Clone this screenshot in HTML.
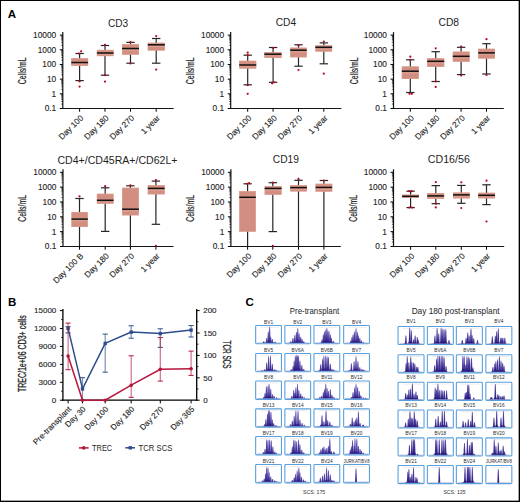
<!DOCTYPE html>
<html><head><meta charset="utf-8"><style>
html,body{margin:0;padding:0;background:#fff;}
#f{position:absolute;left:0;top:0;width:520px;height:502px;box-sizing:border-box;border:1px solid #000;overflow:hidden;}
svg{position:absolute;left:-1px;top:-1px;}
text{font-family:"Liberation Sans", sans-serif;}
.s{stroke:#1e1e1e;stroke-width:0.12px;}
</style></head><body><div id="f">
<svg width="520" height="502" viewBox="0 0 520 502">
<defs><linearGradient id="pg" x1="0" y1="1" x2="0" y2="0"><stop offset="0" stop-color="#20127a"/><stop offset="0.3" stop-color="#3d2d98"/><stop offset="1" stop-color="#7466c2"/></linearGradient><linearGradient id="pg2" x1="0" y1="1" x2="0" y2="0"><stop offset="0" stop-color="#1c0f72"/><stop offset="0.4" stop-color="#352590"/><stop offset="1" stop-color="#6558b4"/></linearGradient></defs>
<line x1="62.8" y1="32.1" x2="62.8" y2="109.1" stroke="#141414" stroke-width="1.2"/>
<line x1="62.199999999999996" y1="108.5" x2="173.7" y2="108.5" stroke="#141414" stroke-width="1.2"/>
<line x1="59.8" y1="35.10" x2="62.8" y2="35.10" stroke="#000" stroke-width="1"/>
<text x="56.20" y="37.95" font-size="8.3" text-anchor="end" fill="#1e1e1e" class="s">10000</text>
<line x1="61.199999999999996" y1="45.36" x2="62.8" y2="45.36" stroke="#000" stroke-width="0.6"/>
<line x1="61.199999999999996" y1="42.78" x2="62.8" y2="42.78" stroke="#000" stroke-width="0.6"/>
<line x1="61.199999999999996" y1="40.94" x2="62.8" y2="40.94" stroke="#000" stroke-width="0.6"/>
<line x1="61.199999999999996" y1="39.52" x2="62.8" y2="39.52" stroke="#000" stroke-width="0.6"/>
<line x1="61.199999999999996" y1="38.36" x2="62.8" y2="38.36" stroke="#000" stroke-width="0.6"/>
<line x1="61.199999999999996" y1="37.37" x2="62.8" y2="37.37" stroke="#000" stroke-width="0.6"/>
<line x1="61.199999999999996" y1="36.52" x2="62.8" y2="36.52" stroke="#000" stroke-width="0.6"/>
<line x1="61.199999999999996" y1="35.77" x2="62.8" y2="35.77" stroke="#000" stroke-width="0.6"/>
<line x1="59.8" y1="49.78" x2="62.8" y2="49.78" stroke="#000" stroke-width="1"/>
<text x="56.20" y="52.63" font-size="8.3" text-anchor="end" fill="#1e1e1e" class="s">1000</text>
<line x1="61.199999999999996" y1="60.04" x2="62.8" y2="60.04" stroke="#000" stroke-width="0.6"/>
<line x1="61.199999999999996" y1="57.46" x2="62.8" y2="57.46" stroke="#000" stroke-width="0.6"/>
<line x1="61.199999999999996" y1="55.62" x2="62.8" y2="55.62" stroke="#000" stroke-width="0.6"/>
<line x1="61.199999999999996" y1="54.20" x2="62.8" y2="54.20" stroke="#000" stroke-width="0.6"/>
<line x1="61.199999999999996" y1="53.04" x2="62.8" y2="53.04" stroke="#000" stroke-width="0.6"/>
<line x1="61.199999999999996" y1="52.05" x2="62.8" y2="52.05" stroke="#000" stroke-width="0.6"/>
<line x1="61.199999999999996" y1="51.20" x2="62.8" y2="51.20" stroke="#000" stroke-width="0.6"/>
<line x1="61.199999999999996" y1="50.45" x2="62.8" y2="50.45" stroke="#000" stroke-width="0.6"/>
<line x1="59.8" y1="64.46" x2="62.8" y2="64.46" stroke="#000" stroke-width="1"/>
<text x="56.20" y="67.31" font-size="8.3" text-anchor="end" fill="#1e1e1e" class="s">100</text>
<line x1="61.199999999999996" y1="74.72" x2="62.8" y2="74.72" stroke="#000" stroke-width="0.6"/>
<line x1="61.199999999999996" y1="72.14" x2="62.8" y2="72.14" stroke="#000" stroke-width="0.6"/>
<line x1="61.199999999999996" y1="70.30" x2="62.8" y2="70.30" stroke="#000" stroke-width="0.6"/>
<line x1="61.199999999999996" y1="68.88" x2="62.8" y2="68.88" stroke="#000" stroke-width="0.6"/>
<line x1="61.199999999999996" y1="67.72" x2="62.8" y2="67.72" stroke="#000" stroke-width="0.6"/>
<line x1="61.199999999999996" y1="66.73" x2="62.8" y2="66.73" stroke="#000" stroke-width="0.6"/>
<line x1="61.199999999999996" y1="65.88" x2="62.8" y2="65.88" stroke="#000" stroke-width="0.6"/>
<line x1="61.199999999999996" y1="65.13" x2="62.8" y2="65.13" stroke="#000" stroke-width="0.6"/>
<line x1="59.8" y1="79.14" x2="62.8" y2="79.14" stroke="#000" stroke-width="1"/>
<text x="56.20" y="81.99" font-size="8.3" text-anchor="end" fill="#1e1e1e" class="s">10</text>
<line x1="61.199999999999996" y1="89.40" x2="62.8" y2="89.40" stroke="#000" stroke-width="0.6"/>
<line x1="61.199999999999996" y1="86.82" x2="62.8" y2="86.82" stroke="#000" stroke-width="0.6"/>
<line x1="61.199999999999996" y1="84.98" x2="62.8" y2="84.98" stroke="#000" stroke-width="0.6"/>
<line x1="61.199999999999996" y1="83.56" x2="62.8" y2="83.56" stroke="#000" stroke-width="0.6"/>
<line x1="61.199999999999996" y1="82.40" x2="62.8" y2="82.40" stroke="#000" stroke-width="0.6"/>
<line x1="61.199999999999996" y1="81.41" x2="62.8" y2="81.41" stroke="#000" stroke-width="0.6"/>
<line x1="61.199999999999996" y1="80.56" x2="62.8" y2="80.56" stroke="#000" stroke-width="0.6"/>
<line x1="61.199999999999996" y1="79.81" x2="62.8" y2="79.81" stroke="#000" stroke-width="0.6"/>
<line x1="59.8" y1="93.82" x2="62.8" y2="93.82" stroke="#000" stroke-width="1"/>
<text x="56.20" y="96.67" font-size="8.3" text-anchor="end" fill="#1e1e1e" class="s">1</text>
<line x1="61.199999999999996" y1="104.08" x2="62.8" y2="104.08" stroke="#000" stroke-width="0.6"/>
<line x1="61.199999999999996" y1="101.50" x2="62.8" y2="101.50" stroke="#000" stroke-width="0.6"/>
<line x1="61.199999999999996" y1="99.66" x2="62.8" y2="99.66" stroke="#000" stroke-width="0.6"/>
<line x1="61.199999999999996" y1="98.24" x2="62.8" y2="98.24" stroke="#000" stroke-width="0.6"/>
<line x1="61.199999999999996" y1="97.08" x2="62.8" y2="97.08" stroke="#000" stroke-width="0.6"/>
<line x1="61.199999999999996" y1="96.09" x2="62.8" y2="96.09" stroke="#000" stroke-width="0.6"/>
<line x1="61.199999999999996" y1="95.24" x2="62.8" y2="95.24" stroke="#000" stroke-width="0.6"/>
<line x1="61.199999999999996" y1="94.49" x2="62.8" y2="94.49" stroke="#000" stroke-width="0.6"/>
<line x1="59.8" y1="108.50" x2="62.8" y2="108.50" stroke="#000" stroke-width="1"/>
<text x="56.20" y="111.35" font-size="8.3" text-anchor="end" fill="#1e1e1e" class="s">0.1</text>
<text x="118.00" y="26.50" font-size="10" text-anchor="middle" textLength="20.2" lengthAdjust="spacingAndGlyphs" fill="#1e1e1e">CD3</text>
<text transform="translate(26.20,70.80) rotate(-90)" font-size="10" text-anchor="middle" textLength="26.8" lengthAdjust="spacingAndGlyphs" fill="#1e1e1e" stroke="#1e1e1e" stroke-width="0.2">Cells/mL</text>
<line x1="79.6" y1="53.5" x2="79.6" y2="80.6" stroke="#262626" stroke-width="1.2"/>
<line x1="75.39999999999999" y1="53.5" x2="83.8" y2="53.5" stroke="#262626" stroke-width="1.2"/>
<line x1="75.39999999999999" y1="80.6" x2="83.8" y2="80.6" stroke="#262626" stroke-width="1.2"/>
<rect x="71.3" y="58.2" width="16.80" height="7.60" fill="#d28e80"/>
<rect x="71.6" y="58.5" width="16.20" height="7.00" fill="none" stroke="#dca090" stroke-width="0.6"/>
<line x1="71.89999999999999" y1="64.2" x2="87.5" y2="64.2" stroke="#e4ac9c" stroke-width="0.7"/>
<line x1="71.3" y1="62.5" x2="88.1" y2="62.5" stroke="#111" stroke-width="1.5"/>
<circle cx="81.1" cy="51.3" r="1.1" fill="#b8061e"/>
<circle cx="78.9" cy="53.5" r="1.1" fill="#b8061e"/>
<circle cx="79.6" cy="81.5" r="1.1" fill="#b8061e"/>
<circle cx="79.6" cy="86.6" r="1.1" fill="#b8061e"/>
<line x1="79.6" y1="108.5" x2="79.6" y2="111.7" stroke="#000" stroke-width="1"/>
<text transform="translate(83.90,118.50) rotate(-45)" font-size="8.3" text-anchor="end" fill="#1e1e1e" class="s">Day 100</text>
<line x1="105" y1="45.5" x2="105" y2="75.2" stroke="#262626" stroke-width="1.2"/>
<line x1="100.8" y1="45.5" x2="109.2" y2="45.5" stroke="#262626" stroke-width="1.2"/>
<line x1="100.8" y1="75.2" x2="109.2" y2="75.2" stroke="#262626" stroke-width="1.2"/>
<rect x="96.9" y="49.9" width="16.60" height="6.20" fill="#d28e80"/>
<rect x="97.2" y="50.199999999999996" width="16.00" height="5.60" fill="none" stroke="#dca090" stroke-width="0.6"/>
<line x1="97.5" y1="54.7" x2="112.9" y2="54.7" stroke="#e4ac9c" stroke-width="0.7"/>
<line x1="96.9" y1="53" x2="113.5" y2="53" stroke="#111" stroke-width="1.5"/>
<circle cx="105" cy="44.8" r="1.1" fill="#b8061e"/>
<circle cx="105" cy="75.2" r="1.1" fill="#b8061e"/>
<circle cx="105" cy="81.6" r="1.1" fill="#b8061e"/>
<line x1="105" y1="108.5" x2="105" y2="111.7" stroke="#000" stroke-width="1"/>
<text transform="translate(109.30,118.50) rotate(-45)" font-size="8.3" text-anchor="end" fill="#1e1e1e" class="s">Day 180</text>
<line x1="130.5" y1="42.4" x2="130.5" y2="63.2" stroke="#262626" stroke-width="1.2"/>
<line x1="126.3" y1="42.4" x2="134.7" y2="42.4" stroke="#262626" stroke-width="1.2"/>
<line x1="126.3" y1="63.2" x2="134.7" y2="63.2" stroke="#262626" stroke-width="1.2"/>
<rect x="122" y="44.2" width="17.00" height="10.40" fill="#d28e80"/>
<rect x="122.3" y="44.5" width="16.40" height="9.80" fill="none" stroke="#dca090" stroke-width="0.6"/>
<line x1="122.6" y1="50.2" x2="138.4" y2="50.2" stroke="#e4ac9c" stroke-width="0.7"/>
<line x1="122" y1="48.5" x2="139" y2="48.5" stroke="#111" stroke-width="1.5"/>
<circle cx="130.5" cy="42.2" r="1.1" fill="#b8061e"/>
<circle cx="130.5" cy="63.5" r="1.1" fill="#b8061e"/>
<line x1="130.5" y1="108.5" x2="130.5" y2="111.7" stroke="#000" stroke-width="1"/>
<text transform="translate(134.80,118.50) rotate(-45)" font-size="8.3" text-anchor="end" fill="#1e1e1e" class="s">Day 270</text>
<line x1="156.2" y1="38.5" x2="156.2" y2="63.2" stroke="#262626" stroke-width="1.2"/>
<line x1="152.0" y1="38.5" x2="160.39999999999998" y2="38.5" stroke="#262626" stroke-width="1.2"/>
<line x1="152.0" y1="63.2" x2="160.39999999999998" y2="63.2" stroke="#262626" stroke-width="1.2"/>
<rect x="147.8" y="42.8" width="17.00" height="7.70" fill="#d28e80"/>
<rect x="148.10000000000002" y="43.099999999999994" width="16.40" height="7.10" fill="none" stroke="#dca090" stroke-width="0.6"/>
<line x1="148.4" y1="46.5" x2="164.20000000000002" y2="46.5" stroke="#e4ac9c" stroke-width="0.7"/>
<line x1="147.8" y1="44.8" x2="164.8" y2="44.8" stroke="#111" stroke-width="1.5"/>
<circle cx="156.2" cy="36.1" r="1.1" fill="#b8061e"/>
<circle cx="156.2" cy="69.6" r="1.1" fill="#b8061e"/>
<line x1="156.2" y1="108.5" x2="156.2" y2="111.7" stroke="#000" stroke-width="1"/>
<text transform="translate(160.50,118.50) rotate(-45)" font-size="8.3" text-anchor="end" fill="#1e1e1e" class="s">1 year</text>
<line x1="230.7" y1="32.1" x2="230.7" y2="109.1" stroke="#141414" stroke-width="1.2"/>
<line x1="230.1" y1="108.5" x2="341.3" y2="108.5" stroke="#141414" stroke-width="1.2"/>
<line x1="227.7" y1="35.10" x2="230.7" y2="35.10" stroke="#000" stroke-width="1"/>
<text x="224.10" y="37.95" font-size="8.3" text-anchor="end" fill="#1e1e1e" class="s">10000</text>
<line x1="229.1" y1="45.36" x2="230.7" y2="45.36" stroke="#000" stroke-width="0.6"/>
<line x1="229.1" y1="42.78" x2="230.7" y2="42.78" stroke="#000" stroke-width="0.6"/>
<line x1="229.1" y1="40.94" x2="230.7" y2="40.94" stroke="#000" stroke-width="0.6"/>
<line x1="229.1" y1="39.52" x2="230.7" y2="39.52" stroke="#000" stroke-width="0.6"/>
<line x1="229.1" y1="38.36" x2="230.7" y2="38.36" stroke="#000" stroke-width="0.6"/>
<line x1="229.1" y1="37.37" x2="230.7" y2="37.37" stroke="#000" stroke-width="0.6"/>
<line x1="229.1" y1="36.52" x2="230.7" y2="36.52" stroke="#000" stroke-width="0.6"/>
<line x1="229.1" y1="35.77" x2="230.7" y2="35.77" stroke="#000" stroke-width="0.6"/>
<line x1="227.7" y1="49.78" x2="230.7" y2="49.78" stroke="#000" stroke-width="1"/>
<text x="224.10" y="52.63" font-size="8.3" text-anchor="end" fill="#1e1e1e" class="s">1000</text>
<line x1="229.1" y1="60.04" x2="230.7" y2="60.04" stroke="#000" stroke-width="0.6"/>
<line x1="229.1" y1="57.46" x2="230.7" y2="57.46" stroke="#000" stroke-width="0.6"/>
<line x1="229.1" y1="55.62" x2="230.7" y2="55.62" stroke="#000" stroke-width="0.6"/>
<line x1="229.1" y1="54.20" x2="230.7" y2="54.20" stroke="#000" stroke-width="0.6"/>
<line x1="229.1" y1="53.04" x2="230.7" y2="53.04" stroke="#000" stroke-width="0.6"/>
<line x1="229.1" y1="52.05" x2="230.7" y2="52.05" stroke="#000" stroke-width="0.6"/>
<line x1="229.1" y1="51.20" x2="230.7" y2="51.20" stroke="#000" stroke-width="0.6"/>
<line x1="229.1" y1="50.45" x2="230.7" y2="50.45" stroke="#000" stroke-width="0.6"/>
<line x1="227.7" y1="64.46" x2="230.7" y2="64.46" stroke="#000" stroke-width="1"/>
<text x="224.10" y="67.31" font-size="8.3" text-anchor="end" fill="#1e1e1e" class="s">100</text>
<line x1="229.1" y1="74.72" x2="230.7" y2="74.72" stroke="#000" stroke-width="0.6"/>
<line x1="229.1" y1="72.14" x2="230.7" y2="72.14" stroke="#000" stroke-width="0.6"/>
<line x1="229.1" y1="70.30" x2="230.7" y2="70.30" stroke="#000" stroke-width="0.6"/>
<line x1="229.1" y1="68.88" x2="230.7" y2="68.88" stroke="#000" stroke-width="0.6"/>
<line x1="229.1" y1="67.72" x2="230.7" y2="67.72" stroke="#000" stroke-width="0.6"/>
<line x1="229.1" y1="66.73" x2="230.7" y2="66.73" stroke="#000" stroke-width="0.6"/>
<line x1="229.1" y1="65.88" x2="230.7" y2="65.88" stroke="#000" stroke-width="0.6"/>
<line x1="229.1" y1="65.13" x2="230.7" y2="65.13" stroke="#000" stroke-width="0.6"/>
<line x1="227.7" y1="79.14" x2="230.7" y2="79.14" stroke="#000" stroke-width="1"/>
<text x="224.10" y="81.99" font-size="8.3" text-anchor="end" fill="#1e1e1e" class="s">10</text>
<line x1="229.1" y1="89.40" x2="230.7" y2="89.40" stroke="#000" stroke-width="0.6"/>
<line x1="229.1" y1="86.82" x2="230.7" y2="86.82" stroke="#000" stroke-width="0.6"/>
<line x1="229.1" y1="84.98" x2="230.7" y2="84.98" stroke="#000" stroke-width="0.6"/>
<line x1="229.1" y1="83.56" x2="230.7" y2="83.56" stroke="#000" stroke-width="0.6"/>
<line x1="229.1" y1="82.40" x2="230.7" y2="82.40" stroke="#000" stroke-width="0.6"/>
<line x1="229.1" y1="81.41" x2="230.7" y2="81.41" stroke="#000" stroke-width="0.6"/>
<line x1="229.1" y1="80.56" x2="230.7" y2="80.56" stroke="#000" stroke-width="0.6"/>
<line x1="229.1" y1="79.81" x2="230.7" y2="79.81" stroke="#000" stroke-width="0.6"/>
<line x1="227.7" y1="93.82" x2="230.7" y2="93.82" stroke="#000" stroke-width="1"/>
<text x="224.10" y="96.67" font-size="8.3" text-anchor="end" fill="#1e1e1e" class="s">1</text>
<line x1="229.1" y1="104.08" x2="230.7" y2="104.08" stroke="#000" stroke-width="0.6"/>
<line x1="229.1" y1="101.50" x2="230.7" y2="101.50" stroke="#000" stroke-width="0.6"/>
<line x1="229.1" y1="99.66" x2="230.7" y2="99.66" stroke="#000" stroke-width="0.6"/>
<line x1="229.1" y1="98.24" x2="230.7" y2="98.24" stroke="#000" stroke-width="0.6"/>
<line x1="229.1" y1="97.08" x2="230.7" y2="97.08" stroke="#000" stroke-width="0.6"/>
<line x1="229.1" y1="96.09" x2="230.7" y2="96.09" stroke="#000" stroke-width="0.6"/>
<line x1="229.1" y1="95.24" x2="230.7" y2="95.24" stroke="#000" stroke-width="0.6"/>
<line x1="229.1" y1="94.49" x2="230.7" y2="94.49" stroke="#000" stroke-width="0.6"/>
<line x1="227.7" y1="108.50" x2="230.7" y2="108.50" stroke="#000" stroke-width="1"/>
<text x="224.10" y="111.35" font-size="8.3" text-anchor="end" fill="#1e1e1e" class="s">0.1</text>
<text x="285.90" y="26.40" font-size="10" text-anchor="middle" textLength="20.4" lengthAdjust="spacingAndGlyphs" fill="#1e1e1e">CD4</text>
<text transform="translate(193.80,70.80) rotate(-90)" font-size="10" text-anchor="middle" textLength="26.8" lengthAdjust="spacingAndGlyphs" fill="#1e1e1e" stroke="#1e1e1e" stroke-width="0.2">Cells/mL</text>
<line x1="247.7" y1="55.2" x2="247.7" y2="84.8" stroke="#262626" stroke-width="1.2"/>
<line x1="243.5" y1="55.2" x2="251.89999999999998" y2="55.2" stroke="#262626" stroke-width="1.2"/>
<line x1="243.5" y1="84.8" x2="251.89999999999998" y2="84.8" stroke="#262626" stroke-width="1.2"/>
<rect x="239.2" y="60.8" width="17.00" height="7.70" fill="#d28e80"/>
<rect x="239.5" y="61.099999999999994" width="16.40" height="7.10" fill="none" stroke="#dca090" stroke-width="0.6"/>
<line x1="239.79999999999998" y1="66.7" x2="255.6" y2="66.7" stroke="#e4ac9c" stroke-width="0.7"/>
<line x1="239.2" y1="65" x2="256.2" y2="65" stroke="#111" stroke-width="1.5"/>
<circle cx="247.7" cy="52.7" r="1.1" fill="#b8061e"/>
<circle cx="247.7" cy="55.2" r="1.1" fill="#b8061e"/>
<circle cx="247.7" cy="85.2" r="1.1" fill="#b8061e"/>
<circle cx="247.7" cy="93.8" r="1.1" fill="#b8061e"/>
<line x1="247.7" y1="108.5" x2="247.7" y2="111.7" stroke="#000" stroke-width="1"/>
<text transform="translate(252.00,118.50) rotate(-45)" font-size="8.3" text-anchor="end" fill="#1e1e1e" class="s">Day 100</text>
<line x1="273.1" y1="47.5" x2="273.1" y2="82.3" stroke="#262626" stroke-width="1.2"/>
<line x1="268.90000000000003" y1="47.5" x2="277.3" y2="47.5" stroke="#262626" stroke-width="1.2"/>
<line x1="268.90000000000003" y1="82.3" x2="277.3" y2="82.3" stroke="#262626" stroke-width="1.2"/>
<rect x="264.4" y="52.1" width="17.10" height="5.80" fill="#d28e80"/>
<rect x="264.7" y="52.4" width="16.50" height="5.20" fill="none" stroke="#dca090" stroke-width="0.6"/>
<line x1="265.0" y1="55.900000000000006" x2="280.9" y2="55.900000000000006" stroke="#e4ac9c" stroke-width="0.7"/>
<line x1="264.4" y1="54.2" x2="281.5" y2="54.2" stroke="#111" stroke-width="1.5"/>
<circle cx="273.1" cy="47.9" r="1.1" fill="#b8061e"/>
<circle cx="272.1" cy="83.3" r="1.1" fill="#b8061e"/>
<circle cx="274" cy="82.3" r="1.1" fill="#b8061e"/>
<line x1="273.1" y1="108.5" x2="273.1" y2="111.7" stroke="#000" stroke-width="1"/>
<text transform="translate(277.40,118.50) rotate(-45)" font-size="8.3" text-anchor="end" fill="#1e1e1e" class="s">Day 180</text>
<line x1="298.5" y1="44.8" x2="298.5" y2="66.2" stroke="#262626" stroke-width="1.2"/>
<line x1="294.3" y1="44.8" x2="302.7" y2="44.8" stroke="#262626" stroke-width="1.2"/>
<line x1="294.3" y1="66.2" x2="302.7" y2="66.2" stroke="#262626" stroke-width="1.2"/>
<rect x="290.2" y="47.7" width="16.50" height="9.60" fill="#d28e80"/>
<rect x="290.5" y="48.0" width="15.90" height="9.00" fill="none" stroke="#dca090" stroke-width="0.6"/>
<line x1="290.8" y1="51.900000000000006" x2="306.09999999999997" y2="51.900000000000006" stroke="#e4ac9c" stroke-width="0.7"/>
<line x1="290.2" y1="50.2" x2="306.7" y2="50.2" stroke="#111" stroke-width="1.5"/>
<circle cx="298.5" cy="45.2" r="1.1" fill="#b8061e"/>
<circle cx="298.5" cy="70" r="1.1" fill="#b8061e"/>
<line x1="298.5" y1="108.5" x2="298.5" y2="111.7" stroke="#000" stroke-width="1"/>
<text transform="translate(302.80,118.50) rotate(-45)" font-size="8.3" text-anchor="end" fill="#1e1e1e" class="s">Day 270</text>
<line x1="323.8" y1="42.9" x2="323.8" y2="63.8" stroke="#262626" stroke-width="1.2"/>
<line x1="319.6" y1="42.9" x2="328.0" y2="42.9" stroke="#262626" stroke-width="1.2"/>
<line x1="319.6" y1="63.8" x2="328.0" y2="63.8" stroke="#262626" stroke-width="1.2"/>
<rect x="315.4" y="45.4" width="16.70" height="6.10" fill="#d28e80"/>
<rect x="315.7" y="45.699999999999996" width="16.10" height="5.50" fill="none" stroke="#dca090" stroke-width="0.6"/>
<line x1="316.0" y1="49.0" x2="331.5" y2="49.0" stroke="#e4ac9c" stroke-width="0.7"/>
<line x1="315.4" y1="47.3" x2="332.1" y2="47.3" stroke="#111" stroke-width="1.5"/>
<circle cx="323.8" cy="41.5" r="1.1" fill="#b8061e"/>
<circle cx="323.8" cy="73.7" r="1.1" fill="#b8061e"/>
<line x1="323.8" y1="108.5" x2="323.8" y2="111.7" stroke="#000" stroke-width="1"/>
<text transform="translate(328.10,118.50) rotate(-45)" font-size="8.3" text-anchor="end" fill="#1e1e1e" class="s">1 year</text>
<line x1="393.5" y1="32.1" x2="393.5" y2="109.1" stroke="#141414" stroke-width="1.2"/>
<line x1="392.9" y1="108.5" x2="503.8" y2="108.5" stroke="#141414" stroke-width="1.2"/>
<line x1="390.5" y1="35.10" x2="393.5" y2="35.10" stroke="#000" stroke-width="1"/>
<text x="386.90" y="37.95" font-size="8.3" text-anchor="end" fill="#1e1e1e" class="s">10000</text>
<line x1="391.9" y1="45.36" x2="393.5" y2="45.36" stroke="#000" stroke-width="0.6"/>
<line x1="391.9" y1="42.78" x2="393.5" y2="42.78" stroke="#000" stroke-width="0.6"/>
<line x1="391.9" y1="40.94" x2="393.5" y2="40.94" stroke="#000" stroke-width="0.6"/>
<line x1="391.9" y1="39.52" x2="393.5" y2="39.52" stroke="#000" stroke-width="0.6"/>
<line x1="391.9" y1="38.36" x2="393.5" y2="38.36" stroke="#000" stroke-width="0.6"/>
<line x1="391.9" y1="37.37" x2="393.5" y2="37.37" stroke="#000" stroke-width="0.6"/>
<line x1="391.9" y1="36.52" x2="393.5" y2="36.52" stroke="#000" stroke-width="0.6"/>
<line x1="391.9" y1="35.77" x2="393.5" y2="35.77" stroke="#000" stroke-width="0.6"/>
<line x1="390.5" y1="49.78" x2="393.5" y2="49.78" stroke="#000" stroke-width="1"/>
<text x="386.90" y="52.63" font-size="8.3" text-anchor="end" fill="#1e1e1e" class="s">1000</text>
<line x1="391.9" y1="60.04" x2="393.5" y2="60.04" stroke="#000" stroke-width="0.6"/>
<line x1="391.9" y1="57.46" x2="393.5" y2="57.46" stroke="#000" stroke-width="0.6"/>
<line x1="391.9" y1="55.62" x2="393.5" y2="55.62" stroke="#000" stroke-width="0.6"/>
<line x1="391.9" y1="54.20" x2="393.5" y2="54.20" stroke="#000" stroke-width="0.6"/>
<line x1="391.9" y1="53.04" x2="393.5" y2="53.04" stroke="#000" stroke-width="0.6"/>
<line x1="391.9" y1="52.05" x2="393.5" y2="52.05" stroke="#000" stroke-width="0.6"/>
<line x1="391.9" y1="51.20" x2="393.5" y2="51.20" stroke="#000" stroke-width="0.6"/>
<line x1="391.9" y1="50.45" x2="393.5" y2="50.45" stroke="#000" stroke-width="0.6"/>
<line x1="390.5" y1="64.46" x2="393.5" y2="64.46" stroke="#000" stroke-width="1"/>
<text x="386.90" y="67.31" font-size="8.3" text-anchor="end" fill="#1e1e1e" class="s">100</text>
<line x1="391.9" y1="74.72" x2="393.5" y2="74.72" stroke="#000" stroke-width="0.6"/>
<line x1="391.9" y1="72.14" x2="393.5" y2="72.14" stroke="#000" stroke-width="0.6"/>
<line x1="391.9" y1="70.30" x2="393.5" y2="70.30" stroke="#000" stroke-width="0.6"/>
<line x1="391.9" y1="68.88" x2="393.5" y2="68.88" stroke="#000" stroke-width="0.6"/>
<line x1="391.9" y1="67.72" x2="393.5" y2="67.72" stroke="#000" stroke-width="0.6"/>
<line x1="391.9" y1="66.73" x2="393.5" y2="66.73" stroke="#000" stroke-width="0.6"/>
<line x1="391.9" y1="65.88" x2="393.5" y2="65.88" stroke="#000" stroke-width="0.6"/>
<line x1="391.9" y1="65.13" x2="393.5" y2="65.13" stroke="#000" stroke-width="0.6"/>
<line x1="390.5" y1="79.14" x2="393.5" y2="79.14" stroke="#000" stroke-width="1"/>
<text x="386.90" y="81.99" font-size="8.3" text-anchor="end" fill="#1e1e1e" class="s">10</text>
<line x1="391.9" y1="89.40" x2="393.5" y2="89.40" stroke="#000" stroke-width="0.6"/>
<line x1="391.9" y1="86.82" x2="393.5" y2="86.82" stroke="#000" stroke-width="0.6"/>
<line x1="391.9" y1="84.98" x2="393.5" y2="84.98" stroke="#000" stroke-width="0.6"/>
<line x1="391.9" y1="83.56" x2="393.5" y2="83.56" stroke="#000" stroke-width="0.6"/>
<line x1="391.9" y1="82.40" x2="393.5" y2="82.40" stroke="#000" stroke-width="0.6"/>
<line x1="391.9" y1="81.41" x2="393.5" y2="81.41" stroke="#000" stroke-width="0.6"/>
<line x1="391.9" y1="80.56" x2="393.5" y2="80.56" stroke="#000" stroke-width="0.6"/>
<line x1="391.9" y1="79.81" x2="393.5" y2="79.81" stroke="#000" stroke-width="0.6"/>
<line x1="390.5" y1="93.82" x2="393.5" y2="93.82" stroke="#000" stroke-width="1"/>
<text x="386.90" y="96.67" font-size="8.3" text-anchor="end" fill="#1e1e1e" class="s">1</text>
<line x1="391.9" y1="104.08" x2="393.5" y2="104.08" stroke="#000" stroke-width="0.6"/>
<line x1="391.9" y1="101.50" x2="393.5" y2="101.50" stroke="#000" stroke-width="0.6"/>
<line x1="391.9" y1="99.66" x2="393.5" y2="99.66" stroke="#000" stroke-width="0.6"/>
<line x1="391.9" y1="98.24" x2="393.5" y2="98.24" stroke="#000" stroke-width="0.6"/>
<line x1="391.9" y1="97.08" x2="393.5" y2="97.08" stroke="#000" stroke-width="0.6"/>
<line x1="391.9" y1="96.09" x2="393.5" y2="96.09" stroke="#000" stroke-width="0.6"/>
<line x1="391.9" y1="95.24" x2="393.5" y2="95.24" stroke="#000" stroke-width="0.6"/>
<line x1="391.9" y1="94.49" x2="393.5" y2="94.49" stroke="#000" stroke-width="0.6"/>
<line x1="390.5" y1="108.50" x2="393.5" y2="108.50" stroke="#000" stroke-width="1"/>
<text x="386.90" y="111.35" font-size="8.3" text-anchor="end" fill="#1e1e1e" class="s">0.1</text>
<text x="448.80" y="26.40" font-size="10" text-anchor="middle" textLength="20.6" lengthAdjust="spacingAndGlyphs" fill="#1e1e1e">CD8</text>
<text transform="translate(357.50,70.80) rotate(-90)" font-size="10" text-anchor="middle" textLength="26.8" lengthAdjust="spacingAndGlyphs" fill="#1e1e1e" stroke="#1e1e1e" stroke-width="0.2">Cells/mL</text>
<line x1="410.3" y1="59.8" x2="410.3" y2="92.5" stroke="#262626" stroke-width="1.2"/>
<line x1="406.1" y1="59.8" x2="414.5" y2="59.8" stroke="#262626" stroke-width="1.2"/>
<line x1="406.1" y1="92.5" x2="414.5" y2="92.5" stroke="#262626" stroke-width="1.2"/>
<rect x="401.8" y="66.5" width="17.00" height="12.50" fill="#d28e80"/>
<rect x="402.1" y="66.8" width="16.40" height="11.90" fill="none" stroke="#dca090" stroke-width="0.6"/>
<line x1="402.40000000000003" y1="72.9" x2="418.2" y2="72.9" stroke="#e4ac9c" stroke-width="0.7"/>
<line x1="401.8" y1="71.2" x2="418.8" y2="71.2" stroke="#111" stroke-width="1.5"/>
<circle cx="410.3" cy="56.7" r="1.1" fill="#b8061e"/>
<circle cx="410.3" cy="59.8" r="1.1" fill="#b8061e"/>
<circle cx="409.5" cy="93.8" r="1.1" fill="#b8061e"/>
<circle cx="411.8" cy="93.8" r="1.1" fill="#b8061e"/>
<line x1="410.3" y1="108.5" x2="410.3" y2="111.7" stroke="#000" stroke-width="1"/>
<text transform="translate(414.60,118.50) rotate(-45)" font-size="8.3" text-anchor="end" fill="#1e1e1e" class="s">Day 100</text>
<line x1="435.7" y1="51.7" x2="435.7" y2="81.5" stroke="#262626" stroke-width="1.2"/>
<line x1="431.5" y1="51.7" x2="439.9" y2="51.7" stroke="#262626" stroke-width="1.2"/>
<line x1="431.5" y1="81.5" x2="439.9" y2="81.5" stroke="#262626" stroke-width="1.2"/>
<rect x="427.2" y="58.3" width="17.00" height="8.60" fill="#d28e80"/>
<rect x="427.5" y="58.599999999999994" width="16.40" height="8.00" fill="none" stroke="#dca090" stroke-width="0.6"/>
<line x1="427.8" y1="63.0" x2="443.59999999999997" y2="63.0" stroke="#e4ac9c" stroke-width="0.7"/>
<line x1="427.2" y1="61.3" x2="444.2" y2="61.3" stroke="#111" stroke-width="1.5"/>
<circle cx="435.7" cy="48.3" r="1.1" fill="#b8061e"/>
<circle cx="435.7" cy="81.5" r="1.1" fill="#b8061e"/>
<circle cx="435.7" cy="86.9" r="1.1" fill="#b8061e"/>
<line x1="435.7" y1="108.5" x2="435.7" y2="111.7" stroke="#000" stroke-width="1"/>
<text transform="translate(440.00,118.50) rotate(-45)" font-size="8.3" text-anchor="end" fill="#1e1e1e" class="s">Day 180</text>
<line x1="461.1" y1="47.3" x2="461.1" y2="74.6" stroke="#262626" stroke-width="1.2"/>
<line x1="456.90000000000003" y1="47.3" x2="465.3" y2="47.3" stroke="#262626" stroke-width="1.2"/>
<line x1="456.90000000000003" y1="74.6" x2="465.3" y2="74.6" stroke="#262626" stroke-width="1.2"/>
<rect x="452.8" y="51.7" width="16.70" height="10.00" fill="#d28e80"/>
<rect x="453.1" y="52.0" width="16.10" height="9.40" fill="none" stroke="#dca090" stroke-width="0.6"/>
<line x1="453.40000000000003" y1="58.0" x2="468.9" y2="58.0" stroke="#e4ac9c" stroke-width="0.7"/>
<line x1="452.8" y1="56.3" x2="469.5" y2="56.3" stroke="#111" stroke-width="1.5"/>
<circle cx="461.1" cy="46.5" r="1.1" fill="#b8061e"/>
<circle cx="461.1" cy="75.4" r="1.1" fill="#b8061e"/>
<line x1="461.1" y1="108.5" x2="461.1" y2="111.7" stroke="#000" stroke-width="1"/>
<text transform="translate(465.40,118.50) rotate(-45)" font-size="8.3" text-anchor="end" fill="#1e1e1e" class="s">Day 270</text>
<line x1="486.5" y1="43.7" x2="486.5" y2="74" stroke="#262626" stroke-width="1.2"/>
<line x1="482.3" y1="43.7" x2="490.7" y2="43.7" stroke="#262626" stroke-width="1.2"/>
<line x1="482.3" y1="74" x2="490.7" y2="74" stroke="#262626" stroke-width="1.2"/>
<rect x="478.2" y="48.8" width="16.70" height="9.70" fill="#d28e80"/>
<rect x="478.5" y="49.099999999999994" width="16.10" height="9.10" fill="none" stroke="#dca090" stroke-width="0.6"/>
<line x1="478.8" y1="54.6" x2="494.29999999999995" y2="54.6" stroke="#e4ac9c" stroke-width="0.7"/>
<line x1="478.2" y1="52.9" x2="494.9" y2="52.9" stroke="#111" stroke-width="1.5"/>
<circle cx="486.5" cy="39.2" r="1.1" fill="#b8061e"/>
<circle cx="486.5" cy="75" r="1.1" fill="#b8061e"/>
<line x1="486.5" y1="108.5" x2="486.5" y2="111.7" stroke="#000" stroke-width="1"/>
<text transform="translate(490.80,118.50) rotate(-45)" font-size="8.3" text-anchor="end" fill="#1e1e1e" class="s">1 year</text>
<line x1="63.0" y1="169.3" x2="63.0" y2="247.1" stroke="#141414" stroke-width="1.2"/>
<line x1="62.4" y1="246.5" x2="173.5" y2="246.5" stroke="#141414" stroke-width="1.2"/>
<line x1="60.0" y1="172.30" x2="63.0" y2="172.30" stroke="#000" stroke-width="1"/>
<text x="56.40" y="175.15" font-size="8.3" text-anchor="end" fill="#1e1e1e" class="s">10000</text>
<line x1="61.4" y1="182.67" x2="63.0" y2="182.67" stroke="#000" stroke-width="0.6"/>
<line x1="61.4" y1="180.06" x2="63.0" y2="180.06" stroke="#000" stroke-width="0.6"/>
<line x1="61.4" y1="178.21" x2="63.0" y2="178.21" stroke="#000" stroke-width="0.6"/>
<line x1="61.4" y1="176.77" x2="63.0" y2="176.77" stroke="#000" stroke-width="0.6"/>
<line x1="61.4" y1="175.59" x2="63.0" y2="175.59" stroke="#000" stroke-width="0.6"/>
<line x1="61.4" y1="174.60" x2="63.0" y2="174.60" stroke="#000" stroke-width="0.6"/>
<line x1="61.4" y1="173.74" x2="63.0" y2="173.74" stroke="#000" stroke-width="0.6"/>
<line x1="61.4" y1="172.98" x2="63.0" y2="172.98" stroke="#000" stroke-width="0.6"/>
<line x1="60.0" y1="187.14" x2="63.0" y2="187.14" stroke="#000" stroke-width="1"/>
<text x="56.40" y="189.99" font-size="8.3" text-anchor="end" fill="#1e1e1e" class="s">1000</text>
<line x1="61.4" y1="197.51" x2="63.0" y2="197.51" stroke="#000" stroke-width="0.6"/>
<line x1="61.4" y1="194.90" x2="63.0" y2="194.90" stroke="#000" stroke-width="0.6"/>
<line x1="61.4" y1="193.05" x2="63.0" y2="193.05" stroke="#000" stroke-width="0.6"/>
<line x1="61.4" y1="191.61" x2="63.0" y2="191.61" stroke="#000" stroke-width="0.6"/>
<line x1="61.4" y1="190.43" x2="63.0" y2="190.43" stroke="#000" stroke-width="0.6"/>
<line x1="61.4" y1="189.44" x2="63.0" y2="189.44" stroke="#000" stroke-width="0.6"/>
<line x1="61.4" y1="188.58" x2="63.0" y2="188.58" stroke="#000" stroke-width="0.6"/>
<line x1="61.4" y1="187.82" x2="63.0" y2="187.82" stroke="#000" stroke-width="0.6"/>
<line x1="60.0" y1="201.98" x2="63.0" y2="201.98" stroke="#000" stroke-width="1"/>
<text x="56.40" y="204.83" font-size="8.3" text-anchor="end" fill="#1e1e1e" class="s">100</text>
<line x1="61.4" y1="212.35" x2="63.0" y2="212.35" stroke="#000" stroke-width="0.6"/>
<line x1="61.4" y1="209.74" x2="63.0" y2="209.74" stroke="#000" stroke-width="0.6"/>
<line x1="61.4" y1="207.89" x2="63.0" y2="207.89" stroke="#000" stroke-width="0.6"/>
<line x1="61.4" y1="206.45" x2="63.0" y2="206.45" stroke="#000" stroke-width="0.6"/>
<line x1="61.4" y1="205.27" x2="63.0" y2="205.27" stroke="#000" stroke-width="0.6"/>
<line x1="61.4" y1="204.28" x2="63.0" y2="204.28" stroke="#000" stroke-width="0.6"/>
<line x1="61.4" y1="203.42" x2="63.0" y2="203.42" stroke="#000" stroke-width="0.6"/>
<line x1="61.4" y1="202.66" x2="63.0" y2="202.66" stroke="#000" stroke-width="0.6"/>
<line x1="60.0" y1="216.82" x2="63.0" y2="216.82" stroke="#000" stroke-width="1"/>
<text x="56.40" y="219.67" font-size="8.3" text-anchor="end" fill="#1e1e1e" class="s">10</text>
<line x1="61.4" y1="227.19" x2="63.0" y2="227.19" stroke="#000" stroke-width="0.6"/>
<line x1="61.4" y1="224.58" x2="63.0" y2="224.58" stroke="#000" stroke-width="0.6"/>
<line x1="61.4" y1="222.73" x2="63.0" y2="222.73" stroke="#000" stroke-width="0.6"/>
<line x1="61.4" y1="221.29" x2="63.0" y2="221.29" stroke="#000" stroke-width="0.6"/>
<line x1="61.4" y1="220.11" x2="63.0" y2="220.11" stroke="#000" stroke-width="0.6"/>
<line x1="61.4" y1="219.12" x2="63.0" y2="219.12" stroke="#000" stroke-width="0.6"/>
<line x1="61.4" y1="218.26" x2="63.0" y2="218.26" stroke="#000" stroke-width="0.6"/>
<line x1="61.4" y1="217.50" x2="63.0" y2="217.50" stroke="#000" stroke-width="0.6"/>
<line x1="60.0" y1="231.66" x2="63.0" y2="231.66" stroke="#000" stroke-width="1"/>
<text x="56.40" y="234.51" font-size="8.3" text-anchor="end" fill="#1e1e1e" class="s">1</text>
<line x1="61.4" y1="242.03" x2="63.0" y2="242.03" stroke="#000" stroke-width="0.6"/>
<line x1="61.4" y1="239.42" x2="63.0" y2="239.42" stroke="#000" stroke-width="0.6"/>
<line x1="61.4" y1="237.57" x2="63.0" y2="237.57" stroke="#000" stroke-width="0.6"/>
<line x1="61.4" y1="236.13" x2="63.0" y2="236.13" stroke="#000" stroke-width="0.6"/>
<line x1="61.4" y1="234.95" x2="63.0" y2="234.95" stroke="#000" stroke-width="0.6"/>
<line x1="61.4" y1="233.96" x2="63.0" y2="233.96" stroke="#000" stroke-width="0.6"/>
<line x1="61.4" y1="233.10" x2="63.0" y2="233.10" stroke="#000" stroke-width="0.6"/>
<line x1="61.4" y1="232.34" x2="63.0" y2="232.34" stroke="#000" stroke-width="0.6"/>
<line x1="60.0" y1="246.50" x2="63.0" y2="246.50" stroke="#000" stroke-width="1"/>
<text x="56.40" y="249.35" font-size="8.3" text-anchor="end" fill="#1e1e1e" class="s">0.1</text>
<text x="117.50" y="163.60" font-size="10" text-anchor="middle" textLength="120" lengthAdjust="spacingAndGlyphs" fill="#1e1e1e">CD4+/CD45RA+/CD62L+</text>
<text transform="translate(26.20,208.40) rotate(-90)" font-size="10" text-anchor="middle" textLength="26.8" lengthAdjust="spacingAndGlyphs" fill="#1e1e1e" stroke="#1e1e1e" stroke-width="0.2">Cells/mL</text>
<line x1="79.5" y1="198.5" x2="79.5" y2="246.5" stroke="#262626" stroke-width="1.2"/>
<line x1="75.3" y1="198.5" x2="83.7" y2="198.5" stroke="#262626" stroke-width="1.2"/>
<rect x="71.5" y="212" width="16.30" height="15.00" fill="#d28e80"/>
<rect x="71.8" y="212.3" width="15.70" height="14.40" fill="none" stroke="#dca090" stroke-width="0.6"/>
<line x1="72.1" y1="220.79999999999998" x2="87.2" y2="220.79999999999998" stroke="#e4ac9c" stroke-width="0.7"/>
<line x1="71.5" y1="219.1" x2="87.8" y2="219.1" stroke="#111" stroke-width="1.5"/>
<circle cx="79.5" cy="196.3" r="1.1" fill="#b8061e"/>
<line x1="79.5" y1="246.5" x2="79.5" y2="249.7" stroke="#000" stroke-width="1"/>
<text transform="translate(83.80,256.50) rotate(-45)" font-size="8.3" text-anchor="end" fill="#1e1e1e" class="s">Day 100 B</text>
<line x1="105.2" y1="187.8" x2="105.2" y2="231.4" stroke="#262626" stroke-width="1.2"/>
<line x1="101.0" y1="187.8" x2="109.4" y2="187.8" stroke="#262626" stroke-width="1.2"/>
<line x1="101.0" y1="231.4" x2="109.4" y2="231.4" stroke="#262626" stroke-width="1.2"/>
<rect x="96.9" y="193.8" width="16.60" height="9.90" fill="#d28e80"/>
<rect x="97.2" y="194.10000000000002" width="16.00" height="9.30" fill="none" stroke="#dca090" stroke-width="0.6"/>
<line x1="97.5" y1="202.0" x2="112.9" y2="202.0" stroke="#e4ac9c" stroke-width="0.7"/>
<line x1="96.9" y1="200.3" x2="113.5" y2="200.3" stroke="#111" stroke-width="1.5"/>
<circle cx="105.2" cy="186.2" r="1.1" fill="#b8061e"/>
<line x1="105.2" y1="246.5" x2="105.2" y2="249.7" stroke="#000" stroke-width="1"/>
<text transform="translate(109.50,256.50) rotate(-45)" font-size="8.3" text-anchor="end" fill="#1e1e1e" class="s">Day 180</text>
<line x1="130.4" y1="185.8" x2="130.4" y2="246.5" stroke="#262626" stroke-width="1.2"/>
<line x1="126.2" y1="185.8" x2="134.6" y2="185.8" stroke="#262626" stroke-width="1.2"/>
<rect x="122.1" y="187.8" width="16.80" height="27.50" fill="#d28e80"/>
<rect x="122.39999999999999" y="188.10000000000002" width="16.20" height="26.90" fill="none" stroke="#dca090" stroke-width="0.6"/>
<line x1="122.69999999999999" y1="210.89999999999998" x2="138.3" y2="210.89999999999998" stroke="#e4ac9c" stroke-width="0.7"/>
<line x1="122.1" y1="209.2" x2="138.9" y2="209.2" stroke="#111" stroke-width="1.5"/>
<circle cx="130.4" cy="185.4" r="1.1" fill="#b8061e"/>
<line x1="130.4" y1="246.5" x2="130.4" y2="249.7" stroke="#000" stroke-width="1"/>
<text transform="translate(134.70,256.50) rotate(-45)" font-size="8.3" text-anchor="end" fill="#1e1e1e" class="s">Day 270</text>
<line x1="155.9" y1="181.1" x2="155.9" y2="224.3" stroke="#262626" stroke-width="1.2"/>
<line x1="151.70000000000002" y1="181.1" x2="160.1" y2="181.1" stroke="#262626" stroke-width="1.2"/>
<line x1="151.70000000000002" y1="224.3" x2="160.1" y2="224.3" stroke="#262626" stroke-width="1.2"/>
<rect x="147.8" y="185.2" width="16.80" height="9.10" fill="#d28e80"/>
<rect x="148.10000000000002" y="185.5" width="16.20" height="8.50" fill="none" stroke="#dca090" stroke-width="0.6"/>
<line x1="148.4" y1="190.1" x2="164.0" y2="190.1" stroke="#e4ac9c" stroke-width="0.7"/>
<line x1="147.8" y1="188.4" x2="164.6" y2="188.4" stroke="#111" stroke-width="1.5"/>
<circle cx="155.9" cy="180.1" r="1.1" fill="#b8061e"/>
<circle cx="155.9" cy="245.9" r="1.1" fill="#b8061e"/>
<line x1="155.9" y1="246.5" x2="155.9" y2="249.7" stroke="#000" stroke-width="1"/>
<text transform="translate(160.20,256.50) rotate(-45)" font-size="8.3" text-anchor="end" fill="#1e1e1e" class="s">1 year</text>
<line x1="230.9" y1="169.3" x2="230.9" y2="247.1" stroke="#141414" stroke-width="1.2"/>
<line x1="230.3" y1="246.5" x2="340.8" y2="246.5" stroke="#141414" stroke-width="1.2"/>
<line x1="227.9" y1="172.30" x2="230.9" y2="172.30" stroke="#000" stroke-width="1"/>
<text x="224.30" y="175.15" font-size="8.3" text-anchor="end" fill="#1e1e1e" class="s">10000</text>
<line x1="229.3" y1="182.67" x2="230.9" y2="182.67" stroke="#000" stroke-width="0.6"/>
<line x1="229.3" y1="180.06" x2="230.9" y2="180.06" stroke="#000" stroke-width="0.6"/>
<line x1="229.3" y1="178.21" x2="230.9" y2="178.21" stroke="#000" stroke-width="0.6"/>
<line x1="229.3" y1="176.77" x2="230.9" y2="176.77" stroke="#000" stroke-width="0.6"/>
<line x1="229.3" y1="175.59" x2="230.9" y2="175.59" stroke="#000" stroke-width="0.6"/>
<line x1="229.3" y1="174.60" x2="230.9" y2="174.60" stroke="#000" stroke-width="0.6"/>
<line x1="229.3" y1="173.74" x2="230.9" y2="173.74" stroke="#000" stroke-width="0.6"/>
<line x1="229.3" y1="172.98" x2="230.9" y2="172.98" stroke="#000" stroke-width="0.6"/>
<line x1="227.9" y1="187.14" x2="230.9" y2="187.14" stroke="#000" stroke-width="1"/>
<text x="224.30" y="189.99" font-size="8.3" text-anchor="end" fill="#1e1e1e" class="s">1000</text>
<line x1="229.3" y1="197.51" x2="230.9" y2="197.51" stroke="#000" stroke-width="0.6"/>
<line x1="229.3" y1="194.90" x2="230.9" y2="194.90" stroke="#000" stroke-width="0.6"/>
<line x1="229.3" y1="193.05" x2="230.9" y2="193.05" stroke="#000" stroke-width="0.6"/>
<line x1="229.3" y1="191.61" x2="230.9" y2="191.61" stroke="#000" stroke-width="0.6"/>
<line x1="229.3" y1="190.43" x2="230.9" y2="190.43" stroke="#000" stroke-width="0.6"/>
<line x1="229.3" y1="189.44" x2="230.9" y2="189.44" stroke="#000" stroke-width="0.6"/>
<line x1="229.3" y1="188.58" x2="230.9" y2="188.58" stroke="#000" stroke-width="0.6"/>
<line x1="229.3" y1="187.82" x2="230.9" y2="187.82" stroke="#000" stroke-width="0.6"/>
<line x1="227.9" y1="201.98" x2="230.9" y2="201.98" stroke="#000" stroke-width="1"/>
<text x="224.30" y="204.83" font-size="8.3" text-anchor="end" fill="#1e1e1e" class="s">100</text>
<line x1="229.3" y1="212.35" x2="230.9" y2="212.35" stroke="#000" stroke-width="0.6"/>
<line x1="229.3" y1="209.74" x2="230.9" y2="209.74" stroke="#000" stroke-width="0.6"/>
<line x1="229.3" y1="207.89" x2="230.9" y2="207.89" stroke="#000" stroke-width="0.6"/>
<line x1="229.3" y1="206.45" x2="230.9" y2="206.45" stroke="#000" stroke-width="0.6"/>
<line x1="229.3" y1="205.27" x2="230.9" y2="205.27" stroke="#000" stroke-width="0.6"/>
<line x1="229.3" y1="204.28" x2="230.9" y2="204.28" stroke="#000" stroke-width="0.6"/>
<line x1="229.3" y1="203.42" x2="230.9" y2="203.42" stroke="#000" stroke-width="0.6"/>
<line x1="229.3" y1="202.66" x2="230.9" y2="202.66" stroke="#000" stroke-width="0.6"/>
<line x1="227.9" y1="216.82" x2="230.9" y2="216.82" stroke="#000" stroke-width="1"/>
<text x="224.30" y="219.67" font-size="8.3" text-anchor="end" fill="#1e1e1e" class="s">10</text>
<line x1="229.3" y1="227.19" x2="230.9" y2="227.19" stroke="#000" stroke-width="0.6"/>
<line x1="229.3" y1="224.58" x2="230.9" y2="224.58" stroke="#000" stroke-width="0.6"/>
<line x1="229.3" y1="222.73" x2="230.9" y2="222.73" stroke="#000" stroke-width="0.6"/>
<line x1="229.3" y1="221.29" x2="230.9" y2="221.29" stroke="#000" stroke-width="0.6"/>
<line x1="229.3" y1="220.11" x2="230.9" y2="220.11" stroke="#000" stroke-width="0.6"/>
<line x1="229.3" y1="219.12" x2="230.9" y2="219.12" stroke="#000" stroke-width="0.6"/>
<line x1="229.3" y1="218.26" x2="230.9" y2="218.26" stroke="#000" stroke-width="0.6"/>
<line x1="229.3" y1="217.50" x2="230.9" y2="217.50" stroke="#000" stroke-width="0.6"/>
<line x1="227.9" y1="231.66" x2="230.9" y2="231.66" stroke="#000" stroke-width="1"/>
<text x="224.30" y="234.51" font-size="8.3" text-anchor="end" fill="#1e1e1e" class="s">1</text>
<line x1="229.3" y1="242.03" x2="230.9" y2="242.03" stroke="#000" stroke-width="0.6"/>
<line x1="229.3" y1="239.42" x2="230.9" y2="239.42" stroke="#000" stroke-width="0.6"/>
<line x1="229.3" y1="237.57" x2="230.9" y2="237.57" stroke="#000" stroke-width="0.6"/>
<line x1="229.3" y1="236.13" x2="230.9" y2="236.13" stroke="#000" stroke-width="0.6"/>
<line x1="229.3" y1="234.95" x2="230.9" y2="234.95" stroke="#000" stroke-width="0.6"/>
<line x1="229.3" y1="233.96" x2="230.9" y2="233.96" stroke="#000" stroke-width="0.6"/>
<line x1="229.3" y1="233.10" x2="230.9" y2="233.10" stroke="#000" stroke-width="0.6"/>
<line x1="229.3" y1="232.34" x2="230.9" y2="232.34" stroke="#000" stroke-width="0.6"/>
<line x1="227.9" y1="246.50" x2="230.9" y2="246.50" stroke="#000" stroke-width="1"/>
<text x="224.30" y="249.35" font-size="8.3" text-anchor="end" fill="#1e1e1e" class="s">0.1</text>
<text x="285.90" y="163.30" font-size="10" text-anchor="middle" textLength="26.1" lengthAdjust="spacingAndGlyphs" fill="#1e1e1e">CD19</text>
<text transform="translate(193.80,208.40) rotate(-90)" font-size="10" text-anchor="middle" textLength="26.8" lengthAdjust="spacingAndGlyphs" fill="#1e1e1e" stroke="#1e1e1e" stroke-width="0.2">Cells/mL</text>
<line x1="247.6" y1="183.8" x2="247.6" y2="246.5" stroke="#262626" stroke-width="1.2"/>
<line x1="243.4" y1="183.8" x2="251.79999999999998" y2="183.8" stroke="#262626" stroke-width="1.2"/>
<rect x="239.3" y="191.2" width="16.50" height="40.40" fill="#d28e80"/>
<rect x="239.60000000000002" y="191.5" width="15.90" height="39.80" fill="none" stroke="#dca090" stroke-width="0.6"/>
<line x1="239.9" y1="199.0" x2="255.20000000000002" y2="199.0" stroke="#e4ac9c" stroke-width="0.7"/>
<line x1="239.3" y1="197.3" x2="255.8" y2="197.3" stroke="#111" stroke-width="1.5"/>
<circle cx="247.2" cy="183.8" r="1.1" fill="#b8061e"/>
<circle cx="249.2" cy="183.1" r="1.1" fill="#b8061e"/>
<line x1="247.6" y1="246.5" x2="247.6" y2="249.7" stroke="#000" stroke-width="1"/>
<text transform="translate(251.90,256.50) rotate(-45)" font-size="8.3" text-anchor="end" fill="#1e1e1e" class="s">Day 100</text>
<line x1="272.8" y1="182.7" x2="272.8" y2="231.6" stroke="#262626" stroke-width="1.2"/>
<line x1="268.6" y1="182.7" x2="277.0" y2="182.7" stroke="#262626" stroke-width="1.2"/>
<line x1="268.6" y1="231.6" x2="277.0" y2="231.6" stroke="#262626" stroke-width="1.2"/>
<rect x="264.7" y="186.2" width="16.80" height="8.50" fill="#d28e80"/>
<rect x="265.0" y="186.5" width="16.20" height="7.90" fill="none" stroke="#dca090" stroke-width="0.6"/>
<line x1="265.3" y1="190.1" x2="280.9" y2="190.1" stroke="#e4ac9c" stroke-width="0.7"/>
<line x1="264.7" y1="188.4" x2="281.5" y2="188.4" stroke="#111" stroke-width="1.5"/>
<circle cx="272.8" cy="182.7" r="1.1" fill="#b8061e"/>
<circle cx="272.8" cy="245.9" r="1.1" fill="#b8061e"/>
<line x1="272.8" y1="246.5" x2="272.8" y2="249.7" stroke="#000" stroke-width="1"/>
<text transform="translate(277.10,256.50) rotate(-45)" font-size="8.3" text-anchor="end" fill="#1e1e1e" class="s">Day 180</text>
<line x1="298.5" y1="180.3" x2="298.5" y2="246.5" stroke="#262626" stroke-width="1.2"/>
<line x1="294.3" y1="180.3" x2="302.7" y2="180.3" stroke="#262626" stroke-width="1.2"/>
<rect x="290.2" y="185.2" width="16.70" height="6.20" fill="#d28e80"/>
<rect x="290.5" y="185.5" width="16.10" height="5.60" fill="none" stroke="#dca090" stroke-width="0.6"/>
<line x1="290.8" y1="189.29999999999998" x2="306.29999999999995" y2="189.29999999999998" stroke="#e4ac9c" stroke-width="0.7"/>
<line x1="290.2" y1="187.6" x2="306.9" y2="187.6" stroke="#111" stroke-width="1.5"/>
<circle cx="298.5" cy="178.9" r="1.1" fill="#b8061e"/>
<line x1="298.5" y1="246.5" x2="298.5" y2="249.7" stroke="#000" stroke-width="1"/>
<text transform="translate(302.80,256.50) rotate(-45)" font-size="8.3" text-anchor="end" fill="#1e1e1e" class="s">Day 270</text>
<line x1="323.9" y1="180.5" x2="323.9" y2="246.5" stroke="#262626" stroke-width="1.2"/>
<line x1="319.7" y1="180.5" x2="328.09999999999997" y2="180.5" stroke="#262626" stroke-width="1.2"/>
<rect x="315.6" y="183.8" width="16.60" height="7.80" fill="#d28e80"/>
<rect x="315.90000000000003" y="184.10000000000002" width="16.00" height="7.20" fill="none" stroke="#dca090" stroke-width="0.6"/>
<line x1="316.20000000000005" y1="189.1" x2="331.59999999999997" y2="189.1" stroke="#e4ac9c" stroke-width="0.7"/>
<line x1="315.6" y1="187.4" x2="332.2" y2="187.4" stroke="#111" stroke-width="1.5"/>
<circle cx="323.9" cy="180.5" r="1.1" fill="#b8061e"/>
<line x1="323.9" y1="246.5" x2="323.9" y2="249.7" stroke="#000" stroke-width="1"/>
<text transform="translate(328.20,256.50) rotate(-45)" font-size="8.3" text-anchor="end" fill="#1e1e1e" class="s">1 year</text>
<line x1="393.5" y1="169.3" x2="393.5" y2="247.1" stroke="#141414" stroke-width="1.2"/>
<line x1="392.9" y1="246.5" x2="504.2" y2="246.5" stroke="#141414" stroke-width="1.2"/>
<line x1="390.5" y1="172.30" x2="393.5" y2="172.30" stroke="#000" stroke-width="1"/>
<text x="386.90" y="175.15" font-size="8.3" text-anchor="end" fill="#1e1e1e" class="s">10000</text>
<line x1="391.9" y1="182.67" x2="393.5" y2="182.67" stroke="#000" stroke-width="0.6"/>
<line x1="391.9" y1="180.06" x2="393.5" y2="180.06" stroke="#000" stroke-width="0.6"/>
<line x1="391.9" y1="178.21" x2="393.5" y2="178.21" stroke="#000" stroke-width="0.6"/>
<line x1="391.9" y1="176.77" x2="393.5" y2="176.77" stroke="#000" stroke-width="0.6"/>
<line x1="391.9" y1="175.59" x2="393.5" y2="175.59" stroke="#000" stroke-width="0.6"/>
<line x1="391.9" y1="174.60" x2="393.5" y2="174.60" stroke="#000" stroke-width="0.6"/>
<line x1="391.9" y1="173.74" x2="393.5" y2="173.74" stroke="#000" stroke-width="0.6"/>
<line x1="391.9" y1="172.98" x2="393.5" y2="172.98" stroke="#000" stroke-width="0.6"/>
<line x1="390.5" y1="187.14" x2="393.5" y2="187.14" stroke="#000" stroke-width="1"/>
<text x="386.90" y="189.99" font-size="8.3" text-anchor="end" fill="#1e1e1e" class="s">1000</text>
<line x1="391.9" y1="197.51" x2="393.5" y2="197.51" stroke="#000" stroke-width="0.6"/>
<line x1="391.9" y1="194.90" x2="393.5" y2="194.90" stroke="#000" stroke-width="0.6"/>
<line x1="391.9" y1="193.05" x2="393.5" y2="193.05" stroke="#000" stroke-width="0.6"/>
<line x1="391.9" y1="191.61" x2="393.5" y2="191.61" stroke="#000" stroke-width="0.6"/>
<line x1="391.9" y1="190.43" x2="393.5" y2="190.43" stroke="#000" stroke-width="0.6"/>
<line x1="391.9" y1="189.44" x2="393.5" y2="189.44" stroke="#000" stroke-width="0.6"/>
<line x1="391.9" y1="188.58" x2="393.5" y2="188.58" stroke="#000" stroke-width="0.6"/>
<line x1="391.9" y1="187.82" x2="393.5" y2="187.82" stroke="#000" stroke-width="0.6"/>
<line x1="390.5" y1="201.98" x2="393.5" y2="201.98" stroke="#000" stroke-width="1"/>
<text x="386.90" y="204.83" font-size="8.3" text-anchor="end" fill="#1e1e1e" class="s">100</text>
<line x1="391.9" y1="212.35" x2="393.5" y2="212.35" stroke="#000" stroke-width="0.6"/>
<line x1="391.9" y1="209.74" x2="393.5" y2="209.74" stroke="#000" stroke-width="0.6"/>
<line x1="391.9" y1="207.89" x2="393.5" y2="207.89" stroke="#000" stroke-width="0.6"/>
<line x1="391.9" y1="206.45" x2="393.5" y2="206.45" stroke="#000" stroke-width="0.6"/>
<line x1="391.9" y1="205.27" x2="393.5" y2="205.27" stroke="#000" stroke-width="0.6"/>
<line x1="391.9" y1="204.28" x2="393.5" y2="204.28" stroke="#000" stroke-width="0.6"/>
<line x1="391.9" y1="203.42" x2="393.5" y2="203.42" stroke="#000" stroke-width="0.6"/>
<line x1="391.9" y1="202.66" x2="393.5" y2="202.66" stroke="#000" stroke-width="0.6"/>
<line x1="390.5" y1="216.82" x2="393.5" y2="216.82" stroke="#000" stroke-width="1"/>
<text x="386.90" y="219.67" font-size="8.3" text-anchor="end" fill="#1e1e1e" class="s">10</text>
<line x1="391.9" y1="227.19" x2="393.5" y2="227.19" stroke="#000" stroke-width="0.6"/>
<line x1="391.9" y1="224.58" x2="393.5" y2="224.58" stroke="#000" stroke-width="0.6"/>
<line x1="391.9" y1="222.73" x2="393.5" y2="222.73" stroke="#000" stroke-width="0.6"/>
<line x1="391.9" y1="221.29" x2="393.5" y2="221.29" stroke="#000" stroke-width="0.6"/>
<line x1="391.9" y1="220.11" x2="393.5" y2="220.11" stroke="#000" stroke-width="0.6"/>
<line x1="391.9" y1="219.12" x2="393.5" y2="219.12" stroke="#000" stroke-width="0.6"/>
<line x1="391.9" y1="218.26" x2="393.5" y2="218.26" stroke="#000" stroke-width="0.6"/>
<line x1="391.9" y1="217.50" x2="393.5" y2="217.50" stroke="#000" stroke-width="0.6"/>
<line x1="390.5" y1="231.66" x2="393.5" y2="231.66" stroke="#000" stroke-width="1"/>
<text x="386.90" y="234.51" font-size="8.3" text-anchor="end" fill="#1e1e1e" class="s">1</text>
<line x1="391.9" y1="242.03" x2="393.5" y2="242.03" stroke="#000" stroke-width="0.6"/>
<line x1="391.9" y1="239.42" x2="393.5" y2="239.42" stroke="#000" stroke-width="0.6"/>
<line x1="391.9" y1="237.57" x2="393.5" y2="237.57" stroke="#000" stroke-width="0.6"/>
<line x1="391.9" y1="236.13" x2="393.5" y2="236.13" stroke="#000" stroke-width="0.6"/>
<line x1="391.9" y1="234.95" x2="393.5" y2="234.95" stroke="#000" stroke-width="0.6"/>
<line x1="391.9" y1="233.96" x2="393.5" y2="233.96" stroke="#000" stroke-width="0.6"/>
<line x1="391.9" y1="233.10" x2="393.5" y2="233.10" stroke="#000" stroke-width="0.6"/>
<line x1="391.9" y1="232.34" x2="393.5" y2="232.34" stroke="#000" stroke-width="0.6"/>
<line x1="390.5" y1="246.50" x2="393.5" y2="246.50" stroke="#000" stroke-width="1"/>
<text x="386.90" y="249.35" font-size="8.3" text-anchor="end" fill="#1e1e1e" class="s">0.1</text>
<text x="448.80" y="163.30" font-size="10" text-anchor="middle" textLength="42" lengthAdjust="spacingAndGlyphs" fill="#1e1e1e">CD16/56</text>
<text transform="translate(357.00,208.40) rotate(-90)" font-size="10" text-anchor="middle" textLength="26.8" lengthAdjust="spacingAndGlyphs" fill="#1e1e1e" stroke="#1e1e1e" stroke-width="0.2">Cells/mL</text>
<line x1="410.6" y1="191.2" x2="410.6" y2="207.6" stroke="#262626" stroke-width="1.2"/>
<line x1="406.40000000000003" y1="191.2" x2="414.8" y2="191.2" stroke="#262626" stroke-width="1.2"/>
<line x1="406.40000000000003" y1="207.6" x2="414.8" y2="207.6" stroke="#262626" stroke-width="1.2"/>
<rect x="402.1" y="194.7" width="16.70" height="3.20" fill="#d28e80"/>
<rect x="402.40000000000003" y="195.0" width="16.10" height="2.60" fill="none" stroke="#dca090" stroke-width="0.6"/>
<line x1="402.1" y1="196.3" x2="418.8" y2="196.3" stroke="#111" stroke-width="1.5"/>
<circle cx="409.2" cy="191.2" r="1.1" fill="#b8061e"/>
<circle cx="411.6" cy="191.2" r="1.1" fill="#b8061e"/>
<circle cx="409.2" cy="207.6" r="1.1" fill="#b8061e"/>
<circle cx="412.2" cy="207.6" r="1.1" fill="#b8061e"/>
<line x1="410.6" y1="246.5" x2="410.6" y2="249.7" stroke="#000" stroke-width="1"/>
<text transform="translate(414.90,256.50) rotate(-45)" font-size="8.3" text-anchor="end" fill="#1e1e1e" class="s">Day 100</text>
<line x1="435.8" y1="185.6" x2="435.8" y2="203.7" stroke="#262626" stroke-width="1.2"/>
<line x1="431.6" y1="185.6" x2="440.0" y2="185.6" stroke="#262626" stroke-width="1.2"/>
<line x1="431.6" y1="203.7" x2="440.0" y2="203.7" stroke="#262626" stroke-width="1.2"/>
<rect x="427.3" y="193" width="16.80" height="5.70" fill="#d28e80"/>
<rect x="427.6" y="193.3" width="16.20" height="5.10" fill="none" stroke="#dca090" stroke-width="0.6"/>
<line x1="427.90000000000003" y1="197.6" x2="443.5" y2="197.6" stroke="#e4ac9c" stroke-width="0.7"/>
<line x1="427.3" y1="195.9" x2="444.1" y2="195.9" stroke="#111" stroke-width="1.5"/>
<circle cx="435.8" cy="182.1" r="1.1" fill="#b8061e"/>
<circle cx="435.8" cy="203.7" r="1.1" fill="#b8061e"/>
<circle cx="435.8" cy="207.4" r="1.1" fill="#b8061e"/>
<line x1="435.8" y1="246.5" x2="435.8" y2="249.7" stroke="#000" stroke-width="1"/>
<text transform="translate(440.10,256.50) rotate(-45)" font-size="8.3" text-anchor="end" fill="#1e1e1e" class="s">Day 180</text>
<line x1="461.3" y1="185.4" x2="461.3" y2="203.3" stroke="#262626" stroke-width="1.2"/>
<line x1="457.1" y1="185.4" x2="465.5" y2="185.4" stroke="#262626" stroke-width="1.2"/>
<line x1="457.1" y1="203.3" x2="465.5" y2="203.3" stroke="#262626" stroke-width="1.2"/>
<rect x="453" y="192.6" width="16.70" height="5.70" fill="#d28e80"/>
<rect x="453.3" y="192.9" width="16.10" height="5.10" fill="none" stroke="#dca090" stroke-width="0.6"/>
<line x1="453.6" y1="196.6" x2="469.09999999999997" y2="196.6" stroke="#e4ac9c" stroke-width="0.7"/>
<line x1="453" y1="194.9" x2="469.7" y2="194.9" stroke="#111" stroke-width="1.5"/>
<circle cx="461.3" cy="182.3" r="1.1" fill="#b8061e"/>
<circle cx="461.3" cy="208" r="1.1" fill="#b8061e"/>
<line x1="461.3" y1="246.5" x2="461.3" y2="249.7" stroke="#000" stroke-width="1"/>
<text transform="translate(465.60,256.50) rotate(-45)" font-size="8.3" text-anchor="end" fill="#1e1e1e" class="s">Day 270</text>
<line x1="486.5" y1="184.8" x2="486.5" y2="204.6" stroke="#262626" stroke-width="1.2"/>
<line x1="482.3" y1="184.8" x2="490.7" y2="184.8" stroke="#262626" stroke-width="1.2"/>
<line x1="482.3" y1="204.6" x2="490.7" y2="204.6" stroke="#262626" stroke-width="1.2"/>
<rect x="478.2" y="192.8" width="16.80" height="5.50" fill="#d28e80"/>
<rect x="478.5" y="193.10000000000002" width="16.20" height="4.90" fill="none" stroke="#dca090" stroke-width="0.6"/>
<line x1="478.8" y1="197.0" x2="494.4" y2="197.0" stroke="#e4ac9c" stroke-width="0.7"/>
<line x1="478.2" y1="195.3" x2="495" y2="195.3" stroke="#111" stroke-width="1.5"/>
<circle cx="486.5" cy="180.7" r="1.1" fill="#b8061e"/>
<circle cx="486.5" cy="221.5" r="1.1" fill="#b8061e"/>
<line x1="486.5" y1="246.5" x2="486.5" y2="249.7" stroke="#000" stroke-width="1"/>
<text transform="translate(490.80,256.50) rotate(-45)" font-size="8.3" text-anchor="end" fill="#1e1e1e" class="s">1 year</text>
<line x1="62.9" y1="309.1" x2="62.9" y2="400.8" stroke="#000" stroke-width="1.3"/>
<line x1="196.7" y1="309.1" x2="196.7" y2="400.8" stroke="#000" stroke-width="1.3"/>
<line x1="62.3" y1="400.2" x2="197.29999999999998" y2="400.2" stroke="#000" stroke-width="1.3"/>
<line x1="59.9" y1="400.20" x2="62.9" y2="400.20" stroke="#000" stroke-width="1"/>
<text x="56.30" y="403.00" font-size="8.0" text-anchor="end" fill="#1e1e1e" class="s">0</text>
<line x1="61.1" y1="391.24" x2="62.9" y2="391.24" stroke="#000" stroke-width="0.8"/>
<line x1="59.9" y1="382.28" x2="62.9" y2="382.28" stroke="#000" stroke-width="1"/>
<text x="56.30" y="385.08" font-size="8.0" text-anchor="end" fill="#1e1e1e" class="s">3000</text>
<line x1="61.1" y1="373.32" x2="62.9" y2="373.32" stroke="#000" stroke-width="0.8"/>
<line x1="59.9" y1="364.36" x2="62.9" y2="364.36" stroke="#000" stroke-width="1"/>
<text x="56.30" y="367.16" font-size="8.0" text-anchor="end" fill="#1e1e1e" class="s">6000</text>
<line x1="61.1" y1="355.40" x2="62.9" y2="355.40" stroke="#000" stroke-width="0.8"/>
<line x1="59.9" y1="346.44" x2="62.9" y2="346.44" stroke="#000" stroke-width="1"/>
<text x="56.30" y="349.24" font-size="8.0" text-anchor="end" fill="#1e1e1e" class="s">9000</text>
<line x1="61.1" y1="337.48" x2="62.9" y2="337.48" stroke="#000" stroke-width="0.8"/>
<line x1="59.9" y1="328.52" x2="62.9" y2="328.52" stroke="#000" stroke-width="1"/>
<text x="56.30" y="331.32" font-size="8.0" text-anchor="end" fill="#1e1e1e" class="s">12000</text>
<line x1="61.1" y1="319.56" x2="62.9" y2="319.56" stroke="#000" stroke-width="0.8"/>
<line x1="59.9" y1="310.60" x2="62.9" y2="310.60" stroke="#000" stroke-width="1"/>
<text x="56.30" y="313.40" font-size="8.0" text-anchor="end" fill="#1e1e1e" class="s">15000</text>
<line x1="196.7" y1="400.20" x2="199.7" y2="400.20" stroke="#000" stroke-width="1"/>
<text x="203.20" y="403.00" font-size="8.0" fill="#1e1e1e" class="s">0</text>
<line x1="196.7" y1="389.00" x2="198.5" y2="389.00" stroke="#000" stroke-width="0.8"/>
<line x1="196.7" y1="377.80" x2="199.7" y2="377.80" stroke="#000" stroke-width="1"/>
<text x="203.20" y="380.60" font-size="8.0" fill="#1e1e1e" class="s">50</text>
<line x1="196.7" y1="366.60" x2="198.5" y2="366.60" stroke="#000" stroke-width="0.8"/>
<line x1="196.7" y1="355.40" x2="199.7" y2="355.40" stroke="#000" stroke-width="1"/>
<text x="203.20" y="358.20" font-size="8.0" fill="#1e1e1e" class="s">100</text>
<line x1="196.7" y1="344.20" x2="198.5" y2="344.20" stroke="#000" stroke-width="0.8"/>
<line x1="196.7" y1="333.00" x2="199.7" y2="333.00" stroke="#000" stroke-width="1"/>
<text x="203.20" y="335.80" font-size="8.0" fill="#1e1e1e" class="s">150</text>
<line x1="196.7" y1="321.80" x2="198.5" y2="321.80" stroke="#000" stroke-width="0.8"/>
<line x1="196.7" y1="310.60" x2="199.7" y2="310.60" stroke="#000" stroke-width="1"/>
<text x="203.20" y="313.40" font-size="8.0" fill="#1e1e1e" class="s">200</text>
<line x1="68.1" y1="400.2" x2="68.1" y2="403.4" stroke="#000" stroke-width="1"/>
<text transform="translate(71.80,409.70) rotate(-45)" font-size="8.0" text-anchor="end" fill="#1e1e1e" class="s">Pre-transplant</text>
<line x1="82.5" y1="400.2" x2="82.5" y2="403.4" stroke="#000" stroke-width="1"/>
<text transform="translate(86.20,409.70) rotate(-45)" font-size="8.0" text-anchor="end" fill="#1e1e1e" class="s">Day 30</text>
<line x1="105.2" y1="400.2" x2="105.2" y2="403.4" stroke="#000" stroke-width="1"/>
<text transform="translate(108.90,409.70) rotate(-45)" font-size="8.0" text-anchor="end" fill="#1e1e1e" class="s">Day 100</text>
<line x1="131.2" y1="400.2" x2="131.2" y2="403.4" stroke="#000" stroke-width="1"/>
<text transform="translate(134.90,409.70) rotate(-45)" font-size="8.0" text-anchor="end" fill="#1e1e1e" class="s">Day 180</text>
<line x1="160.3" y1="400.2" x2="160.3" y2="403.4" stroke="#000" stroke-width="1"/>
<text transform="translate(164.00,409.70) rotate(-45)" font-size="8.0" text-anchor="end" fill="#1e1e1e" class="s">Day 270</text>
<line x1="191.1" y1="400.2" x2="191.1" y2="403.4" stroke="#000" stroke-width="1"/>
<text transform="translate(194.80,409.70) rotate(-45)" font-size="8.0" text-anchor="end" fill="#1e1e1e" class="s">Day 365</text>
<line x1="68.1" y1="326.7" x2="68.1" y2="332.9" stroke="#2d4d8c" stroke-width="1.2" opacity="0.6"/>
<line x1="65.5" y1="326.7" x2="70.69999999999999" y2="326.7" stroke="#2d4d8c" stroke-width="1"/>
<line x1="65.5" y1="332.9" x2="70.69999999999999" y2="332.9" stroke="#2d4d8c" stroke-width="1"/>
<line x1="82.5" y1="377.7" x2="82.5" y2="400.2" stroke="#2d4d8c" stroke-width="1.2" opacity="0.6"/>
<line x1="79.9" y1="377.7" x2="85.1" y2="377.7" stroke="#2d4d8c" stroke-width="1"/>
<line x1="79.9" y1="400.2" x2="85.1" y2="400.2" stroke="#2d4d8c" stroke-width="1"/>
<line x1="105.2" y1="334.1" x2="105.2" y2="372.2" stroke="#2d4d8c" stroke-width="1.2" opacity="0.6"/>
<line x1="102.60000000000001" y1="334.1" x2="107.8" y2="334.1" stroke="#2d4d8c" stroke-width="1"/>
<line x1="102.60000000000001" y1="372.2" x2="107.8" y2="372.2" stroke="#2d4d8c" stroke-width="1"/>
<line x1="131.2" y1="325.8" x2="131.2" y2="338.2" stroke="#2d4d8c" stroke-width="1.2" opacity="0.6"/>
<line x1="128.6" y1="325.8" x2="133.79999999999998" y2="325.8" stroke="#2d4d8c" stroke-width="1"/>
<line x1="128.6" y1="338.2" x2="133.79999999999998" y2="338.2" stroke="#2d4d8c" stroke-width="1"/>
<line x1="160.3" y1="328.8" x2="160.3" y2="347.4" stroke="#2d4d8c" stroke-width="1.2" opacity="0.6"/>
<line x1="157.70000000000002" y1="328.8" x2="162.9" y2="328.8" stroke="#2d4d8c" stroke-width="1"/>
<line x1="157.70000000000002" y1="347.4" x2="162.9" y2="347.4" stroke="#2d4d8c" stroke-width="1"/>
<line x1="191.1" y1="325.6" x2="191.1" y2="337" stroke="#2d4d8c" stroke-width="1.2" opacity="0.6"/>
<line x1="188.5" y1="325.6" x2="193.7" y2="325.6" stroke="#2d4d8c" stroke-width="1"/>
<line x1="188.5" y1="337" x2="193.7" y2="337" stroke="#2d4d8c" stroke-width="1"/>
<polyline points="68.1,328.4 82.5,388.9 105.2,343.4 131.2,332.1 160.3,333.6 191.1,330.1" fill="none" stroke="#2d4d8c" stroke-width="1.5"/>
<rect x="66.39999999999999" y="326.7" width="3.4" height="3.4" fill="#2d4d8c"/>
<rect x="80.8" y="387.2" width="3.4" height="3.4" fill="#2d4d8c"/>
<rect x="103.5" y="341.7" width="3.4" height="3.4" fill="#2d4d8c"/>
<rect x="129.5" y="330.40000000000003" width="3.4" height="3.4" fill="#2d4d8c"/>
<rect x="158.60000000000002" y="331.90000000000003" width="3.4" height="3.4" fill="#2d4d8c"/>
<rect x="189.4" y="328.40000000000003" width="3.4" height="3.4" fill="#2d4d8c"/>
<line x1="68.1" y1="323.1" x2="68.1" y2="369.7" stroke="#b8143c" stroke-width="1.2" opacity="0.6"/>
<line x1="65.5" y1="323.1" x2="70.69999999999999" y2="323.1" stroke="#b8143c" stroke-width="1"/>
<line x1="65.5" y1="369.7" x2="70.69999999999999" y2="369.7" stroke="#b8143c" stroke-width="1"/>
<line x1="131.2" y1="355.8" x2="131.2" y2="397.3" stroke="#b8143c" stroke-width="1.2" opacity="0.6"/>
<line x1="128.6" y1="355.8" x2="133.79999999999998" y2="355.8" stroke="#b8143c" stroke-width="1"/>
<line x1="128.6" y1="397.3" x2="133.79999999999998" y2="397.3" stroke="#b8143c" stroke-width="1"/>
<line x1="160.3" y1="337.6" x2="160.3" y2="381.1" stroke="#b8143c" stroke-width="1.2" opacity="0.6"/>
<line x1="157.70000000000002" y1="337.6" x2="162.9" y2="337.6" stroke="#b8143c" stroke-width="1"/>
<line x1="157.70000000000002" y1="381.1" x2="162.9" y2="381.1" stroke="#b8143c" stroke-width="1"/>
<line x1="191.1" y1="351.1" x2="191.1" y2="375.4" stroke="#b8143c" stroke-width="1.2" opacity="0.6"/>
<line x1="188.5" y1="351.1" x2="193.7" y2="351.1" stroke="#b8143c" stroke-width="1"/>
<line x1="188.5" y1="375.4" x2="193.7" y2="375.4" stroke="#b8143c" stroke-width="1"/>
<polyline points="68.1,356.1 82.5,400.2 105.2,400.2 131.2,385.2 160.3,369.3 191.1,368.7" fill="none" stroke="#b8143c" stroke-width="1.5"/>
<circle cx="68.1" cy="356.1" r="1.8" fill="#b8143c"/>
<circle cx="82.5" cy="400.2" r="1.8" fill="#b8143c"/>
<circle cx="105.2" cy="400.2" r="1.8" fill="#b8143c"/>
<circle cx="131.2" cy="385.2" r="1.8" fill="#b8143c"/>
<circle cx="160.3" cy="369.3" r="1.8" fill="#b8143c"/>
<circle cx="191.1" cy="368.7" r="1.8" fill="#b8143c"/>
<text transform="translate(26.30,353.70) rotate(-90)" font-size="10" text-anchor="middle" textLength="76.7" lengthAdjust="spacingAndGlyphs" fill="#1e1e1e" stroke="#1e1e1e" stroke-width="0.3">TREC/1e+06 CD3+ cells</text>
<text transform="translate(223.00,354.50) rotate(90)" font-size="10" text-anchor="middle" textLength="27.8" lengthAdjust="spacingAndGlyphs" fill="#1e1e1e" stroke="#1e1e1e" stroke-width="0.3">TCR SCS</text>
<line x1="78.9" y1="447.9" x2="88.6" y2="447.9" stroke="#b8143c" stroke-width="1.5"/><circle cx="83.75" cy="447.9" r="1.8" fill="#b8143c"/>
<text x="92.00" y="450.80" font-size="8.5" textLength="20.2" lengthAdjust="spacingAndGlyphs" fill="#1e1e1e">TREC</text>
<line x1="125.3" y1="447.8" x2="135" y2="447.8" stroke="#2d4d8c" stroke-width="1.5"/><rect x="128.6" y="446.1" width="3.4" height="3.4" fill="#2d4d8c"/>
<text x="138.60" y="450.90" font-size="8.5" textLength="33.8" lengthAdjust="spacingAndGlyphs" fill="#1e1e1e">TCR SCS</text>
<text x="314.50" y="314.00" font-size="8.2" text-anchor="middle" textLength="49.4" lengthAdjust="spacingAndGlyphs" fill="#1e1e1e">Pre-transplant</text>
<text x="268.55" y="323.60" font-size="4.8" text-anchor="middle" fill="#2a2a2a">BV1</text>
<line x1="260.10" y1="327.30" x2="278.50" y2="327.30" stroke="#d8d8e0" stroke-width="0.5"/>
<polygon points="256.60,343.00 256.60,343.00 257.10,343.00 257.60,343.00 258.10,343.00 258.60,343.00 259.10,343.00 259.60,343.00 260.10,343.00 260.60,342.99 261.10,342.97 261.60,342.93 262.10,342.88 262.60,342.82 263.10,342.76 263.60,342.73 264.10,342.74 264.60,342.78 265.10,342.62 265.60,342.43 266.10,342.27 266.60,342.19 267.10,341.81 267.60,341.42 268.10,341.19 268.60,341.15 269.10,340.66 269.60,340.60 270.10,340.62 270.60,341.09 271.10,341.69 271.60,342.22 272.10,342.36 272.60,342.37 273.10,342.47 273.60,342.61 274.10,342.76 274.60,342.80 275.10,342.79 275.60,342.81 276.10,342.85 276.60,342.90 277.10,342.94 277.60,342.97 278.10,342.99 278.60,343.00 279.10,343.00 279.60,343.00 280.10,343.00 280.50,343.00" fill="#2a1d7e" fill-opacity="0.8"/>
<path d="M262.71,343.00 L263.31,341.30 L264.11,341.30 L264.71,343.00Z" fill="url(#pg)" fill-opacity="0.9"/>
<line x1="263.71" y1="343.00" x2="263.71" y2="341.47" stroke="#2a1d85" stroke-width="0.5" stroke-opacity="0.6"/>
<path d="M265.67,343.00 L266.27,337.90 L267.07,337.90 L267.67,343.00Z" fill="url(#pg)" fill-opacity="0.9"/>
<line x1="266.67" y1="343.00" x2="266.67" y2="338.41" stroke="#2a1d85" stroke-width="0.5" stroke-opacity="0.6"/>
<path d="M267.28,343.00 L267.88,331.44 L268.68,331.44 L269.28,343.00Z" fill="url(#pg)" fill-opacity="0.9"/>
<line x1="268.28" y1="343.00" x2="268.28" y2="332.60" stroke="#2a1d85" stroke-width="0.5" stroke-opacity="0.6"/>
<path d="M268.63,343.00 L269.23,326.85 L270.03,326.85 L270.63,343.00Z" fill="url(#pg)" fill-opacity="0.9"/>
<line x1="269.63" y1="343.00" x2="269.63" y2="328.46" stroke="#2a1d85" stroke-width="0.5" stroke-opacity="0.6"/>
<path d="M269.70,343.00 L270.30,336.71 L271.10,336.71 L271.70,343.00Z" fill="url(#pg)" fill-opacity="0.9"/>
<line x1="270.70" y1="343.00" x2="270.70" y2="337.34" stroke="#2a1d85" stroke-width="0.5" stroke-opacity="0.6"/>
<path d="M271.32,343.00 L271.92,338.92 L272.72,338.92 L273.32,343.00Z" fill="url(#pg)" fill-opacity="0.9"/>
<line x1="272.32" y1="343.00" x2="272.32" y2="339.33" stroke="#2a1d85" stroke-width="0.5" stroke-opacity="0.6"/>
<path d="M274.01,343.00 L274.61,341.64 L275.41,341.64 L276.01,343.00Z" fill="url(#pg)" fill-opacity="0.9"/>
<line x1="275.01" y1="343.00" x2="275.01" y2="341.78" stroke="#2a1d85" stroke-width="0.5" stroke-opacity="0.6"/>
<line x1="257.1" y1="343.00" x2="280.0" y2="343.00" stroke="#8a84c0" stroke-width="0.6"/>
<rect x="255.65" y="325.45" width="25.80" height="18.30" rx="0.9" fill="none" stroke="#5aa0dc" stroke-width="1.1"/>
<text x="297.75" y="323.60" font-size="4.8" text-anchor="middle" fill="#2a2a2a">BV2</text>
<line x1="289.30" y1="327.30" x2="307.70" y2="327.30" stroke="#d8d8e0" stroke-width="0.5"/>
<polygon points="285.80,343.00 285.80,343.00 286.30,343.00 286.80,343.00 287.30,342.99 287.80,342.98 288.30,342.96 288.80,342.92 289.30,342.86 289.80,342.80 290.30,342.75 290.80,342.73 291.30,342.64 291.80,342.45 292.30,342.28 292.80,342.20 293.30,342.23 293.80,342.07 294.30,341.83 294.80,341.74 295.30,341.80 295.80,341.44 296.30,341.26 296.80,341.23 297.30,340.80 297.80,340.66 298.30,340.87 298.80,341.34 299.30,341.46 299.80,341.66 300.30,342.00 300.80,342.01 301.30,342.11 301.80,342.31 302.30,342.37 302.80,342.46 303.30,342.60 303.80,342.73 304.30,342.76 304.80,342.82 305.30,342.88 305.80,342.93 306.30,342.97 306.80,342.99 307.30,343.00 307.80,343.00 308.30,343.00 308.80,343.00 309.30,343.00 309.70,343.00" fill="#2a1d7e" fill-opacity="0.8"/>
<path d="M289.76,343.00 L290.36,341.30 L291.16,341.30 L291.76,343.00Z" fill="url(#pg)" fill-opacity="0.9"/>
<line x1="290.76" y1="343.00" x2="290.76" y2="341.47" stroke="#2a1d85" stroke-width="0.5" stroke-opacity="0.6"/>
<path d="M291.91,343.00 L292.51,337.90 L293.31,337.90 L293.91,343.00Z" fill="url(#pg)" fill-opacity="0.9"/>
<line x1="292.91" y1="343.00" x2="292.91" y2="338.41" stroke="#2a1d85" stroke-width="0.5" stroke-opacity="0.6"/>
<path d="M293.79,343.00 L294.39,335.01 L295.19,335.01 L295.79,343.00Z" fill="url(#pg)" fill-opacity="0.9"/>
<line x1="294.79" y1="343.00" x2="294.79" y2="335.81" stroke="#2a1d85" stroke-width="0.5" stroke-opacity="0.6"/>
<path d="M295.41,343.00 L296.01,331.95 L296.81,331.95 L297.41,343.00Z" fill="url(#pg)" fill-opacity="0.9"/>
<line x1="296.41" y1="343.00" x2="296.41" y2="333.05" stroke="#2a1d85" stroke-width="0.5" stroke-opacity="0.6"/>
<path d="M296.75,343.00 L297.35,328.21 L298.15,328.21 L298.75,343.00Z" fill="url(#pg)" fill-opacity="0.9"/>
<line x1="297.75" y1="343.00" x2="297.75" y2="329.69" stroke="#2a1d85" stroke-width="0.5" stroke-opacity="0.6"/>
<path d="M298.10,343.00 L298.70,333.14 L299.50,333.14 L300.10,343.00Z" fill="url(#pg)" fill-opacity="0.9"/>
<line x1="299.10" y1="343.00" x2="299.10" y2="334.13" stroke="#2a1d85" stroke-width="0.5" stroke-opacity="0.6"/>
<path d="M299.71,343.00 L300.31,336.71 L301.11,336.71 L301.71,343.00Z" fill="url(#pg)" fill-opacity="0.9"/>
<line x1="300.71" y1="343.00" x2="300.71" y2="337.34" stroke="#2a1d85" stroke-width="0.5" stroke-opacity="0.6"/>
<path d="M301.05,343.00 L301.65,338.92 L302.45,338.92 L303.05,343.00Z" fill="url(#pg)" fill-opacity="0.9"/>
<line x1="302.05" y1="343.00" x2="302.05" y2="339.33" stroke="#2a1d85" stroke-width="0.5" stroke-opacity="0.6"/>
<path d="M302.67,343.00 L303.27,341.30 L304.07,341.30 L304.67,343.00Z" fill="url(#pg)" fill-opacity="0.9"/>
<line x1="303.67" y1="343.00" x2="303.67" y2="341.47" stroke="#2a1d85" stroke-width="0.5" stroke-opacity="0.6"/>
<line x1="286.3" y1="343.00" x2="309.2" y2="343.00" stroke="#8a84c0" stroke-width="0.6"/>
<rect x="284.85" y="325.45" width="25.80" height="18.30" rx="0.9" fill="none" stroke="#5aa0dc" stroke-width="1.1"/>
<text x="326.85" y="323.60" font-size="4.8" text-anchor="middle" fill="#2a2a2a">BV3</text>
<line x1="318.40" y1="327.30" x2="336.80" y2="327.30" stroke="#d8d8e0" stroke-width="0.5"/>
<polygon points="314.90,343.00 314.90,343.00 315.40,343.00 315.90,343.00 316.40,343.00 316.90,343.00 317.40,343.00 317.90,343.00 318.40,342.99 318.90,342.97 319.40,342.93 319.90,342.86 320.40,342.76 320.90,342.63 321.40,342.52 321.90,342.30 322.40,341.98 322.90,341.74 323.40,341.66 323.90,341.32 324.40,341.17 324.90,341.29 325.40,340.94 325.90,340.86 326.40,340.78 326.90,340.64 327.40,340.85 327.90,341.01 328.40,341.14 328.90,341.12 329.40,341.21 329.90,341.53 330.40,341.66 330.90,341.78 331.40,342.05 331.90,342.25 332.40,342.40 332.90,342.59 333.40,342.68 333.90,342.71 334.40,342.78 334.90,342.85 335.40,342.92 335.90,342.96 336.40,342.98 336.90,342.99 337.40,343.00 337.90,343.00 338.40,343.00 338.80,343.00" fill="#2a1d7e" fill-opacity="0.8"/>
<path d="M321.01,343.00 L321.61,339.60 L322.41,339.60 L323.01,343.00Z" fill="url(#pg)" fill-opacity="0.9"/>
<line x1="322.01" y1="343.00" x2="322.01" y2="339.94" stroke="#2a1d85" stroke-width="0.5" stroke-opacity="0.6"/>
<path d="M322.35,343.00 L322.95,334.50 L323.75,334.50 L324.35,343.00Z" fill="url(#pg)" fill-opacity="0.9"/>
<line x1="323.35" y1="343.00" x2="323.35" y2="335.35" stroke="#2a1d85" stroke-width="0.5" stroke-opacity="0.6"/>
<path d="M323.43,343.00 L324.03,331.44 L324.83,331.44 L325.43,343.00Z" fill="url(#pg)" fill-opacity="0.9"/>
<line x1="324.43" y1="343.00" x2="324.43" y2="332.60" stroke="#2a1d85" stroke-width="0.5" stroke-opacity="0.6"/>
<path d="M324.77,343.00 L325.37,329.40 L326.17,329.40 L326.77,343.00Z" fill="url(#pg)" fill-opacity="0.9"/>
<line x1="325.77" y1="343.00" x2="325.77" y2="330.76" stroke="#2a1d85" stroke-width="0.5" stroke-opacity="0.6"/>
<path d="M325.85,343.00 L326.45,328.04 L327.25,328.04 L327.85,343.00Z" fill="url(#pg)" fill-opacity="0.9"/>
<line x1="326.85" y1="343.00" x2="326.85" y2="329.54" stroke="#2a1d85" stroke-width="0.5" stroke-opacity="0.6"/>
<path d="M326.93,343.00 L327.53,330.42 L328.33,330.42 L328.93,343.00Z" fill="url(#pg)" fill-opacity="0.9"/>
<line x1="327.93" y1="343.00" x2="327.93" y2="331.68" stroke="#2a1d85" stroke-width="0.5" stroke-opacity="0.6"/>
<path d="M328.00,343.00 L328.60,331.10 L329.40,331.10 L330.00,343.00Z" fill="url(#pg)" fill-opacity="0.9"/>
<line x1="329.00" y1="343.00" x2="329.00" y2="332.29" stroke="#2a1d85" stroke-width="0.5" stroke-opacity="0.6"/>
<path d="M329.35,343.00 L329.95,334.50 L330.75,334.50 L331.35,343.00Z" fill="url(#pg)" fill-opacity="0.9"/>
<line x1="330.35" y1="343.00" x2="330.35" y2="335.35" stroke="#2a1d85" stroke-width="0.5" stroke-opacity="0.6"/>
<path d="M330.42,343.00 L331.02,337.90 L331.82,337.90 L332.42,343.00Z" fill="url(#pg)" fill-opacity="0.9"/>
<line x1="331.42" y1="343.00" x2="331.42" y2="338.41" stroke="#2a1d85" stroke-width="0.5" stroke-opacity="0.6"/>
<path d="M332.31,343.00 L332.91,340.96 L333.71,340.96 L334.31,343.00Z" fill="url(#pg)" fill-opacity="0.9"/>
<line x1="333.31" y1="343.00" x2="333.31" y2="341.16" stroke="#2a1d85" stroke-width="0.5" stroke-opacity="0.6"/>
<line x1="315.4" y1="343.00" x2="338.29999999999995" y2="343.00" stroke="#8a84c0" stroke-width="0.6"/>
<rect x="313.95" y="325.45" width="25.80" height="18.30" rx="0.9" fill="none" stroke="#5aa0dc" stroke-width="1.1"/>
<text x="356.55" y="323.60" font-size="4.8" text-anchor="middle" fill="#2a2a2a">BV4</text>
<line x1="348.10" y1="327.30" x2="366.50" y2="327.30" stroke="#d8d8e0" stroke-width="0.5"/>
<polygon points="344.60,343.00 344.60,343.00 345.10,343.00 345.60,343.00 346.10,343.00 346.60,343.00 347.10,343.00 347.60,342.99 348.10,342.96 348.60,342.92 349.10,342.85 349.60,342.76 350.10,342.67 350.60,342.48 351.10,342.26 351.60,342.10 352.10,341.98 352.60,341.74 353.10,341.66 353.60,341.50 354.10,341.22 354.60,341.20 355.10,341.19 355.60,340.78 356.10,340.67 356.60,340.90 357.10,341.29 357.60,341.28 358.10,341.53 358.60,341.80 359.10,341.95 359.60,342.20 360.10,342.22 360.60,342.35 361.10,342.53 361.60,342.60 362.10,342.65 362.60,342.74 363.10,342.84 363.60,342.87 364.10,342.89 364.60,342.92 365.10,342.95 365.60,342.97 366.10,342.99 366.60,343.00 367.10,343.00 367.60,343.00 368.10,343.00 368.50,343.00" fill="#2a1d7e" fill-opacity="0.8"/>
<path d="M349.90,343.00 L350.50,340.45 L351.30,340.45 L351.90,343.00Z" fill="url(#pg)" fill-opacity="0.9"/>
<line x1="350.90" y1="343.00" x2="350.90" y2="340.70" stroke="#2a1d85" stroke-width="0.5" stroke-opacity="0.6"/>
<path d="M350.98,343.00 L351.58,337.05 L352.38,337.05 L352.98,343.00Z" fill="url(#pg)" fill-opacity="0.9"/>
<line x1="351.98" y1="343.00" x2="351.98" y2="337.64" stroke="#2a1d85" stroke-width="0.5" stroke-opacity="0.6"/>
<path d="M352.05,343.00 L352.65,334.50 L353.45,334.50 L354.05,343.00Z" fill="url(#pg)" fill-opacity="0.9"/>
<line x1="353.05" y1="343.00" x2="353.05" y2="335.35" stroke="#2a1d85" stroke-width="0.5" stroke-opacity="0.6"/>
<path d="M353.40,343.00 L354.00,331.44 L354.80,331.44 L355.40,343.00Z" fill="url(#pg)" fill-opacity="0.9"/>
<line x1="354.40" y1="343.00" x2="354.40" y2="332.60" stroke="#2a1d85" stroke-width="0.5" stroke-opacity="0.6"/>
<path d="M355.01,343.00 L355.61,328.21 L356.41,328.21 L357.01,343.00Z" fill="url(#pg)" fill-opacity="0.9"/>
<line x1="356.01" y1="343.00" x2="356.01" y2="329.69" stroke="#2a1d85" stroke-width="0.5" stroke-opacity="0.6"/>
<path d="M356.36,343.00 L356.96,331.95 L357.76,331.95 L358.36,343.00Z" fill="url(#pg)" fill-opacity="0.9"/>
<line x1="357.36" y1="343.00" x2="357.36" y2="333.05" stroke="#2a1d85" stroke-width="0.5" stroke-opacity="0.6"/>
<path d="M357.43,343.00 L358.03,335.35 L358.83,335.35 L359.43,343.00Z" fill="url(#pg)" fill-opacity="0.9"/>
<line x1="358.43" y1="343.00" x2="358.43" y2="336.11" stroke="#2a1d85" stroke-width="0.5" stroke-opacity="0.6"/>
<path d="M358.78,343.00 L359.38,337.90 L360.18,337.90 L360.78,343.00Z" fill="url(#pg)" fill-opacity="0.9"/>
<line x1="359.78" y1="343.00" x2="359.78" y2="338.41" stroke="#2a1d85" stroke-width="0.5" stroke-opacity="0.6"/>
<path d="M360.39,343.00 L360.99,340.45 L361.79,340.45 L362.39,343.00Z" fill="url(#pg)" fill-opacity="0.9"/>
<line x1="361.39" y1="343.00" x2="361.39" y2="340.70" stroke="#2a1d85" stroke-width="0.5" stroke-opacity="0.6"/>
<path d="M362.28,343.00 L362.88,342.15 L363.68,342.15 L364.28,343.00Z" fill="url(#pg)" fill-opacity="0.9"/>
<line x1="363.28" y1="343.00" x2="363.28" y2="342.23" stroke="#2a1d85" stroke-width="0.5" stroke-opacity="0.6"/>
<line x1="345.1" y1="343.00" x2="368.0" y2="343.00" stroke="#8a84c0" stroke-width="0.6"/>
<rect x="343.65" y="325.45" width="25.80" height="18.30" rx="0.9" fill="none" stroke="#5aa0dc" stroke-width="1.1"/>
<text x="268.55" y="351.60" font-size="4.8" text-anchor="middle" fill="#2a2a2a">BV5</text>
<line x1="260.10" y1="355.30" x2="278.50" y2="355.30" stroke="#d8d8e0" stroke-width="0.5"/>
<polygon points="256.60,371.00 256.60,371.00 257.10,371.00 257.60,371.00 258.10,371.00 258.60,370.99 259.10,370.99 259.60,370.97 260.10,370.95 260.60,370.92 261.10,370.89 261.60,370.87 262.10,370.87 262.60,370.89 263.10,370.86 263.60,370.79 264.10,370.75 264.60,370.64 265.10,370.37 265.60,370.05 266.10,369.78 266.60,369.66 267.10,369.73 267.60,369.23 268.10,368.80 268.60,368.66 269.10,368.87 269.60,369.05 270.10,368.66 270.60,368.60 271.10,368.89 271.60,369.41 272.10,369.89 272.60,369.90 273.10,370.07 273.60,370.32 274.10,370.58 274.60,370.73 275.10,370.74 275.60,370.79 276.10,370.85 276.60,370.87 277.10,370.87 277.60,370.90 278.10,370.93 278.60,370.96 279.10,370.98 279.60,370.99 280.10,371.00 280.50,371.00" fill="#2a1d7e" fill-opacity="0.8"/>
<path d="M260.82,371.00 L261.43,370.15 L262.22,370.15 L262.82,371.00Z" fill="url(#pg)" fill-opacity="0.9"/>
<line x1="261.82" y1="371.00" x2="261.82" y2="370.23" stroke="#2a1d85" stroke-width="0.5" stroke-opacity="0.6"/>
<path d="M263.51,371.00 L264.12,369.30 L264.91,369.30 L265.51,371.00Z" fill="url(#pg)" fill-opacity="0.9"/>
<line x1="264.51" y1="371.00" x2="264.51" y2="369.47" stroke="#2a1d85" stroke-width="0.5" stroke-opacity="0.6"/>
<path d="M265.67,371.00 L266.27,362.50 L267.07,362.50 L267.67,371.00Z" fill="url(#pg)" fill-opacity="0.9"/>
<line x1="266.67" y1="371.00" x2="266.67" y2="363.35" stroke="#2a1d85" stroke-width="0.5" stroke-opacity="0.6"/>
<path d="M267.55,371.00 L268.15,356.21 L268.95,356.21 L269.55,371.00Z" fill="url(#pg)" fill-opacity="0.9"/>
<line x1="268.55" y1="371.00" x2="268.55" y2="357.69" stroke="#2a1d85" stroke-width="0.5" stroke-opacity="0.6"/>
<path d="M269.43,371.00 L270.03,355.70 L270.83,355.70 L271.43,371.00Z" fill="url(#pg)" fill-opacity="0.9"/>
<line x1="270.43" y1="371.00" x2="270.43" y2="357.23" stroke="#2a1d85" stroke-width="0.5" stroke-opacity="0.6"/>
<path d="M271.32,371.00 L271.92,363.86 L272.72,363.86 L273.32,371.00Z" fill="url(#pg)" fill-opacity="0.9"/>
<line x1="272.32" y1="371.00" x2="272.32" y2="364.57" stroke="#2a1d85" stroke-width="0.5" stroke-opacity="0.6"/>
<path d="M273.74,371.00 L274.34,369.30 L275.14,369.30 L275.74,371.00Z" fill="url(#pg)" fill-opacity="0.9"/>
<line x1="274.74" y1="371.00" x2="274.74" y2="369.47" stroke="#2a1d85" stroke-width="0.5" stroke-opacity="0.6"/>
<path d="M275.62,371.00 L276.22,370.15 L277.02,370.15 L277.62,371.00Z" fill="url(#pg)" fill-opacity="0.9"/>
<line x1="276.62" y1="371.00" x2="276.62" y2="370.23" stroke="#2a1d85" stroke-width="0.5" stroke-opacity="0.6"/>
<line x1="257.1" y1="371.00" x2="280.0" y2="371.00" stroke="#8a84c0" stroke-width="0.6"/>
<rect x="255.65" y="353.45" width="25.80" height="18.30" rx="0.9" fill="none" stroke="#5aa0dc" stroke-width="1.1"/>
<text x="297.75" y="351.60" font-size="4.8" text-anchor="middle" fill="#2a2a2a">BV6A</text>
<line x1="289.30" y1="355.30" x2="307.70" y2="355.30" stroke="#d8d8e0" stroke-width="0.5"/>
<polygon points="285.80,371.00 285.80,371.00 286.30,371.00 286.80,371.00 287.30,371.00 287.80,370.99 288.30,370.98 288.80,370.96 289.30,370.92 289.80,370.87 290.30,370.80 290.80,370.75 291.30,370.73 291.80,370.55 292.30,370.36 292.80,370.16 293.30,369.78 293.80,369.49 294.30,369.26 294.80,368.78 295.30,368.60 295.80,368.74 296.30,368.60 296.80,368.64 297.30,368.60 297.80,368.60 298.30,368.63 298.80,368.62 299.30,368.96 299.80,369.39 300.30,369.46 300.80,369.74 301.30,370.12 301.80,370.06 302.30,370.13 302.80,370.32 303.30,370.54 303.80,370.68 304.30,370.71 304.80,370.78 305.30,370.86 305.80,370.92 306.30,370.96 306.80,370.98 307.30,370.99 307.80,371.00 308.30,371.00 308.80,371.00 309.30,371.00 309.70,371.00" fill="#2a1d7e" fill-opacity="0.8"/>
<path d="M290.29,371.00 L290.89,369.30 L291.69,369.30 L292.29,371.00Z" fill="url(#pg)" fill-opacity="0.9"/>
<line x1="291.29" y1="371.00" x2="291.29" y2="369.47" stroke="#2a1d85" stroke-width="0.5" stroke-opacity="0.6"/>
<path d="M292.18,371.00 L292.78,365.90 L293.58,365.90 L294.18,371.00Z" fill="url(#pg)" fill-opacity="0.9"/>
<line x1="293.18" y1="371.00" x2="293.18" y2="366.41" stroke="#2a1d85" stroke-width="0.5" stroke-opacity="0.6"/>
<path d="M293.25,371.00 L293.85,360.80 L294.65,360.80 L295.25,371.00Z" fill="url(#pg)" fill-opacity="0.9"/>
<line x1="294.25" y1="371.00" x2="294.25" y2="361.82" stroke="#2a1d85" stroke-width="0.5" stroke-opacity="0.6"/>
<path d="M294.33,371.00 L294.93,355.70 L295.73,355.70 L296.33,371.00Z" fill="url(#pg)" fill-opacity="0.9"/>
<line x1="295.33" y1="371.00" x2="295.33" y2="357.23" stroke="#2a1d85" stroke-width="0.5" stroke-opacity="0.6"/>
<path d="M295.41,371.00 L296.01,355.36 L296.81,355.36 L297.41,371.00Z" fill="url(#pg)" fill-opacity="0.9"/>
<line x1="296.41" y1="371.00" x2="296.41" y2="356.92" stroke="#2a1d85" stroke-width="0.5" stroke-opacity="0.6"/>
<path d="M296.48,371.00 L297.08,355.36 L297.88,355.36 L298.48,371.00Z" fill="url(#pg)" fill-opacity="0.9"/>
<line x1="297.48" y1="371.00" x2="297.48" y2="356.92" stroke="#2a1d85" stroke-width="0.5" stroke-opacity="0.6"/>
<path d="M297.56,371.00 L298.16,355.70 L298.96,355.70 L299.56,371.00Z" fill="url(#pg)" fill-opacity="0.9"/>
<line x1="298.56" y1="371.00" x2="298.56" y2="357.23" stroke="#2a1d85" stroke-width="0.5" stroke-opacity="0.6"/>
<path d="M298.90,371.00 L299.50,360.80 L300.30,360.80 L300.90,371.00Z" fill="url(#pg)" fill-opacity="0.9"/>
<line x1="299.90" y1="371.00" x2="299.90" y2="361.82" stroke="#2a1d85" stroke-width="0.5" stroke-opacity="0.6"/>
<path d="M300.79,371.00 L301.39,365.05 L302.19,365.05 L302.79,371.00Z" fill="url(#pg)" fill-opacity="0.9"/>
<line x1="301.79" y1="371.00" x2="301.79" y2="365.64" stroke="#2a1d85" stroke-width="0.5" stroke-opacity="0.6"/>
<path d="M302.67,371.00 L303.27,368.96 L304.07,368.96 L304.67,371.00Z" fill="url(#pg)" fill-opacity="0.9"/>
<line x1="303.67" y1="371.00" x2="303.67" y2="369.16" stroke="#2a1d85" stroke-width="0.5" stroke-opacity="0.6"/>
<line x1="286.3" y1="371.00" x2="309.2" y2="371.00" stroke="#8a84c0" stroke-width="0.6"/>
<rect x="284.85" y="353.45" width="25.80" height="18.30" rx="0.9" fill="none" stroke="#5aa0dc" stroke-width="1.1"/>
<text x="326.85" y="351.60" font-size="4.8" text-anchor="middle" fill="#2a2a2a">BV6B</text>
<line x1="318.40" y1="355.30" x2="336.80" y2="355.30" stroke="#d8d8e0" stroke-width="0.5"/>
<polygon points="314.90,371.00 314.90,371.00 315.40,371.00 315.90,371.00 316.40,371.00 316.90,370.99 317.40,370.96 317.90,370.90 318.40,370.78 318.90,370.59 319.40,370.34 319.90,370.10 320.40,369.95 320.90,369.94 321.40,369.75 321.90,369.35 322.40,369.13 322.90,369.19 323.40,368.75 323.90,368.60 324.40,368.77 324.90,369.09 325.40,368.68 325.90,368.60 326.40,368.86 326.90,368.75 327.40,368.77 327.90,369.00 328.40,368.80 328.90,368.92 329.40,369.32 329.90,369.83 330.40,369.87 330.90,369.97 331.40,370.20 331.90,370.46 332.40,370.69 332.90,370.75 333.40,370.80 333.90,370.79 334.40,370.80 334.90,370.85 335.40,370.90 335.90,370.94 336.40,370.97 336.90,370.99 337.40,371.00 337.90,371.00 338.40,371.00 338.80,371.00" fill="#2a1d7e" fill-opacity="0.8"/>
<path d="M319.66,371.00 L320.26,364.20 L321.06,364.20 L321.66,371.00Z" fill="url(#pg)" fill-opacity="0.9"/>
<line x1="320.66" y1="371.00" x2="320.66" y2="364.88" stroke="#2a1d85" stroke-width="0.5" stroke-opacity="0.6"/>
<path d="M321.55,371.00 L322.15,359.10 L322.95,359.10 L323.55,371.00Z" fill="url(#pg)" fill-opacity="0.9"/>
<line x1="322.55" y1="371.00" x2="322.55" y2="360.29" stroke="#2a1d85" stroke-width="0.5" stroke-opacity="0.6"/>
<path d="M322.89,371.00 L323.49,355.70 L324.29,355.70 L324.89,371.00Z" fill="url(#pg)" fill-opacity="0.9"/>
<line x1="323.89" y1="371.00" x2="323.89" y2="357.23" stroke="#2a1d85" stroke-width="0.5" stroke-opacity="0.6"/>
<path d="M324.77,371.00 L325.37,355.70 L326.17,355.70 L326.77,371.00Z" fill="url(#pg)" fill-opacity="0.9"/>
<line x1="325.77" y1="371.00" x2="325.77" y2="357.23" stroke="#2a1d85" stroke-width="0.5" stroke-opacity="0.6"/>
<path d="M326.12,371.00 L326.72,356.55 L327.52,356.55 L328.12,371.00Z" fill="url(#pg)" fill-opacity="0.9"/>
<line x1="327.12" y1="371.00" x2="327.12" y2="357.99" stroke="#2a1d85" stroke-width="0.5" stroke-opacity="0.6"/>
<path d="M327.46,371.00 L328.06,357.06 L328.86,357.06 L329.46,371.00Z" fill="url(#pg)" fill-opacity="0.9"/>
<line x1="328.46" y1="371.00" x2="328.46" y2="358.45" stroke="#2a1d85" stroke-width="0.5" stroke-opacity="0.6"/>
<path d="M329.35,371.00 L329.95,363.86 L330.75,363.86 L331.35,371.00Z" fill="url(#pg)" fill-opacity="0.9"/>
<line x1="330.35" y1="371.00" x2="330.35" y2="364.57" stroke="#2a1d85" stroke-width="0.5" stroke-opacity="0.6"/>
<path d="M330.96,371.00 L331.56,368.96 L332.36,368.96 L332.96,371.00Z" fill="url(#pg)" fill-opacity="0.9"/>
<line x1="331.96" y1="371.00" x2="331.96" y2="369.16" stroke="#2a1d85" stroke-width="0.5" stroke-opacity="0.6"/>
<path d="M332.84,371.00 L333.44,369.64 L334.24,369.64 L334.84,371.00Z" fill="url(#pg)" fill-opacity="0.9"/>
<line x1="333.84" y1="371.00" x2="333.84" y2="369.78" stroke="#2a1d85" stroke-width="0.5" stroke-opacity="0.6"/>
<line x1="315.4" y1="371.00" x2="338.29999999999995" y2="371.00" stroke="#8a84c0" stroke-width="0.6"/>
<rect x="313.95" y="353.45" width="25.80" height="18.30" rx="0.9" fill="none" stroke="#5aa0dc" stroke-width="1.1"/>
<text x="356.55" y="351.60" font-size="4.8" text-anchor="middle" fill="#2a2a2a">BV7</text>
<line x1="348.10" y1="355.30" x2="366.50" y2="355.30" stroke="#d8d8e0" stroke-width="0.5"/>
<polygon points="344.60,371.00 344.60,371.00 345.10,371.00 345.60,371.00 346.10,370.99 346.60,370.99 347.10,370.97 347.60,370.94 348.10,370.91 348.60,370.88 349.10,370.78 349.60,370.57 350.10,370.30 350.60,370.03 351.10,369.83 351.60,369.80 352.10,369.94 352.60,370.20 353.10,369.88 353.60,369.57 354.10,369.44 354.60,369.54 355.10,369.19 355.60,368.78 356.10,368.67 356.60,368.90 357.10,369.38 357.60,369.48 358.10,369.46 358.60,369.66 359.10,370.00 359.60,370.36 360.10,370.43 360.60,370.52 361.10,370.66 361.60,370.69 362.10,370.68 362.60,370.72 363.10,370.79 363.60,370.79 364.10,370.79 364.60,370.82 365.10,370.87 365.60,370.92 366.10,370.96 366.60,370.98 367.10,370.99 367.60,371.00 368.10,371.00 368.50,371.00" fill="#2a1d7e" fill-opacity="0.8"/>
<path d="M348.29,371.00 L348.89,370.15 L349.69,370.15 L350.29,371.00Z" fill="url(#pg)" fill-opacity="0.9"/>
<line x1="349.29" y1="371.00" x2="349.29" y2="370.23" stroke="#2a1d85" stroke-width="0.5" stroke-opacity="0.6"/>
<path d="M350.44,371.00 L351.04,363.35 L351.84,363.35 L352.44,371.00Z" fill="url(#pg)" fill-opacity="0.9"/>
<line x1="351.44" y1="371.00" x2="351.44" y2="364.11" stroke="#2a1d85" stroke-width="0.5" stroke-opacity="0.6"/>
<path d="M353.13,371.00 L353.73,361.14 L354.53,361.14 L355.13,371.00Z" fill="url(#pg)" fill-opacity="0.9"/>
<line x1="354.13" y1="371.00" x2="354.13" y2="362.13" stroke="#2a1d85" stroke-width="0.5" stroke-opacity="0.6"/>
<path d="M355.01,371.00 L355.61,356.21 L356.41,356.21 L357.01,371.00Z" fill="url(#pg)" fill-opacity="0.9"/>
<line x1="356.01" y1="371.00" x2="356.01" y2="357.69" stroke="#2a1d85" stroke-width="0.5" stroke-opacity="0.6"/>
<path d="M356.90,371.00 L357.50,361.14 L358.30,361.14 L358.90,371.00Z" fill="url(#pg)" fill-opacity="0.9"/>
<line x1="357.90" y1="371.00" x2="357.90" y2="362.13" stroke="#2a1d85" stroke-width="0.5" stroke-opacity="0.6"/>
<path d="M358.78,371.00 L359.38,367.26 L360.18,367.26 L360.78,371.00Z" fill="url(#pg)" fill-opacity="0.9"/>
<line x1="359.78" y1="371.00" x2="359.78" y2="367.63" stroke="#2a1d85" stroke-width="0.5" stroke-opacity="0.6"/>
<path d="M360.93,371.00 L361.53,368.96 L362.33,368.96 L362.93,371.00Z" fill="url(#pg)" fill-opacity="0.9"/>
<line x1="361.93" y1="371.00" x2="361.93" y2="369.16" stroke="#2a1d85" stroke-width="0.5" stroke-opacity="0.6"/>
<path d="M362.81,371.00 L363.41,369.64 L364.21,369.64 L364.81,371.00Z" fill="url(#pg)" fill-opacity="0.9"/>
<line x1="363.81" y1="371.00" x2="363.81" y2="369.78" stroke="#2a1d85" stroke-width="0.5" stroke-opacity="0.6"/>
<line x1="345.1" y1="371.00" x2="368.0" y2="371.00" stroke="#8a84c0" stroke-width="0.6"/>
<rect x="343.65" y="353.45" width="25.80" height="18.30" rx="0.9" fill="none" stroke="#5aa0dc" stroke-width="1.1"/>
<text x="268.55" y="379.20" font-size="4.8" text-anchor="middle" fill="#2a2a2a">BV8</text>
<line x1="260.10" y1="382.90" x2="278.50" y2="382.90" stroke="#d8d8e0" stroke-width="0.5"/>
<polygon points="256.60,398.60 256.60,398.60 257.10,398.60 257.60,398.60 258.10,398.60 258.60,398.60 259.10,398.60 259.60,398.60 260.10,398.60 260.60,398.59 261.10,398.57 261.60,398.53 262.10,398.48 262.60,398.42 263.10,398.33 263.60,398.14 264.10,397.93 264.60,397.77 265.10,397.45 265.60,397.01 266.10,396.72 266.60,396.69 267.10,396.94 267.60,396.69 268.10,396.59 268.60,396.45 269.10,396.29 269.60,396.47 270.10,396.91 270.60,397.05 271.10,397.12 271.60,397.38 272.10,397.75 272.60,397.93 273.10,397.98 273.60,398.11 274.10,398.20 274.60,398.22 275.10,398.29 275.60,398.38 276.10,398.40 276.60,398.38 277.10,398.40 277.60,398.44 278.10,398.49 278.60,398.54 279.10,398.57 279.60,398.59 280.10,398.59 280.50,398.60" fill="#2a1d7e" fill-opacity="0.8"/>
<path d="M262.71,398.60 L263.31,396.90 L264.11,396.90 L264.71,398.60Z" fill="url(#pg)" fill-opacity="0.9"/>
<line x1="263.71" y1="398.60" x2="263.71" y2="397.07" stroke="#2a1d85" stroke-width="0.5" stroke-opacity="0.6"/>
<path d="M264.05,398.60 L264.65,392.99 L265.45,392.99 L266.05,398.60Z" fill="url(#pg)" fill-opacity="0.9"/>
<line x1="265.05" y1="398.60" x2="265.05" y2="393.55" stroke="#2a1d85" stroke-width="0.5" stroke-opacity="0.6"/>
<path d="M265.40,398.60 L266.00,386.36 L266.80,386.36 L267.40,398.60Z" fill="url(#pg)" fill-opacity="0.9"/>
<line x1="266.40" y1="398.60" x2="266.40" y2="387.58" stroke="#2a1d85" stroke-width="0.5" stroke-opacity="0.6"/>
<path d="M267.01,398.60 L267.61,385.85 L268.41,385.85 L269.01,398.60Z" fill="url(#pg)" fill-opacity="0.9"/>
<line x1="268.01" y1="398.60" x2="268.01" y2="387.12" stroke="#2a1d85" stroke-width="0.5" stroke-opacity="0.6"/>
<path d="M268.09,398.60 L268.69,383.98 L269.49,383.98 L270.09,398.60Z" fill="url(#pg)" fill-opacity="0.9"/>
<line x1="269.09" y1="398.60" x2="269.09" y2="385.44" stroke="#2a1d85" stroke-width="0.5" stroke-opacity="0.6"/>
<path d="M269.70,398.60 L270.30,388.74 L271.10,388.74 L271.70,398.60Z" fill="url(#pg)" fill-opacity="0.9"/>
<line x1="270.70" y1="398.60" x2="270.70" y2="389.73" stroke="#2a1d85" stroke-width="0.5" stroke-opacity="0.6"/>
<path d="M271.58,398.60 L272.19,394.35 L272.98,394.35 L273.58,398.60Z" fill="url(#pg)" fill-opacity="0.9"/>
<line x1="272.58" y1="398.60" x2="272.58" y2="394.77" stroke="#2a1d85" stroke-width="0.5" stroke-opacity="0.6"/>
<path d="M273.20,398.60 L273.80,396.05 L274.60,396.05 L275.20,398.60Z" fill="url(#pg)" fill-opacity="0.9"/>
<line x1="274.20" y1="398.60" x2="274.20" y2="396.30" stroke="#2a1d85" stroke-width="0.5" stroke-opacity="0.6"/>
<path d="M275.62,398.60 L276.22,397.24 L277.02,397.24 L277.62,398.60Z" fill="url(#pg)" fill-opacity="0.9"/>
<line x1="276.62" y1="398.60" x2="276.62" y2="397.38" stroke="#2a1d85" stroke-width="0.5" stroke-opacity="0.6"/>
<line x1="257.1" y1="398.60" x2="280.0" y2="398.60" stroke="#8a84c0" stroke-width="0.6"/>
<rect x="255.65" y="381.05" width="25.80" height="18.30" rx="0.9" fill="none" stroke="#5aa0dc" stroke-width="1.1"/>
<text x="297.75" y="379.20" font-size="4.8" text-anchor="middle" fill="#2a2a2a">BV9</text>
<line x1="289.30" y1="382.90" x2="307.70" y2="382.90" stroke="#d8d8e0" stroke-width="0.5"/>
<polygon points="285.80,398.60 285.80,398.60 286.30,398.60 286.80,398.60 287.30,398.60 287.80,398.60 288.30,398.59 288.80,398.58 289.30,398.54 289.80,398.49 290.30,398.40 290.80,398.31 291.30,398.23 291.80,398.17 292.30,397.88 292.80,397.56 293.30,397.33 293.80,397.26 294.30,397.39 294.80,397.37 295.30,397.02 295.80,396.86 296.30,396.95 296.80,396.60 297.30,396.31 297.80,396.36 298.30,396.72 298.80,397.25 299.30,397.35 299.80,397.60 300.30,397.83 300.80,397.80 301.30,397.88 301.80,398.04 302.30,398.20 302.80,398.22 303.30,398.30 303.80,398.39 304.30,398.39 304.80,398.41 305.30,398.45 305.80,398.50 306.30,398.54 306.80,398.57 307.30,398.59 307.80,398.60 308.30,398.60 308.80,398.60 309.30,398.60 309.70,398.60" fill="#2a1d7e" fill-opacity="0.8"/>
<path d="M290.83,398.60 L291.43,396.05 L292.23,396.05 L292.83,398.60Z" fill="url(#pg)" fill-opacity="0.9"/>
<line x1="291.83" y1="398.60" x2="291.83" y2="396.30" stroke="#2a1d85" stroke-width="0.5" stroke-opacity="0.6"/>
<path d="M292.72,398.60 L293.32,390.10 L294.12,390.10 L294.72,398.60Z" fill="url(#pg)" fill-opacity="0.9"/>
<line x1="293.72" y1="398.60" x2="293.72" y2="390.95" stroke="#2a1d85" stroke-width="0.5" stroke-opacity="0.6"/>
<path d="M293.79,398.60 L294.39,392.65 L295.19,392.65 L295.79,398.60Z" fill="url(#pg)" fill-opacity="0.9"/>
<line x1="294.79" y1="398.60" x2="294.79" y2="393.24" stroke="#2a1d85" stroke-width="0.5" stroke-opacity="0.6"/>
<path d="M294.87,398.60 L295.47,387.55 L296.27,387.55 L296.87,398.60Z" fill="url(#pg)" fill-opacity="0.9"/>
<line x1="295.87" y1="398.60" x2="295.87" y2="388.65" stroke="#2a1d85" stroke-width="0.5" stroke-opacity="0.6"/>
<path d="M296.48,398.60 L297.08,383.98 L297.88,383.98 L298.48,398.60Z" fill="url(#pg)" fill-opacity="0.9"/>
<line x1="297.48" y1="398.60" x2="297.48" y2="385.44" stroke="#2a1d85" stroke-width="0.5" stroke-opacity="0.6"/>
<path d="M297.83,398.60 L298.43,390.10 L299.23,390.10 L299.83,398.60Z" fill="url(#pg)" fill-opacity="0.9"/>
<line x1="298.83" y1="398.60" x2="298.83" y2="390.95" stroke="#2a1d85" stroke-width="0.5" stroke-opacity="0.6"/>
<path d="M299.71,398.60 L300.31,393.50 L301.11,393.50 L301.71,398.60Z" fill="url(#pg)" fill-opacity="0.9"/>
<line x1="300.71" y1="398.60" x2="300.71" y2="394.01" stroke="#2a1d85" stroke-width="0.5" stroke-opacity="0.6"/>
<path d="M301.32,398.60 L301.92,396.05 L302.72,396.05 L303.32,398.60Z" fill="url(#pg)" fill-opacity="0.9"/>
<line x1="302.32" y1="398.60" x2="302.32" y2="396.30" stroke="#2a1d85" stroke-width="0.5" stroke-opacity="0.6"/>
<path d="M303.21,398.60 L303.81,397.24 L304.61,397.24 L305.21,398.60Z" fill="url(#pg)" fill-opacity="0.9"/>
<line x1="304.21" y1="398.60" x2="304.21" y2="397.38" stroke="#2a1d85" stroke-width="0.5" stroke-opacity="0.6"/>
<line x1="286.3" y1="398.60" x2="309.2" y2="398.60" stroke="#8a84c0" stroke-width="0.6"/>
<rect x="284.85" y="381.05" width="25.80" height="18.30" rx="0.9" fill="none" stroke="#5aa0dc" stroke-width="1.1"/>
<text x="326.85" y="379.20" font-size="4.8" text-anchor="middle" fill="#2a2a2a">BV11</text>
<line x1="318.40" y1="382.90" x2="336.80" y2="382.90" stroke="#d8d8e0" stroke-width="0.5"/>
<polygon points="314.90,398.60 314.90,398.60 315.40,398.60 315.90,398.60 316.40,398.59 316.90,398.58 317.40,398.56 317.90,398.52 318.40,398.46 318.90,398.40 319.40,398.35 319.90,398.33 320.40,398.32 320.90,398.24 321.40,398.20 321.90,398.07 322.40,397.83 322.90,397.64 323.40,397.53 323.90,397.24 324.40,397.12 324.90,396.75 325.40,396.36 325.90,396.27 326.40,396.53 326.90,396.96 327.40,396.97 327.90,397.22 328.40,397.39 328.90,397.46 329.40,397.48 329.90,397.21 330.40,397.12 330.90,397.25 331.40,397.55 331.90,397.90 332.40,398.04 332.90,398.15 333.40,398.29 333.90,398.33 334.40,398.36 334.90,398.41 335.40,398.47 335.90,398.53 336.40,398.56 336.90,398.58 337.40,398.59 337.90,398.60 338.40,398.60 338.80,398.60" fill="#2a1d7e" fill-opacity="0.8"/>
<path d="M318.86,398.60 L319.46,396.90 L320.26,396.90 L320.86,398.60Z" fill="url(#pg)" fill-opacity="0.9"/>
<line x1="319.86" y1="398.60" x2="319.86" y2="397.07" stroke="#2a1d85" stroke-width="0.5" stroke-opacity="0.6"/>
<path d="M320.47,398.60 L321.07,396.05 L321.87,396.05 L322.47,398.60Z" fill="url(#pg)" fill-opacity="0.9"/>
<line x1="321.47" y1="398.60" x2="321.47" y2="396.30" stroke="#2a1d85" stroke-width="0.5" stroke-opacity="0.6"/>
<path d="M322.35,398.60 L322.95,392.14 L323.75,392.14 L324.35,398.60Z" fill="url(#pg)" fill-opacity="0.9"/>
<line x1="323.35" y1="398.60" x2="323.35" y2="392.79" stroke="#2a1d85" stroke-width="0.5" stroke-opacity="0.6"/>
<path d="M323.43,398.60 L324.03,389.25 L324.83,389.25 L325.43,398.60Z" fill="url(#pg)" fill-opacity="0.9"/>
<line x1="324.43" y1="398.60" x2="324.43" y2="390.18" stroke="#2a1d85" stroke-width="0.5" stroke-opacity="0.6"/>
<path d="M324.77,398.60 L325.37,383.81 L326.17,383.81 L326.77,398.60Z" fill="url(#pg)" fill-opacity="0.9"/>
<line x1="325.77" y1="398.60" x2="325.77" y2="385.29" stroke="#2a1d85" stroke-width="0.5" stroke-opacity="0.6"/>
<path d="M326.12,398.60 L326.72,388.06 L327.52,388.06 L328.12,398.60Z" fill="url(#pg)" fill-opacity="0.9"/>
<line x1="327.12" y1="398.60" x2="327.12" y2="389.11" stroke="#2a1d85" stroke-width="0.5" stroke-opacity="0.6"/>
<path d="M327.46,398.60 L328.06,390.95 L328.86,390.95 L329.46,398.60Z" fill="url(#pg)" fill-opacity="0.9"/>
<line x1="328.46" y1="398.60" x2="328.46" y2="391.71" stroke="#2a1d85" stroke-width="0.5" stroke-opacity="0.6"/>
<path d="M329.35,398.60 L329.95,389.25 L330.75,389.25 L331.35,398.60Z" fill="url(#pg)" fill-opacity="0.9"/>
<line x1="330.35" y1="398.60" x2="330.35" y2="390.18" stroke="#2a1d85" stroke-width="0.5" stroke-opacity="0.6"/>
<path d="M330.96,398.60 L331.56,394.86 L332.36,394.86 L332.96,398.60Z" fill="url(#pg)" fill-opacity="0.9"/>
<line x1="331.96" y1="398.60" x2="331.96" y2="395.23" stroke="#2a1d85" stroke-width="0.5" stroke-opacity="0.6"/>
<path d="M332.84,398.60 L333.44,396.90 L334.24,396.90 L334.84,398.60Z" fill="url(#pg)" fill-opacity="0.9"/>
<line x1="333.84" y1="398.60" x2="333.84" y2="397.07" stroke="#2a1d85" stroke-width="0.5" stroke-opacity="0.6"/>
<line x1="315.4" y1="398.60" x2="338.29999999999995" y2="398.60" stroke="#8a84c0" stroke-width="0.6"/>
<rect x="313.95" y="381.05" width="25.80" height="18.30" rx="0.9" fill="none" stroke="#5aa0dc" stroke-width="1.1"/>
<text x="356.55" y="379.20" font-size="4.8" text-anchor="middle" fill="#2a2a2a">BV12</text>
<line x1="348.10" y1="382.90" x2="366.50" y2="382.90" stroke="#d8d8e0" stroke-width="0.5"/>
<polygon points="344.60,398.60 344.60,398.60 345.10,398.60 345.60,398.60 346.10,398.60 346.60,398.60 347.10,398.60 347.60,398.60 348.10,398.59 348.60,398.58 349.10,398.55 349.60,398.51 350.10,398.45 350.60,398.38 351.10,398.29 351.60,398.07 352.10,397.83 352.60,397.64 353.10,397.58 353.60,397.37 354.10,397.02 354.60,396.86 355.10,396.79 355.60,396.38 356.10,396.27 356.60,396.50 357.10,396.92 357.60,396.77 358.10,396.89 358.60,397.24 359.10,397.40 359.60,397.44 360.10,397.64 360.60,397.92 361.10,398.07 361.60,398.15 362.10,398.27 362.60,398.39 363.10,398.39 363.60,398.39 364.10,398.43 364.60,398.47 365.10,398.48 365.60,398.47 366.10,398.47 366.60,398.50 367.10,398.53 367.60,398.56 368.10,398.58 368.50,398.60" fill="#2a1d7e" fill-opacity="0.8"/>
<path d="M350.44,398.60 L351.04,396.90 L351.84,396.90 L352.44,398.60Z" fill="url(#pg)" fill-opacity="0.9"/>
<line x1="351.44" y1="398.60" x2="351.44" y2="397.07" stroke="#2a1d85" stroke-width="0.5" stroke-opacity="0.6"/>
<path d="M352.05,398.60 L352.65,392.14 L353.45,392.14 L354.05,398.60Z" fill="url(#pg)" fill-opacity="0.9"/>
<line x1="353.05" y1="398.60" x2="353.05" y2="392.79" stroke="#2a1d85" stroke-width="0.5" stroke-opacity="0.6"/>
<path d="M353.67,398.60 L354.27,387.55 L355.07,387.55 L355.67,398.60Z" fill="url(#pg)" fill-opacity="0.9"/>
<line x1="354.67" y1="398.60" x2="354.67" y2="388.65" stroke="#2a1d85" stroke-width="0.5" stroke-opacity="0.6"/>
<path d="M355.01,398.60 L355.61,383.81 L356.41,383.81 L357.01,398.60Z" fill="url(#pg)" fill-opacity="0.9"/>
<line x1="356.01" y1="398.60" x2="356.01" y2="385.29" stroke="#2a1d85" stroke-width="0.5" stroke-opacity="0.6"/>
<path d="M356.63,398.60 L357.23,387.04 L358.03,387.04 L358.63,398.60Z" fill="url(#pg)" fill-opacity="0.9"/>
<line x1="357.63" y1="398.60" x2="357.63" y2="388.20" stroke="#2a1d85" stroke-width="0.5" stroke-opacity="0.6"/>
<path d="M358.24,398.60 L358.84,390.95 L359.64,390.95 L360.24,398.60Z" fill="url(#pg)" fill-opacity="0.9"/>
<line x1="359.24" y1="398.60" x2="359.24" y2="391.71" stroke="#2a1d85" stroke-width="0.5" stroke-opacity="0.6"/>
<path d="M359.85,398.60 L360.45,395.20 L361.25,395.20 L361.85,398.60Z" fill="url(#pg)" fill-opacity="0.9"/>
<line x1="360.85" y1="398.60" x2="360.85" y2="395.54" stroke="#2a1d85" stroke-width="0.5" stroke-opacity="0.6"/>
<path d="M362.28,398.60 L362.88,397.24 L363.68,397.24 L364.28,398.60Z" fill="url(#pg)" fill-opacity="0.9"/>
<line x1="363.28" y1="398.60" x2="363.28" y2="397.38" stroke="#2a1d85" stroke-width="0.5" stroke-opacity="0.6"/>
<path d="M364.70,398.60 L365.30,397.75 L366.10,397.75 L366.70,398.60Z" fill="url(#pg)" fill-opacity="0.9"/>
<line x1="365.70" y1="398.60" x2="365.70" y2="397.83" stroke="#2a1d85" stroke-width="0.5" stroke-opacity="0.6"/>
<line x1="345.1" y1="398.60" x2="368.0" y2="398.60" stroke="#8a84c0" stroke-width="0.6"/>
<rect x="343.65" y="381.05" width="25.80" height="18.30" rx="0.9" fill="none" stroke="#5aa0dc" stroke-width="1.1"/>
<text x="268.55" y="407.00" font-size="4.8" text-anchor="middle" fill="#2a2a2a">BV13</text>
<line x1="260.10" y1="410.70" x2="278.50" y2="410.70" stroke="#d8d8e0" stroke-width="0.5"/>
<polygon points="256.60,426.40 256.60,426.40 257.10,426.40 257.60,426.40 258.10,426.40 258.60,426.40 259.10,426.40 259.60,426.40 260.10,426.40 260.60,426.40 261.10,426.39 261.60,426.38 262.10,426.35 262.60,426.30 263.10,426.23 263.60,426.15 264.10,425.97 264.60,425.71 265.10,425.46 265.60,425.29 266.10,425.27 266.60,424.81 267.10,424.47 267.60,424.39 268.10,424.05 268.60,424.00 269.10,424.10 269.60,424.00 270.10,424.07 270.60,424.21 271.10,424.13 271.60,424.38 272.10,424.86 272.60,425.35 273.10,425.51 273.60,425.75 274.10,425.94 274.60,426.03 275.10,426.14 275.60,426.19 276.10,426.19 276.60,426.22 277.10,426.27 277.60,426.32 278.10,426.36 278.60,426.38 279.10,426.39 279.60,426.40 280.10,426.40 280.50,426.40" fill="#2a1d7e" fill-opacity="0.8"/>
<path d="M263.51,426.40 L264.12,424.36 L264.91,424.36 L265.51,426.40Z" fill="url(#pg)" fill-opacity="0.9"/>
<line x1="264.51" y1="426.40" x2="264.51" y2="424.56" stroke="#2a1d85" stroke-width="0.5" stroke-opacity="0.6"/>
<path d="M264.86,426.40 L265.46,419.26 L266.26,419.26 L266.86,426.40Z" fill="url(#pg)" fill-opacity="0.9"/>
<line x1="265.86" y1="426.40" x2="265.86" y2="419.97" stroke="#2a1d85" stroke-width="0.5" stroke-opacity="0.6"/>
<path d="M266.47,426.40 L267.07,413.65 L267.87,413.65 L268.47,426.40Z" fill="url(#pg)" fill-opacity="0.9"/>
<line x1="267.47" y1="426.40" x2="267.47" y2="414.92" stroke="#2a1d85" stroke-width="0.5" stroke-opacity="0.6"/>
<path d="M267.55,426.40 L268.15,410.59 L268.95,410.59 L269.55,426.40Z" fill="url(#pg)" fill-opacity="0.9"/>
<line x1="268.55" y1="426.40" x2="268.55" y2="412.17" stroke="#2a1d85" stroke-width="0.5" stroke-opacity="0.6"/>
<path d="M268.63,426.40 L269.23,410.59 L270.03,410.59 L270.63,426.40Z" fill="url(#pg)" fill-opacity="0.9"/>
<line x1="269.63" y1="426.40" x2="269.63" y2="412.17" stroke="#2a1d85" stroke-width="0.5" stroke-opacity="0.6"/>
<path d="M269.97,426.40 L270.57,411.95 L271.37,411.95 L271.97,426.40Z" fill="url(#pg)" fill-opacity="0.9"/>
<line x1="270.97" y1="426.40" x2="270.97" y2="413.39" stroke="#2a1d85" stroke-width="0.5" stroke-opacity="0.6"/>
<path d="M271.32,426.40 L271.92,419.60 L272.72,419.60 L273.32,426.40Z" fill="url(#pg)" fill-opacity="0.9"/>
<line x1="272.32" y1="426.40" x2="272.32" y2="420.28" stroke="#2a1d85" stroke-width="0.5" stroke-opacity="0.6"/>
<path d="M272.66,426.40 L273.26,423.34 L274.06,423.34 L274.66,426.40Z" fill="url(#pg)" fill-opacity="0.9"/>
<line x1="273.66" y1="426.40" x2="273.66" y2="423.65" stroke="#2a1d85" stroke-width="0.5" stroke-opacity="0.6"/>
<path d="M274.81,426.40 L275.41,425.04 L276.21,425.04 L276.81,426.40Z" fill="url(#pg)" fill-opacity="0.9"/>
<line x1="275.81" y1="426.40" x2="275.81" y2="425.18" stroke="#2a1d85" stroke-width="0.5" stroke-opacity="0.6"/>
<line x1="257.1" y1="426.40" x2="280.0" y2="426.40" stroke="#8a84c0" stroke-width="0.6"/>
<rect x="255.65" y="408.85" width="25.80" height="18.30" rx="0.9" fill="none" stroke="#5aa0dc" stroke-width="1.1"/>
<text x="297.75" y="407.00" font-size="4.8" text-anchor="middle" fill="#2a2a2a">BV14</text>
<line x1="289.30" y1="410.70" x2="307.70" y2="410.70" stroke="#d8d8e0" stroke-width="0.5"/>
<polygon points="285.80,426.40 285.80,426.40 286.30,426.40 286.80,426.40 287.30,426.39 287.80,426.37 288.30,426.33 288.80,426.27 289.30,426.19 289.80,426.12 290.30,426.08 290.80,425.99 291.30,425.78 291.80,425.60 292.30,425.51 292.80,425.52 293.30,425.12 293.80,424.81 294.30,424.71 294.80,424.64 295.30,424.14 295.80,424.00 296.30,424.04 296.80,424.49 297.30,424.27 297.80,424.00 298.30,424.00 298.80,424.33 299.30,424.89 299.80,425.33 300.30,425.38 300.80,425.56 301.30,425.81 301.80,425.87 302.30,425.87 302.80,425.95 303.30,426.07 303.80,426.14 304.30,426.13 304.80,426.16 305.30,426.21 305.80,426.28 306.30,426.33 306.80,426.37 307.30,426.39 307.80,426.40 308.30,426.40 308.80,426.40 309.30,426.40 309.70,426.40" fill="#2a1d7e" fill-opacity="0.8"/>
<path d="M289.49,426.40 L290.09,424.36 L290.89,424.36 L291.49,426.40Z" fill="url(#pg)" fill-opacity="0.9"/>
<line x1="290.49" y1="426.40" x2="290.49" y2="424.56" stroke="#2a1d85" stroke-width="0.5" stroke-opacity="0.6"/>
<path d="M291.37,426.40 L291.97,420.79 L292.77,420.79 L293.37,426.40Z" fill="url(#pg)" fill-opacity="0.9"/>
<line x1="292.37" y1="426.40" x2="292.37" y2="421.35" stroke="#2a1d85" stroke-width="0.5" stroke-opacity="0.6"/>
<path d="M293.25,426.40 L293.85,415.69 L294.65,415.69 L295.25,426.40Z" fill="url(#pg)" fill-opacity="0.9"/>
<line x1="294.25" y1="426.40" x2="294.25" y2="416.76" stroke="#2a1d85" stroke-width="0.5" stroke-opacity="0.6"/>
<path d="M294.87,426.40 L295.47,410.59 L296.27,410.59 L296.87,426.40Z" fill="url(#pg)" fill-opacity="0.9"/>
<line x1="295.87" y1="426.40" x2="295.87" y2="412.17" stroke="#2a1d85" stroke-width="0.5" stroke-opacity="0.6"/>
<path d="M297.02,426.40 L297.62,410.59 L298.42,410.59 L299.02,426.40Z" fill="url(#pg)" fill-opacity="0.9"/>
<line x1="298.02" y1="426.40" x2="298.02" y2="412.17" stroke="#2a1d85" stroke-width="0.5" stroke-opacity="0.6"/>
<path d="M298.90,426.40 L299.50,419.60 L300.30,419.60 L300.90,426.40Z" fill="url(#pg)" fill-opacity="0.9"/>
<line x1="299.90" y1="426.40" x2="299.90" y2="420.28" stroke="#2a1d85" stroke-width="0.5" stroke-opacity="0.6"/>
<path d="M301.05,426.40 L301.65,423.00 L302.45,423.00 L303.05,426.40Z" fill="url(#pg)" fill-opacity="0.9"/>
<line x1="302.05" y1="426.40" x2="302.05" y2="423.34" stroke="#2a1d85" stroke-width="0.5" stroke-opacity="0.6"/>
<path d="M303.21,426.40 L303.81,424.70 L304.61,424.70 L305.21,426.40Z" fill="url(#pg)" fill-opacity="0.9"/>
<line x1="304.21" y1="426.40" x2="304.21" y2="424.87" stroke="#2a1d85" stroke-width="0.5" stroke-opacity="0.6"/>
<line x1="286.3" y1="426.40" x2="309.2" y2="426.40" stroke="#8a84c0" stroke-width="0.6"/>
<rect x="284.85" y="408.85" width="25.80" height="18.30" rx="0.9" fill="none" stroke="#5aa0dc" stroke-width="1.1"/>
<text x="326.85" y="407.00" font-size="4.8" text-anchor="middle" fill="#2a2a2a">BV15</text>
<line x1="318.40" y1="410.70" x2="336.80" y2="410.70" stroke="#d8d8e0" stroke-width="0.5"/>
<polygon points="314.90,426.40 314.90,426.40 315.40,426.40 315.90,426.40 316.40,426.40 316.90,426.40 317.40,426.39 317.90,426.37 318.40,426.34 318.90,426.30 319.40,426.18 319.90,425.95 320.40,425.60 320.90,425.19 321.40,424.82 321.90,424.63 322.40,424.71 322.90,425.01 323.40,425.42 323.90,425.59 324.40,425.31 324.90,424.73 325.40,424.20 325.90,424.00 326.40,424.00 326.90,424.41 327.40,424.98 327.90,425.45 328.40,425.58 328.90,425.80 329.40,425.71 329.90,425.68 330.40,425.75 330.90,425.90 331.40,426.07 331.90,426.13 332.40,426.15 332.90,426.20 333.40,426.26 333.90,426.32 334.40,426.36 334.90,426.38 335.40,426.39 335.90,426.40 336.40,426.40 336.90,426.40 337.40,426.40 337.90,426.40 338.40,426.40 338.80,426.40" fill="#2a1d7e" fill-opacity="0.8"/>
<path d="M319.66,426.40 L320.26,424.70 L321.06,424.70 L321.66,426.40Z" fill="url(#pg)" fill-opacity="0.9"/>
<line x1="320.66" y1="426.40" x2="320.66" y2="424.87" stroke="#2a1d85" stroke-width="0.5" stroke-opacity="0.6"/>
<path d="M321.01,426.40 L321.61,415.18 L322.41,415.18 L323.01,426.40Z" fill="url(#pg)" fill-opacity="0.9"/>
<line x1="322.01" y1="426.40" x2="322.01" y2="416.30" stroke="#2a1d85" stroke-width="0.5" stroke-opacity="0.6"/>
<path d="M322.89,426.40 L323.49,421.30 L324.29,421.30 L324.89,426.40Z" fill="url(#pg)" fill-opacity="0.9"/>
<line x1="323.89" y1="426.40" x2="323.89" y2="421.81" stroke="#2a1d85" stroke-width="0.5" stroke-opacity="0.6"/>
<path d="M325.04,426.40 L325.64,410.59 L326.44,410.59 L327.04,426.40Z" fill="url(#pg)" fill-opacity="0.9"/>
<line x1="326.04" y1="426.40" x2="326.04" y2="412.17" stroke="#2a1d85" stroke-width="0.5" stroke-opacity="0.6"/>
<path d="M326.66,426.40 L327.26,420.28 L328.06,420.28 L328.66,426.40Z" fill="url(#pg)" fill-opacity="0.9"/>
<line x1="327.66" y1="426.40" x2="327.66" y2="420.89" stroke="#2a1d85" stroke-width="0.5" stroke-opacity="0.6"/>
<path d="M328.81,426.40 L329.41,421.81 L330.21,421.81 L330.81,426.40Z" fill="url(#pg)" fill-opacity="0.9"/>
<line x1="329.81" y1="426.40" x2="329.81" y2="422.27" stroke="#2a1d85" stroke-width="0.5" stroke-opacity="0.6"/>
<path d="M330.96,426.40 L331.56,424.70 L332.36,424.70 L332.96,426.40Z" fill="url(#pg)" fill-opacity="0.9"/>
<line x1="331.96" y1="426.40" x2="331.96" y2="424.87" stroke="#2a1d85" stroke-width="0.5" stroke-opacity="0.6"/>
<line x1="315.4" y1="426.40" x2="338.29999999999995" y2="426.40" stroke="#8a84c0" stroke-width="0.6"/>
<rect x="313.95" y="408.85" width="25.80" height="18.30" rx="0.9" fill="none" stroke="#5aa0dc" stroke-width="1.1"/>
<text x="356.55" y="407.00" font-size="4.8" text-anchor="middle" fill="#2a2a2a">BV16</text>
<line x1="348.10" y1="410.70" x2="366.50" y2="410.70" stroke="#d8d8e0" stroke-width="0.5"/>
<polygon points="344.60,426.40 344.60,426.40 345.10,426.40 345.60,426.40 346.10,426.40 346.60,426.39 347.10,426.38 347.60,426.36 348.10,426.32 348.60,426.25 349.10,426.15 349.60,426.06 350.10,426.01 350.60,425.79 351.10,425.47 351.60,425.17 352.10,425.01 352.60,425.06 353.10,425.28 353.60,425.61 354.10,425.59 354.60,425.65 355.10,425.41 355.60,425.28 356.10,425.21 356.60,425.02 357.10,425.03 357.60,424.49 358.10,424.11 358.60,424.05 359.10,424.34 359.60,424.85 360.10,425.40 360.60,425.84 361.10,426.02 361.60,426.14 362.10,426.16 362.60,426.13 363.10,426.14 363.60,426.13 364.10,426.16 364.60,426.21 365.10,426.27 365.60,426.33 366.10,426.36 366.60,426.38 367.10,426.39 367.60,426.40 368.10,426.40 368.50,426.40" fill="#2a1d7e" fill-opacity="0.8"/>
<path d="M349.36,426.40 L349.96,423.85 L350.76,423.85 L351.36,426.40Z" fill="url(#pg)" fill-opacity="0.9"/>
<line x1="350.36" y1="426.40" x2="350.36" y2="424.10" stroke="#2a1d85" stroke-width="0.5" stroke-opacity="0.6"/>
<path d="M351.25,426.40 L351.85,417.56 L352.65,417.56 L353.25,426.40Z" fill="url(#pg)" fill-opacity="0.9"/>
<line x1="352.25" y1="426.40" x2="352.25" y2="418.44" stroke="#2a1d85" stroke-width="0.5" stroke-opacity="0.6"/>
<path d="M353.13,426.40 L353.73,421.30 L354.53,421.30 L355.13,426.40Z" fill="url(#pg)" fill-opacity="0.9"/>
<line x1="354.13" y1="426.40" x2="354.13" y2="421.81" stroke="#2a1d85" stroke-width="0.5" stroke-opacity="0.6"/>
<path d="M354.74,426.40 L355.34,419.26 L356.14,419.26 L356.74,426.40Z" fill="url(#pg)" fill-opacity="0.9"/>
<line x1="355.74" y1="426.40" x2="355.74" y2="419.97" stroke="#2a1d85" stroke-width="0.5" stroke-opacity="0.6"/>
<path d="M355.82,426.40 L356.42,417.56 L357.22,417.56 L357.82,426.40Z" fill="url(#pg)" fill-opacity="0.9"/>
<line x1="356.82" y1="426.40" x2="356.82" y2="418.44" stroke="#2a1d85" stroke-width="0.5" stroke-opacity="0.6"/>
<path d="M357.43,426.40 L358.03,411.44 L358.83,411.44 L359.43,426.40Z" fill="url(#pg)" fill-opacity="0.9"/>
<line x1="358.43" y1="426.40" x2="358.43" y2="412.94" stroke="#2a1d85" stroke-width="0.5" stroke-opacity="0.6"/>
<path d="M359.05,426.40 L359.65,423.00 L360.45,423.00 L361.05,426.40Z" fill="url(#pg)" fill-opacity="0.9"/>
<line x1="360.05" y1="426.40" x2="360.05" y2="423.34" stroke="#2a1d85" stroke-width="0.5" stroke-opacity="0.6"/>
<path d="M361.74,426.40 L362.34,424.70 L363.14,424.70 L363.74,426.40Z" fill="url(#pg)" fill-opacity="0.9"/>
<line x1="362.74" y1="426.40" x2="362.74" y2="424.87" stroke="#2a1d85" stroke-width="0.5" stroke-opacity="0.6"/>
<path d="M362.54,426.40 L363.14,424.70 L363.94,424.70 L364.54,426.40Z" fill="url(#pg)" fill-opacity="0.9"/>
<line x1="363.54" y1="426.40" x2="363.54" y2="424.87" stroke="#2a1d85" stroke-width="0.5" stroke-opacity="0.6"/>
<line x1="345.1" y1="426.40" x2="368.0" y2="426.40" stroke="#8a84c0" stroke-width="0.6"/>
<rect x="343.65" y="408.85" width="25.80" height="18.30" rx="0.9" fill="none" stroke="#5aa0dc" stroke-width="1.1"/>
<text x="268.55" y="434.70" font-size="4.8" text-anchor="middle" fill="#2a2a2a">BV17</text>
<line x1="260.10" y1="438.40" x2="278.50" y2="438.40" stroke="#d8d8e0" stroke-width="0.5"/>
<polygon points="256.60,454.10 256.60,454.10 257.10,454.10 257.60,454.10 258.10,454.10 258.60,454.10 259.10,454.10 259.60,454.10 260.10,454.09 260.60,454.07 261.10,454.04 261.60,453.99 262.10,453.91 262.60,453.84 263.10,453.79 263.60,453.68 264.10,453.49 264.60,453.34 265.10,453.03 265.60,452.49 266.10,452.03 266.60,451.82 267.10,451.94 267.60,451.93 268.10,451.82 268.60,452.05 269.10,452.00 269.60,451.82 270.10,451.97 270.60,452.16 271.10,451.91 271.60,451.98 272.10,452.35 272.60,452.85 273.10,452.94 273.60,453.10 274.10,453.37 274.60,453.64 275.10,453.71 275.60,453.78 276.10,453.87 276.60,453.90 277.10,453.94 277.60,453.99 278.10,454.04 278.60,454.07 279.10,454.09 279.60,454.10 280.10,454.10 280.50,454.10" fill="#2a1d7e" fill-opacity="0.8"/>
<path d="M262.44,454.10 L263.04,452.06 L263.84,452.06 L264.44,454.10Z" fill="url(#pg)" fill-opacity="0.9"/>
<line x1="263.44" y1="454.10" x2="263.44" y2="452.26" stroke="#2a1d85" stroke-width="0.5" stroke-opacity="0.6"/>
<path d="M264.05,454.10 L264.65,449.00 L265.45,449.00 L266.05,454.10Z" fill="url(#pg)" fill-opacity="0.9"/>
<line x1="265.05" y1="454.10" x2="265.05" y2="449.51" stroke="#2a1d85" stroke-width="0.5" stroke-opacity="0.6"/>
<path d="M265.67,454.10 L266.27,439.65 L267.07,439.65 L267.67,454.10Z" fill="url(#pg)" fill-opacity="0.9"/>
<line x1="266.67" y1="454.10" x2="266.67" y2="441.09" stroke="#2a1d85" stroke-width="0.5" stroke-opacity="0.6"/>
<path d="M267.01,454.10 L267.61,439.65 L268.41,439.65 L269.01,454.10Z" fill="url(#pg)" fill-opacity="0.9"/>
<line x1="268.01" y1="454.10" x2="268.01" y2="441.09" stroke="#2a1d85" stroke-width="0.5" stroke-opacity="0.6"/>
<path d="M268.63,454.10 L269.23,439.65 L270.03,439.65 L270.63,454.10Z" fill="url(#pg)" fill-opacity="0.9"/>
<line x1="269.63" y1="454.10" x2="269.63" y2="441.09" stroke="#2a1d85" stroke-width="0.5" stroke-opacity="0.6"/>
<path d="M270.24,454.10 L270.84,440.16 L271.64,440.16 L272.24,454.10Z" fill="url(#pg)" fill-opacity="0.9"/>
<line x1="271.24" y1="454.10" x2="271.24" y2="441.55" stroke="#2a1d85" stroke-width="0.5" stroke-opacity="0.6"/>
<path d="M271.85,454.10 L272.45,446.62 L273.25,446.62 L273.85,454.10Z" fill="url(#pg)" fill-opacity="0.9"/>
<line x1="272.85" y1="454.10" x2="272.85" y2="447.37" stroke="#2a1d85" stroke-width="0.5" stroke-opacity="0.6"/>
<path d="M273.74,454.10 L274.34,451.55 L275.14,451.55 L275.74,454.10Z" fill="url(#pg)" fill-opacity="0.9"/>
<line x1="274.74" y1="454.10" x2="274.74" y2="451.80" stroke="#2a1d85" stroke-width="0.5" stroke-opacity="0.6"/>
<path d="M275.08,454.10 L275.68,452.74 L276.48,452.74 L277.08,454.10Z" fill="url(#pg)" fill-opacity="0.9"/>
<line x1="276.08" y1="454.10" x2="276.08" y2="452.88" stroke="#2a1d85" stroke-width="0.5" stroke-opacity="0.6"/>
<line x1="257.1" y1="454.10" x2="280.0" y2="454.10" stroke="#8a84c0" stroke-width="0.6"/>
<rect x="255.65" y="436.55" width="25.80" height="18.30" rx="0.9" fill="none" stroke="#5aa0dc" stroke-width="1.1"/>
<text x="297.75" y="434.70" font-size="4.8" text-anchor="middle" fill="#2a2a2a">BV18</text>
<line x1="289.30" y1="438.40" x2="307.70" y2="438.40" stroke="#d8d8e0" stroke-width="0.5"/>
<polygon points="285.80,454.10 285.80,454.10 286.30,454.10 286.80,454.10 287.30,454.10 287.80,454.09 288.30,454.07 288.80,454.04 289.30,453.99 289.80,453.93 290.30,453.78 290.80,453.55 291.30,453.27 291.80,453.03 292.30,452.87 292.80,452.34 293.30,451.93 293.80,451.82 294.30,452.04 294.80,451.94 295.30,451.93 295.80,452.24 296.30,452.17 296.80,452.09 297.30,452.31 297.80,452.19 298.30,451.86 298.80,451.86 299.30,452.17 299.80,452.55 300.30,452.62 300.80,452.88 301.30,453.25 301.80,453.43 302.30,453.48 302.80,453.61 303.30,453.77 303.80,453.83 304.30,453.86 304.80,453.92 305.30,453.98 305.80,454.03 306.30,454.07 306.80,454.09 307.30,454.10 307.80,454.10 308.30,454.10 308.80,454.10 309.30,454.10 309.70,454.10" fill="#2a1d7e" fill-opacity="0.8"/>
<path d="M290.03,454.10 L290.63,452.40 L291.43,452.40 L292.03,454.10Z" fill="url(#pg)" fill-opacity="0.9"/>
<line x1="291.03" y1="454.10" x2="291.03" y2="452.57" stroke="#2a1d85" stroke-width="0.5" stroke-opacity="0.6"/>
<path d="M291.37,454.10 L291.97,446.62 L292.77,446.62 L293.37,454.10Z" fill="url(#pg)" fill-opacity="0.9"/>
<line x1="292.37" y1="454.10" x2="292.37" y2="447.37" stroke="#2a1d85" stroke-width="0.5" stroke-opacity="0.6"/>
<path d="M292.72,454.10 L293.32,439.65 L294.12,439.65 L294.72,454.10Z" fill="url(#pg)" fill-opacity="0.9"/>
<line x1="293.72" y1="454.10" x2="293.72" y2="441.09" stroke="#2a1d85" stroke-width="0.5" stroke-opacity="0.6"/>
<path d="M294.06,454.10 L294.66,440.16 L295.46,440.16 L296.06,454.10Z" fill="url(#pg)" fill-opacity="0.9"/>
<line x1="295.06" y1="454.10" x2="295.06" y2="441.55" stroke="#2a1d85" stroke-width="0.5" stroke-opacity="0.6"/>
<path d="M295.67,454.10 L296.27,441.35 L297.07,441.35 L297.67,454.10Z" fill="url(#pg)" fill-opacity="0.9"/>
<line x1="296.67" y1="454.10" x2="296.67" y2="442.62" stroke="#2a1d85" stroke-width="0.5" stroke-opacity="0.6"/>
<path d="M297.56,454.10 L298.16,439.65 L298.96,439.65 L299.56,454.10Z" fill="url(#pg)" fill-opacity="0.9"/>
<line x1="298.56" y1="454.10" x2="298.56" y2="441.09" stroke="#2a1d85" stroke-width="0.5" stroke-opacity="0.6"/>
<path d="M298.90,454.10 L299.50,444.24 L300.30,444.24 L300.90,454.10Z" fill="url(#pg)" fill-opacity="0.9"/>
<line x1="299.90" y1="454.10" x2="299.90" y2="445.23" stroke="#2a1d85" stroke-width="0.5" stroke-opacity="0.6"/>
<path d="M300.79,454.10 L301.39,449.85 L302.19,449.85 L302.79,454.10Z" fill="url(#pg)" fill-opacity="0.9"/>
<line x1="301.79" y1="454.10" x2="301.79" y2="450.27" stroke="#2a1d85" stroke-width="0.5" stroke-opacity="0.6"/>
<path d="M302.67,454.10 L303.27,452.40 L304.07,452.40 L304.67,454.10Z" fill="url(#pg)" fill-opacity="0.9"/>
<line x1="303.67" y1="454.10" x2="303.67" y2="452.57" stroke="#2a1d85" stroke-width="0.5" stroke-opacity="0.6"/>
<line x1="286.3" y1="454.10" x2="309.2" y2="454.10" stroke="#8a84c0" stroke-width="0.6"/>
<rect x="284.85" y="436.55" width="25.80" height="18.30" rx="0.9" fill="none" stroke="#5aa0dc" stroke-width="1.1"/>
<text x="326.85" y="434.70" font-size="4.8" text-anchor="middle" fill="#2a2a2a">BV19</text>
<line x1="318.40" y1="438.40" x2="336.80" y2="438.40" stroke="#d8d8e0" stroke-width="0.5"/>
<polygon points="314.90,454.10 314.90,454.10 315.40,454.10 315.90,454.10 316.40,454.09 316.90,454.07 317.40,454.04 317.90,453.99 318.40,453.93 318.90,453.87 319.40,453.74 319.90,453.56 320.40,453.41 320.90,453.35 321.40,453.40 321.90,453.20 322.40,453.09 322.90,453.12 323.40,453.00 323.90,452.92 324.40,453.01 324.90,453.24 325.40,453.30 325.90,453.33 326.40,453.14 326.90,453.08 327.40,453.17 327.90,452.93 328.40,452.79 328.90,452.23 329.40,451.80 329.90,451.70 330.40,451.93 330.90,452.42 331.40,452.99 331.90,453.47 332.40,453.76 332.90,453.79 333.40,453.72 333.90,453.70 334.40,453.73 334.90,453.81 335.40,453.91 335.90,453.99 336.40,454.05 336.90,454.08 337.40,454.09 337.90,454.10 338.40,454.10 338.80,454.10" fill="#2a1d7e" fill-opacity="0.8"/>
<path d="M318.59,454.10 L319.19,452.40 L319.99,452.40 L320.59,454.10Z" fill="url(#pg)" fill-opacity="0.9"/>
<line x1="319.59" y1="454.10" x2="319.59" y2="452.57" stroke="#2a1d85" stroke-width="0.5" stroke-opacity="0.6"/>
<path d="M319.93,454.10 L320.53,449.34 L321.33,449.34 L321.93,454.10Z" fill="url(#pg)" fill-opacity="0.9"/>
<line x1="320.93" y1="454.10" x2="320.93" y2="449.82" stroke="#2a1d85" stroke-width="0.5" stroke-opacity="0.6"/>
<path d="M321.55,454.10 L322.15,447.64 L322.95,447.64 L323.55,454.10Z" fill="url(#pg)" fill-opacity="0.9"/>
<line x1="322.55" y1="454.10" x2="322.55" y2="448.29" stroke="#2a1d85" stroke-width="0.5" stroke-opacity="0.6"/>
<path d="M322.89,454.10 L323.49,446.62 L324.29,446.62 L324.89,454.10Z" fill="url(#pg)" fill-opacity="0.9"/>
<line x1="323.89" y1="454.10" x2="323.89" y2="447.37" stroke="#2a1d85" stroke-width="0.5" stroke-opacity="0.6"/>
<path d="M324.24,454.10 L324.84,449.00 L325.64,449.00 L326.24,454.10Z" fill="url(#pg)" fill-opacity="0.9"/>
<line x1="325.24" y1="454.10" x2="325.24" y2="449.51" stroke="#2a1d85" stroke-width="0.5" stroke-opacity="0.6"/>
<path d="M325.85,454.10 L326.45,447.64 L327.25,447.64 L327.85,454.10Z" fill="url(#pg)" fill-opacity="0.9"/>
<line x1="326.85" y1="454.10" x2="326.85" y2="448.29" stroke="#2a1d85" stroke-width="0.5" stroke-opacity="0.6"/>
<path d="M327.46,454.10 L328.06,445.94 L328.86,445.94 L329.46,454.10Z" fill="url(#pg)" fill-opacity="0.9"/>
<line x1="328.46" y1="454.10" x2="328.46" y2="446.76" stroke="#2a1d85" stroke-width="0.5" stroke-opacity="0.6"/>
<path d="M328.81,454.10 L329.41,438.80 L330.21,438.80 L330.81,454.10Z" fill="url(#pg)" fill-opacity="0.9"/>
<line x1="329.81" y1="454.10" x2="329.81" y2="440.33" stroke="#2a1d85" stroke-width="0.5" stroke-opacity="0.6"/>
<path d="M330.42,454.10 L331.02,451.21 L331.82,451.21 L332.42,454.10Z" fill="url(#pg)" fill-opacity="0.9"/>
<line x1="331.42" y1="454.10" x2="331.42" y2="451.50" stroke="#2a1d85" stroke-width="0.5" stroke-opacity="0.6"/>
<path d="M332.84,454.10 L333.44,451.55 L334.24,451.55 L334.84,454.10Z" fill="url(#pg)" fill-opacity="0.9"/>
<line x1="333.84" y1="454.10" x2="333.84" y2="451.80" stroke="#2a1d85" stroke-width="0.5" stroke-opacity="0.6"/>
<line x1="315.4" y1="454.10" x2="338.29999999999995" y2="454.10" stroke="#8a84c0" stroke-width="0.6"/>
<rect x="313.95" y="436.55" width="25.80" height="18.30" rx="0.9" fill="none" stroke="#5aa0dc" stroke-width="1.1"/>
<text x="356.55" y="434.70" font-size="4.8" text-anchor="middle" fill="#2a2a2a">BV20</text>
<line x1="348.10" y1="438.40" x2="366.50" y2="438.40" stroke="#d8d8e0" stroke-width="0.5"/>
<polygon points="344.60,454.10 344.60,454.10 345.10,454.10 345.60,454.10 346.10,454.10 346.60,454.09 347.10,454.07 347.60,454.04 348.10,453.96 348.60,453.84 349.10,453.69 349.60,453.54 350.10,453.42 350.60,453.15 351.10,452.91 351.60,452.40 352.10,452.01 352.60,451.90 353.10,452.12 353.60,452.57 354.10,452.15 354.60,451.76 355.10,451.70 355.60,451.99 356.10,452.04 356.60,451.72 357.10,451.74 357.60,452.10 358.10,452.64 358.60,452.82 359.10,452.98 359.60,453.25 360.10,453.29 360.60,453.37 361.10,453.53 361.60,453.57 362.10,453.64 362.60,453.76 363.10,453.88 363.60,453.89 364.10,453.93 364.60,453.97 365.10,454.02 365.60,454.06 366.10,454.08 366.60,454.09 367.10,454.10 367.60,454.10 368.10,454.10 368.50,454.10" fill="#2a1d7e" fill-opacity="0.8"/>
<path d="M349.36,454.10 L349.96,449.85 L350.76,449.85 L351.36,454.10Z" fill="url(#pg)" fill-opacity="0.9"/>
<line x1="350.36" y1="454.10" x2="350.36" y2="450.27" stroke="#2a1d85" stroke-width="0.5" stroke-opacity="0.6"/>
<path d="M350.44,454.10 L351.04,446.62 L351.84,446.62 L352.44,454.10Z" fill="url(#pg)" fill-opacity="0.9"/>
<line x1="351.44" y1="454.10" x2="351.44" y2="447.37" stroke="#2a1d85" stroke-width="0.5" stroke-opacity="0.6"/>
<path d="M351.52,454.10 L352.12,440.16 L352.92,440.16 L353.52,454.10Z" fill="url(#pg)" fill-opacity="0.9"/>
<line x1="352.52" y1="454.10" x2="352.52" y2="441.55" stroke="#2a1d85" stroke-width="0.5" stroke-opacity="0.6"/>
<path d="M353.13,454.10 L353.73,445.60 L354.53,445.60 L355.13,454.10Z" fill="url(#pg)" fill-opacity="0.9"/>
<line x1="354.13" y1="454.10" x2="354.13" y2="446.45" stroke="#2a1d85" stroke-width="0.5" stroke-opacity="0.6"/>
<path d="M353.94,454.10 L354.54,438.80 L355.34,438.80 L355.94,454.10Z" fill="url(#pg)" fill-opacity="0.9"/>
<line x1="354.94" y1="454.10" x2="354.94" y2="440.33" stroke="#2a1d85" stroke-width="0.5" stroke-opacity="0.6"/>
<path d="M355.82,454.10 L356.42,438.80 L357.22,438.80 L357.82,454.10Z" fill="url(#pg)" fill-opacity="0.9"/>
<line x1="356.82" y1="454.10" x2="356.82" y2="440.33" stroke="#2a1d85" stroke-width="0.5" stroke-opacity="0.6"/>
<path d="M357.43,454.10 L358.03,445.94 L358.83,445.94 L359.43,454.10Z" fill="url(#pg)" fill-opacity="0.9"/>
<line x1="358.43" y1="454.10" x2="358.43" y2="446.76" stroke="#2a1d85" stroke-width="0.5" stroke-opacity="0.6"/>
<path d="M359.05,454.10 L359.65,449.00 L360.45,449.00 L361.05,454.10Z" fill="url(#pg)" fill-opacity="0.9"/>
<line x1="360.05" y1="454.10" x2="360.05" y2="449.51" stroke="#2a1d85" stroke-width="0.5" stroke-opacity="0.6"/>
<path d="M360.39,454.10 L360.99,450.70 L361.79,450.70 L362.39,454.10Z" fill="url(#pg)" fill-opacity="0.9"/>
<line x1="361.39" y1="454.10" x2="361.39" y2="451.04" stroke="#2a1d85" stroke-width="0.5" stroke-opacity="0.6"/>
<path d="M362.28,454.10 L362.88,452.74 L363.68,452.74 L364.28,454.10Z" fill="url(#pg)" fill-opacity="0.9"/>
<line x1="363.28" y1="454.10" x2="363.28" y2="452.88" stroke="#2a1d85" stroke-width="0.5" stroke-opacity="0.6"/>
<line x1="345.1" y1="454.10" x2="368.0" y2="454.10" stroke="#8a84c0" stroke-width="0.6"/>
<rect x="343.65" y="436.55" width="25.80" height="18.30" rx="0.9" fill="none" stroke="#5aa0dc" stroke-width="1.1"/>
<text x="268.55" y="462.70" font-size="4.8" text-anchor="middle" fill="#2a2a2a">BV21</text>
<line x1="260.10" y1="466.40" x2="278.50" y2="466.40" stroke="#d8d8e0" stroke-width="0.5"/>
<polygon points="256.60,482.10 256.60,482.10 257.10,482.10 257.60,482.10 258.10,482.10 258.60,482.10 259.10,482.09 259.60,482.08 260.10,482.06 260.60,482.02 261.10,481.97 261.60,481.91 262.10,481.85 262.60,481.83 263.10,481.74 263.60,481.63 264.10,481.42 264.60,481.11 265.10,480.85 265.60,480.44 266.10,479.96 266.60,479.74 267.10,479.87 267.60,479.91 268.10,479.79 268.60,480.02 269.10,480.50 269.60,480.66 270.10,480.96 270.60,481.22 271.10,481.26 271.60,481.41 272.10,481.61 272.60,481.62 273.10,481.65 273.60,481.75 274.10,481.86 274.60,481.83 275.10,481.84 275.60,481.89 276.10,481.95 276.60,481.97 277.10,481.97 277.60,482.00 278.10,482.03 278.60,482.06 279.10,482.08 279.60,482.09 280.10,482.10 280.50,482.10" fill="#2a1d7e" fill-opacity="0.8"/>
<path d="M261.63,482.10 L262.23,480.40 L263.03,480.40 L263.63,482.10Z" fill="url(#pg)" fill-opacity="0.9"/>
<line x1="262.63" y1="482.10" x2="262.63" y2="480.57" stroke="#2a1d85" stroke-width="0.5" stroke-opacity="0.6"/>
<path d="M263.25,482.10 L263.85,478.70 L264.65,478.70 L265.25,482.10Z" fill="url(#pg)" fill-opacity="0.9"/>
<line x1="264.25" y1="482.10" x2="264.25" y2="479.04" stroke="#2a1d85" stroke-width="0.5" stroke-opacity="0.6"/>
<path d="M264.59,482.10 L265.19,473.60 L265.99,473.60 L266.59,482.10Z" fill="url(#pg)" fill-opacity="0.9"/>
<line x1="265.59" y1="482.10" x2="265.59" y2="474.45" stroke="#2a1d85" stroke-width="0.5" stroke-opacity="0.6"/>
<path d="M265.67,482.10 L266.27,467.14 L267.07,467.14 L267.67,482.10Z" fill="url(#pg)" fill-opacity="0.9"/>
<line x1="266.67" y1="482.10" x2="266.67" y2="468.64" stroke="#2a1d85" stroke-width="0.5" stroke-opacity="0.6"/>
<path d="M267.01,482.10 L267.61,467.48 L268.41,467.48 L269.01,482.10Z" fill="url(#pg)" fill-opacity="0.9"/>
<line x1="268.01" y1="482.10" x2="268.01" y2="468.94" stroke="#2a1d85" stroke-width="0.5" stroke-opacity="0.6"/>
<path d="M268.09,482.10 L268.69,472.24 L269.49,472.24 L270.09,482.10Z" fill="url(#pg)" fill-opacity="0.9"/>
<line x1="269.09" y1="482.10" x2="269.09" y2="473.23" stroke="#2a1d85" stroke-width="0.5" stroke-opacity="0.6"/>
<path d="M269.70,482.10 L270.30,476.49 L271.10,476.49 L271.70,482.10Z" fill="url(#pg)" fill-opacity="0.9"/>
<line x1="270.70" y1="482.10" x2="270.70" y2="477.05" stroke="#2a1d85" stroke-width="0.5" stroke-opacity="0.6"/>
<path d="M271.58,482.10 L272.19,479.04 L272.98,479.04 L273.58,482.10Z" fill="url(#pg)" fill-opacity="0.9"/>
<line x1="272.58" y1="482.10" x2="272.58" y2="479.35" stroke="#2a1d85" stroke-width="0.5" stroke-opacity="0.6"/>
<path d="M273.74,482.10 L274.34,480.40 L275.14,480.40 L275.74,482.10Z" fill="url(#pg)" fill-opacity="0.9"/>
<line x1="274.74" y1="482.10" x2="274.74" y2="480.57" stroke="#2a1d85" stroke-width="0.5" stroke-opacity="0.6"/>
<path d="M275.62,482.10 L276.22,481.25 L277.02,481.25 L277.62,482.10Z" fill="url(#pg)" fill-opacity="0.9"/>
<line x1="276.62" y1="482.10" x2="276.62" y2="481.33" stroke="#2a1d85" stroke-width="0.5" stroke-opacity="0.6"/>
<line x1="257.1" y1="482.10" x2="280.0" y2="482.10" stroke="#8a84c0" stroke-width="0.6"/>
<rect x="255.65" y="464.55" width="25.80" height="18.30" rx="0.9" fill="none" stroke="#5aa0dc" stroke-width="1.1"/>
<text x="297.75" y="462.70" font-size="4.8" text-anchor="middle" fill="#2a2a2a">BV22</text>
<line x1="289.30" y1="466.40" x2="307.70" y2="466.40" stroke="#d8d8e0" stroke-width="0.5"/>
<polygon points="285.80,482.10 285.80,482.10 286.30,482.10 286.80,482.10 287.30,482.10 287.80,482.10 288.30,482.10 288.80,482.09 289.30,482.08 289.80,482.06 290.30,482.01 290.80,481.95 291.30,481.87 291.80,481.81 292.30,481.78 292.80,481.71 293.30,481.53 293.80,481.39 294.30,481.35 294.80,481.06 295.30,480.87 295.80,480.85 296.30,480.69 296.80,480.37 297.30,480.28 297.80,480.43 298.30,479.98 298.80,479.79 299.30,479.94 299.80,480.38 300.30,480.62 300.80,480.88 301.30,481.25 301.80,481.31 302.30,481.43 302.80,481.62 303.30,481.70 303.80,481.72 304.30,481.79 304.80,481.88 305.30,481.89 305.80,481.92 306.30,481.97 306.80,482.02 307.30,482.06 307.80,482.08 308.30,482.09 308.80,482.10 309.30,482.10 309.70,482.10" fill="#2a1d7e" fill-opacity="0.8"/>
<path d="M291.37,482.10 L291.97,480.06 L292.77,480.06 L293.37,482.10Z" fill="url(#pg)" fill-opacity="0.9"/>
<line x1="292.37" y1="482.10" x2="292.37" y2="480.26" stroke="#2a1d85" stroke-width="0.5" stroke-opacity="0.6"/>
<path d="M293.25,482.10 L293.85,477.34 L294.65,477.34 L295.25,482.10Z" fill="url(#pg)" fill-opacity="0.9"/>
<line x1="294.25" y1="482.10" x2="294.25" y2="477.82" stroke="#2a1d85" stroke-width="0.5" stroke-opacity="0.6"/>
<path d="M294.60,482.10 L295.20,474.11 L296.00,474.11 L296.60,482.10Z" fill="url(#pg)" fill-opacity="0.9"/>
<line x1="295.60" y1="482.10" x2="295.60" y2="474.91" stroke="#2a1d85" stroke-width="0.5" stroke-opacity="0.6"/>
<path d="M296.21,482.10 L296.81,470.54 L297.61,470.54 L298.21,482.10Z" fill="url(#pg)" fill-opacity="0.9"/>
<line x1="297.21" y1="482.10" x2="297.21" y2="471.70" stroke="#2a1d85" stroke-width="0.5" stroke-opacity="0.6"/>
<path d="M297.83,482.10 L298.43,467.48 L299.23,467.48 L299.83,482.10Z" fill="url(#pg)" fill-opacity="0.9"/>
<line x1="298.83" y1="482.10" x2="298.83" y2="468.94" stroke="#2a1d85" stroke-width="0.5" stroke-opacity="0.6"/>
<path d="M298.90,482.10 L299.50,472.24 L300.30,472.24 L300.90,482.10Z" fill="url(#pg)" fill-opacity="0.9"/>
<line x1="299.90" y1="482.10" x2="299.90" y2="473.23" stroke="#2a1d85" stroke-width="0.5" stroke-opacity="0.6"/>
<path d="M300.52,482.10 L301.12,477.00 L301.92,477.00 L302.52,482.10Z" fill="url(#pg)" fill-opacity="0.9"/>
<line x1="301.52" y1="482.10" x2="301.52" y2="477.51" stroke="#2a1d85" stroke-width="0.5" stroke-opacity="0.6"/>
<path d="M302.40,482.10 L303.00,479.55 L303.80,479.55 L304.40,482.10Z" fill="url(#pg)" fill-opacity="0.9"/>
<line x1="303.40" y1="482.10" x2="303.40" y2="479.80" stroke="#2a1d85" stroke-width="0.5" stroke-opacity="0.6"/>
<path d="M304.01,482.10 L304.61,480.74 L305.41,480.74 L306.01,482.10Z" fill="url(#pg)" fill-opacity="0.9"/>
<line x1="305.01" y1="482.10" x2="305.01" y2="480.88" stroke="#2a1d85" stroke-width="0.5" stroke-opacity="0.6"/>
<line x1="286.3" y1="482.10" x2="309.2" y2="482.10" stroke="#8a84c0" stroke-width="0.6"/>
<rect x="284.85" y="464.55" width="25.80" height="18.30" rx="0.9" fill="none" stroke="#5aa0dc" stroke-width="1.1"/>
<text x="326.85" y="462.70" font-size="4.8" text-anchor="middle" fill="#2a2a2a">BV24</text>
<line x1="318.40" y1="466.40" x2="336.80" y2="466.40" stroke="#d8d8e0" stroke-width="0.5"/>
<polygon points="314.90,482.10 314.90,482.10 315.40,482.10 315.90,482.10 316.40,482.10 316.90,482.08 317.40,482.06 317.90,482.00 318.40,481.90 318.90,481.76 319.40,481.60 319.90,481.48 320.40,481.43 320.90,481.48 321.40,481.44 321.90,481.23 322.40,481.11 322.90,481.14 323.40,481.13 323.90,480.87 324.40,480.76 324.90,480.84 325.40,480.60 325.90,480.10 326.40,479.81 326.90,479.86 327.40,480.22 327.90,480.39 328.40,480.22 328.90,480.33 329.40,480.66 329.90,480.99 330.40,480.92 330.90,481.02 331.40,481.26 331.90,481.54 332.40,481.78 332.90,481.85 333.40,481.85 333.90,481.83 334.40,481.86 334.90,481.91 335.40,481.97 335.90,482.03 336.40,482.06 336.90,482.08 337.40,482.09 337.90,482.10 338.40,482.10 338.80,482.10" fill="#2a1d7e" fill-opacity="0.8"/>
<path d="M319.39,482.10 L319.99,477.85 L320.79,477.85 L321.39,482.10Z" fill="url(#pg)" fill-opacity="0.9"/>
<line x1="320.39" y1="482.10" x2="320.39" y2="478.27" stroke="#2a1d85" stroke-width="0.5" stroke-opacity="0.6"/>
<path d="M321.55,482.10 L322.15,475.81 L322.95,475.81 L323.55,482.10Z" fill="url(#pg)" fill-opacity="0.9"/>
<line x1="322.55" y1="482.10" x2="322.55" y2="476.44" stroke="#2a1d85" stroke-width="0.5" stroke-opacity="0.6"/>
<path d="M323.43,482.10 L324.03,473.60 L324.83,473.60 L325.43,482.10Z" fill="url(#pg)" fill-opacity="0.9"/>
<line x1="324.43" y1="482.10" x2="324.43" y2="474.45" stroke="#2a1d85" stroke-width="0.5" stroke-opacity="0.6"/>
<path d="M325.58,482.10 L326.18,467.48 L326.98,467.48 L327.58,482.10Z" fill="url(#pg)" fill-opacity="0.9"/>
<line x1="326.58" y1="482.10" x2="326.58" y2="468.94" stroke="#2a1d85" stroke-width="0.5" stroke-opacity="0.6"/>
<path d="M327.46,482.10 L328.06,470.20 L328.86,470.20 L329.46,482.10Z" fill="url(#pg)" fill-opacity="0.9"/>
<line x1="328.46" y1="482.10" x2="328.46" y2="471.39" stroke="#2a1d85" stroke-width="0.5" stroke-opacity="0.6"/>
<path d="M329.35,482.10 L329.95,474.62 L330.75,474.62 L331.35,482.10Z" fill="url(#pg)" fill-opacity="0.9"/>
<line x1="330.35" y1="482.10" x2="330.35" y2="475.37" stroke="#2a1d85" stroke-width="0.5" stroke-opacity="0.6"/>
<path d="M330.96,482.10 L331.56,480.06 L332.36,480.06 L332.96,482.10Z" fill="url(#pg)" fill-opacity="0.9"/>
<line x1="331.96" y1="482.10" x2="331.96" y2="480.26" stroke="#2a1d85" stroke-width="0.5" stroke-opacity="0.6"/>
<path d="M332.84,482.10 L333.44,480.40 L334.24,480.40 L334.84,482.10Z" fill="url(#pg)" fill-opacity="0.9"/>
<line x1="333.84" y1="482.10" x2="333.84" y2="480.57" stroke="#2a1d85" stroke-width="0.5" stroke-opacity="0.6"/>
<line x1="315.4" y1="482.10" x2="338.29999999999995" y2="482.10" stroke="#8a84c0" stroke-width="0.6"/>
<rect x="313.95" y="464.55" width="25.80" height="18.30" rx="0.9" fill="none" stroke="#5aa0dc" stroke-width="1.1"/>
<text x="356.55" y="462.70" font-size="4.8" text-anchor="middle" textLength="26" lengthAdjust="spacingAndGlyphs" fill="#2a2a2a">JURKAT/BV8</text>
<line x1="348.10" y1="466.40" x2="366.50" y2="466.40" stroke="#d8d8e0" stroke-width="0.5"/>
<path d="M355.01,482.10 L355.61,468.50 L356.41,468.50 L357.01,482.10Z" fill="url(#pg)" fill-opacity="0.9"/>
<line x1="356.01" y1="482.10" x2="356.01" y2="469.86" stroke="#2a1d85" stroke-width="0.5" stroke-opacity="0.6"/>
<line x1="345.1" y1="482.10" x2="368.0" y2="482.10" stroke="#8a84c0" stroke-width="0.6"/>
<rect x="343.65" y="464.55" width="25.80" height="18.30" rx="0.9" fill="none" stroke="#5aa0dc" stroke-width="1.1"/>
<text x="314.10" y="493.90" font-size="5.2" text-anchor="middle" fill="#333">SCS: 175</text>
<text x="455.60" y="314.00" font-size="8.2" text-anchor="middle" textLength="87.9" lengthAdjust="spacingAndGlyphs" fill="#1e1e1e">Day 180 post-transplant</text>
<text x="411.05" y="323.40" font-size="4.8" text-anchor="middle" fill="#2a2a2a">BV1</text>
<line x1="402.50" y1="328.30" x2="421.10" y2="328.30" stroke="#d8d8e0" stroke-width="0.5"/>
<polygon points="399.00,343.80 399.00,343.80 399.50,343.80 400.00,343.80 400.50,343.80 401.00,343.80 401.50,343.80 402.00,343.79 402.50,343.76 403.00,343.70 403.50,343.58 404.00,343.37 404.50,343.09 405.00,342.79 405.50,342.56 406.00,342.50 406.50,342.63 407.00,342.90 407.50,343.20 408.00,342.71 408.50,342.09 409.00,341.51 409.50,341.40 410.00,341.40 410.50,341.63 411.00,341.74 411.50,341.70 412.00,341.96 412.50,342.42 413.00,342.91 413.50,343.11 414.00,342.91 414.50,342.64 415.00,342.50 415.50,342.56 416.00,342.78 416.50,342.92 417.00,342.76 417.50,342.75 418.00,342.89 418.50,343.13 419.00,343.26 419.50,343.42 420.00,343.57 420.50,343.68 421.00,343.75 421.50,343.78 422.00,343.79 422.50,343.80 423.00,343.80 423.10,343.80" fill="#2a1d7e" fill-opacity="0.8"/>
<path d="M404.90,343.80 L405.50,335.47 L406.30,335.47 L406.90,343.80Z" fill="url(#pg2)" fill-opacity="0.9"/>
<line x1="405.90" y1="343.80" x2="405.90" y2="336.30" stroke="#2a1d85" stroke-width="0.5" stroke-opacity="0.6"/>
<path d="M408.69,343.80 L409.30,327.40 L410.09,327.40 L410.69,343.80Z" fill="url(#pg2)" fill-opacity="0.9"/>
<line x1="409.69" y1="343.80" x2="409.69" y2="329.04" stroke="#2a1d85" stroke-width="0.5" stroke-opacity="0.6"/>
<path d="M410.32,343.80 L410.92,330.20 L411.72,330.20 L412.32,343.80Z" fill="url(#pg2)" fill-opacity="0.9"/>
<line x1="411.32" y1="343.80" x2="411.32" y2="331.56" stroke="#2a1d85" stroke-width="0.5" stroke-opacity="0.6"/>
<path d="M412.49,343.80 L413.09,339.38 L413.89,339.38 L414.49,343.80Z" fill="url(#pg2)" fill-opacity="0.9"/>
<line x1="413.49" y1="343.80" x2="413.49" y2="339.82" stroke="#2a1d85" stroke-width="0.5" stroke-opacity="0.6"/>
<path d="M414.12,343.80 L414.72,335.47 L415.51,335.47 L416.12,343.80Z" fill="url(#pg2)" fill-opacity="0.9"/>
<line x1="415.12" y1="343.80" x2="415.12" y2="336.30" stroke="#2a1d85" stroke-width="0.5" stroke-opacity="0.6"/>
<path d="M416.28,343.80 L416.88,337.00 L417.68,337.00 L418.28,343.80Z" fill="url(#pg2)" fill-opacity="0.9"/>
<line x1="417.28" y1="343.80" x2="417.28" y2="337.68" stroke="#2a1d85" stroke-width="0.5" stroke-opacity="0.6"/>
<path d="M417.10,343.80 L417.70,339.38 L418.50,339.38 L419.10,343.80Z" fill="url(#pg2)" fill-opacity="0.9"/>
<line x1="418.10" y1="343.80" x2="418.10" y2="339.82" stroke="#2a1d85" stroke-width="0.5" stroke-opacity="0.6"/>
<line x1="399.5" y1="343.80" x2="422.6" y2="343.80" stroke="#8a84c0" stroke-width="0.6"/>
<rect x="398.05" y="326.45" width="26.00" height="18.10" rx="0.9" fill="none" stroke="#5aa0dc" stroke-width="1.1"/>
<text x="440.35" y="323.40" font-size="4.8" text-anchor="middle" fill="#2a2a2a">BV2</text>
<line x1="431.80" y1="328.30" x2="450.40" y2="328.30" stroke="#d8d8e0" stroke-width="0.5"/>
<polygon points="428.30,343.80 428.30,343.80 428.80,343.80 429.30,343.80 429.80,343.80 430.30,343.80 430.80,343.79 431.30,343.78 431.80,343.74 432.30,343.65 432.80,343.48 433.30,343.23 433.80,342.92 434.30,342.65 434.80,342.51 435.30,342.55 435.80,342.33 436.30,341.77 436.80,341.40 437.30,341.40 437.80,341.68 438.30,342.22 438.80,342.21 439.30,342.36 439.80,342.38 440.30,341.79 440.80,341.40 441.30,341.40 441.80,341.57 442.30,341.65 442.80,341.49 443.30,341.67 443.80,341.62 444.30,341.56 444.80,341.82 445.30,341.69 445.80,341.54 446.30,341.73 446.80,342.17 447.30,342.70 447.80,343.17 448.30,343.30 448.80,343.22 449.30,343.23 449.80,343.32 450.30,343.45 450.80,343.58 451.30,343.68 451.80,343.75 452.30,343.78 452.40,343.80" fill="#2a1d7e" fill-opacity="0.8"/>
<path d="M433.93,343.80 L434.53,335.47 L435.33,335.47 L435.93,343.80Z" fill="url(#pg2)" fill-opacity="0.9"/>
<line x1="434.93" y1="343.80" x2="434.93" y2="336.30" stroke="#2a1d85" stroke-width="0.5" stroke-opacity="0.6"/>
<path d="M436.10,343.80 L436.70,327.99 L437.50,327.99 L438.10,343.80Z" fill="url(#pg2)" fill-opacity="0.9"/>
<line x1="437.10" y1="343.80" x2="437.10" y2="329.57" stroke="#2a1d85" stroke-width="0.5" stroke-opacity="0.6"/>
<path d="M437.72,343.80 L438.32,333.60 L439.12,333.60 L439.72,343.80Z" fill="url(#pg2)" fill-opacity="0.9"/>
<line x1="438.72" y1="343.80" x2="438.72" y2="334.62" stroke="#2a1d85" stroke-width="0.5" stroke-opacity="0.6"/>
<path d="M440.16,343.80 L440.76,327.65 L441.56,327.65 L442.16,343.80Z" fill="url(#pg2)" fill-opacity="0.9"/>
<line x1="441.16" y1="343.80" x2="441.16" y2="329.26" stroke="#2a1d85" stroke-width="0.5" stroke-opacity="0.6"/>
<path d="M441.79,343.80 L442.39,329.01 L443.19,329.01 L443.79,343.80Z" fill="url(#pg2)" fill-opacity="0.9"/>
<line x1="442.79" y1="343.80" x2="442.79" y2="330.49" stroke="#2a1d85" stroke-width="0.5" stroke-opacity="0.6"/>
<path d="M443.14,343.80 L443.74,329.35 L444.54,329.35 L445.14,343.80Z" fill="url(#pg2)" fill-opacity="0.9"/>
<line x1="444.14" y1="343.80" x2="444.14" y2="330.79" stroke="#2a1d85" stroke-width="0.5" stroke-opacity="0.6"/>
<path d="M444.77,343.80 L445.37,329.35 L446.17,329.35 L446.77,343.80Z" fill="url(#pg2)" fill-opacity="0.9"/>
<line x1="445.77" y1="343.80" x2="445.77" y2="330.79" stroke="#2a1d85" stroke-width="0.5" stroke-opacity="0.6"/>
<path d="M448.02,343.80 L448.62,340.06 L449.42,340.06 L450.02,343.80Z" fill="url(#pg2)" fill-opacity="0.9"/>
<line x1="449.02" y1="343.80" x2="449.02" y2="340.43" stroke="#2a1d85" stroke-width="0.5" stroke-opacity="0.6"/>
<line x1="428.8" y1="343.80" x2="451.90000000000003" y2="343.80" stroke="#8a84c0" stroke-width="0.6"/>
<rect x="427.35" y="326.45" width="26.00" height="18.10" rx="0.9" fill="none" stroke="#5aa0dc" stroke-width="1.1"/>
<text x="469.35" y="323.40" font-size="4.8" text-anchor="middle" fill="#2a2a2a">BV3</text>
<line x1="460.80" y1="328.30" x2="479.40" y2="328.30" stroke="#d8d8e0" stroke-width="0.5"/>
<polygon points="457.30,343.80 457.30,343.80 457.80,343.80 458.30,343.80 458.80,343.79 459.30,343.76 459.80,343.71 460.30,343.62 460.80,343.50 461.30,343.35 461.80,343.24 462.30,343.19 462.80,343.23 463.30,343.35 463.80,343.49 464.30,343.46 464.80,343.25 465.30,343.04 465.80,342.90 466.30,342.85 466.80,342.43 467.30,342.12 467.80,342.02 468.30,342.19 468.80,342.50 469.30,342.49 469.80,342.24 470.30,341.72 470.80,341.43 471.30,341.49 471.80,341.86 472.30,342.41 472.80,342.63 473.30,342.94 473.80,342.95 474.30,343.04 474.80,343.22 475.30,343.42 475.80,343.56 476.30,343.42 476.80,343.29 477.30,343.22 477.80,343.23 478.30,343.33 478.80,343.46 479.30,343.59 479.80,343.69 480.30,343.75 480.80,343.78 481.30,343.79 481.40,343.80" fill="#2a1d7e" fill-opacity="0.8"/>
<path d="M461.30,343.80 L461.90,339.89 L462.70,339.89 L463.30,343.80Z" fill="url(#pg2)" fill-opacity="0.9"/>
<line x1="462.30" y1="343.80" x2="462.30" y2="340.28" stroke="#2a1d85" stroke-width="0.5" stroke-opacity="0.6"/>
<path d="M465.10,343.80 L465.70,337.85 L466.50,337.85 L467.10,343.80Z" fill="url(#pg2)" fill-opacity="0.9"/>
<line x1="466.10" y1="343.80" x2="466.10" y2="338.44" stroke="#2a1d85" stroke-width="0.5" stroke-opacity="0.6"/>
<path d="M466.72,343.80 L467.32,332.41 L468.12,332.41 L468.72,343.80Z" fill="url(#pg2)" fill-opacity="0.9"/>
<line x1="467.72" y1="343.80" x2="467.72" y2="333.55" stroke="#2a1d85" stroke-width="0.5" stroke-opacity="0.6"/>
<path d="M468.08,343.80 L468.68,335.30 L469.48,335.30 L470.08,343.80Z" fill="url(#pg2)" fill-opacity="0.9"/>
<line x1="469.08" y1="343.80" x2="469.08" y2="336.15" stroke="#2a1d85" stroke-width="0.5" stroke-opacity="0.6"/>
<path d="M469.98,343.80 L470.58,328.50 L471.38,328.50 L471.98,343.80Z" fill="url(#pg2)" fill-opacity="0.9"/>
<line x1="470.98" y1="343.80" x2="470.98" y2="330.03" stroke="#2a1d85" stroke-width="0.5" stroke-opacity="0.6"/>
<path d="M471.06,343.80 L471.66,334.96 L472.46,334.96 L473.06,343.80Z" fill="url(#pg2)" fill-opacity="0.9"/>
<line x1="472.06" y1="343.80" x2="472.06" y2="335.84" stroke="#2a1d85" stroke-width="0.5" stroke-opacity="0.6"/>
<path d="M472.69,343.80 L473.29,338.36 L474.09,338.36 L474.69,343.80Z" fill="url(#pg2)" fill-opacity="0.9"/>
<line x1="473.69" y1="343.80" x2="473.69" y2="338.90" stroke="#2a1d85" stroke-width="0.5" stroke-opacity="0.6"/>
<path d="M476.48,343.80 L477.08,340.06 L477.88,340.06 L478.48,343.80Z" fill="url(#pg2)" fill-opacity="0.9"/>
<line x1="477.48" y1="343.80" x2="477.48" y2="340.43" stroke="#2a1d85" stroke-width="0.5" stroke-opacity="0.6"/>
<line x1="457.8" y1="343.80" x2="480.90000000000003" y2="343.80" stroke="#8a84c0" stroke-width="0.6"/>
<rect x="456.35" y="326.45" width="26.00" height="18.10" rx="0.9" fill="none" stroke="#5aa0dc" stroke-width="1.1"/>
<text x="498.85" y="323.40" font-size="4.8" text-anchor="middle" fill="#2a2a2a">BV4</text>
<line x1="490.30" y1="328.30" x2="508.90" y2="328.30" stroke="#d8d8e0" stroke-width="0.5"/>
<polygon points="486.80,343.80 486.80,343.80 487.30,343.80 487.80,343.80 488.30,343.79 488.80,343.78 489.30,343.73 489.80,343.64 490.30,343.47 490.80,343.23 491.30,342.95 491.80,342.71 492.30,342.61 492.80,342.68 493.30,342.90 493.80,343.18 494.30,342.88 494.80,342.63 495.30,342.53 495.80,342.25 496.30,341.92 496.80,341.84 497.30,342.05 497.80,341.59 498.30,341.41 498.80,341.58 499.30,342.04 499.80,342.60 500.30,342.93 500.80,342.87 501.30,342.92 501.80,342.84 502.30,342.91 502.80,342.85 503.30,342.89 503.80,343.05 504.30,342.92 504.80,342.84 505.30,342.91 505.80,343.09 506.30,343.32 506.80,343.52 507.30,343.66 507.80,343.74 508.30,343.78 508.80,343.79 509.30,343.80 509.80,343.80 510.30,343.80 510.80,343.80 510.90,343.80" fill="#2a1d7e" fill-opacity="0.8"/>
<path d="M491.35,343.80 L491.95,336.15 L492.75,336.15 L493.35,343.80Z" fill="url(#pg2)" fill-opacity="0.9"/>
<line x1="492.35" y1="343.80" x2="492.35" y2="336.91" stroke="#2a1d85" stroke-width="0.5" stroke-opacity="0.6"/>
<path d="M494.33,343.80 L494.93,335.64 L495.73,335.64 L496.33,343.80Z" fill="url(#pg2)" fill-opacity="0.9"/>
<line x1="495.33" y1="343.80" x2="495.33" y2="336.46" stroke="#2a1d85" stroke-width="0.5" stroke-opacity="0.6"/>
<path d="M495.68,343.80 L496.28,331.22 L497.08,331.22 L497.68,343.80Z" fill="url(#pg2)" fill-opacity="0.9"/>
<line x1="496.68" y1="343.80" x2="496.68" y2="332.48" stroke="#2a1d85" stroke-width="0.5" stroke-opacity="0.6"/>
<path d="M497.31,343.80 L497.91,328.50 L498.71,328.50 L499.31,343.80Z" fill="url(#pg2)" fill-opacity="0.9"/>
<line x1="498.31" y1="343.80" x2="498.31" y2="330.03" stroke="#2a1d85" stroke-width="0.5" stroke-opacity="0.6"/>
<path d="M499.75,343.80 L500.35,337.85 L501.15,337.85 L501.75,343.80Z" fill="url(#pg2)" fill-opacity="0.9"/>
<line x1="500.75" y1="343.80" x2="500.75" y2="338.44" stroke="#2a1d85" stroke-width="0.5" stroke-opacity="0.6"/>
<path d="M500.83,343.80 L501.43,337.68 L502.23,337.68 L502.83,343.80Z" fill="url(#pg2)" fill-opacity="0.9"/>
<line x1="501.83" y1="343.80" x2="501.83" y2="338.29" stroke="#2a1d85" stroke-width="0.5" stroke-opacity="0.6"/>
<path d="M501.92,343.80 L502.52,337.68 L503.31,337.68 L503.92,343.80Z" fill="url(#pg2)" fill-opacity="0.9"/>
<line x1="502.92" y1="343.80" x2="502.92" y2="338.29" stroke="#2a1d85" stroke-width="0.5" stroke-opacity="0.6"/>
<path d="M503.81,343.80 L504.41,337.68 L505.21,337.68 L505.81,343.80Z" fill="url(#pg2)" fill-opacity="0.9"/>
<line x1="504.81" y1="343.80" x2="504.81" y2="338.29" stroke="#2a1d85" stroke-width="0.5" stroke-opacity="0.6"/>
<line x1="487.3" y1="343.80" x2="510.4" y2="343.80" stroke="#8a84c0" stroke-width="0.6"/>
<rect x="485.85" y="326.45" width="26.00" height="18.10" rx="0.9" fill="none" stroke="#5aa0dc" stroke-width="1.1"/>
<text x="411.05" y="351.70" font-size="4.8" text-anchor="middle" fill="#2a2a2a">BV5</text>
<line x1="402.50" y1="356.60" x2="421.10" y2="356.60" stroke="#d8d8e0" stroke-width="0.5"/>
<polygon points="399.00,372.10 399.00,372.10 399.50,372.10 400.00,372.10 400.50,372.10 401.00,372.10 401.50,372.10 402.00,372.09 402.50,372.08 403.00,372.04 403.50,371.95 404.00,371.78 404.50,371.52 405.00,371.20 405.50,370.90 406.00,370.58 406.50,370.03 407.00,369.70 407.50,369.70 408.00,370.02 408.50,370.57 409.00,370.57 409.50,370.66 410.00,370.12 410.50,369.77 411.00,369.75 411.50,370.06 412.00,370.52 412.50,370.69 413.00,370.72 413.50,370.61 414.00,370.73 414.50,370.82 415.00,370.78 415.50,370.94 416.00,371.22 416.50,371.27 417.00,371.27 417.50,371.33 418.00,371.31 418.50,371.41 419.00,371.58 419.50,371.76 420.00,371.91 420.50,372.01 421.00,372.06 421.50,372.09 422.00,372.10 422.50,372.10 423.00,372.10 423.10,372.10" fill="#2a1d7e" fill-opacity="0.8"/>
<path d="M405.17,372.10 L405.77,363.26 L406.57,363.26 L407.17,372.10Z" fill="url(#pg2)" fill-opacity="0.9"/>
<line x1="406.17" y1="372.10" x2="406.17" y2="364.14" stroke="#2a1d85" stroke-width="0.5" stroke-opacity="0.6"/>
<path d="M406.26,372.10 L406.86,356.29 L407.66,356.29 L408.26,372.10Z" fill="url(#pg2)" fill-opacity="0.9"/>
<line x1="407.26" y1="372.10" x2="407.26" y2="357.87" stroke="#2a1d85" stroke-width="0.5" stroke-opacity="0.6"/>
<path d="M407.88,372.10 L408.48,362.24 L409.28,362.24 L409.88,372.10Z" fill="url(#pg2)" fill-opacity="0.9"/>
<line x1="408.88" y1="372.10" x2="408.88" y2="363.23" stroke="#2a1d85" stroke-width="0.5" stroke-opacity="0.6"/>
<path d="M409.78,372.10 L410.38,356.80 L411.18,356.80 L411.78,372.10Z" fill="url(#pg2)" fill-opacity="0.9"/>
<line x1="410.78" y1="372.10" x2="410.78" y2="358.33" stroke="#2a1d85" stroke-width="0.5" stroke-opacity="0.6"/>
<path d="M410.86,372.10 L411.46,361.90 L412.26,361.90 L412.86,372.10Z" fill="url(#pg2)" fill-opacity="0.9"/>
<line x1="411.86" y1="372.10" x2="411.86" y2="362.92" stroke="#2a1d85" stroke-width="0.5" stroke-opacity="0.6"/>
<path d="M412.49,372.10 L413.09,362.58 L413.89,362.58 L414.49,372.10Z" fill="url(#pg2)" fill-opacity="0.9"/>
<line x1="413.49" y1="372.10" x2="413.49" y2="363.53" stroke="#2a1d85" stroke-width="0.5" stroke-opacity="0.6"/>
<path d="M413.84,372.10 L414.44,363.60 L415.24,363.60 L415.84,372.10Z" fill="url(#pg2)" fill-opacity="0.9"/>
<line x1="414.84" y1="372.10" x2="414.84" y2="364.45" stroke="#2a1d85" stroke-width="0.5" stroke-opacity="0.6"/>
<path d="M415.74,372.10 L416.34,366.66 L417.14,366.66 L417.74,372.10Z" fill="url(#pg2)" fill-opacity="0.9"/>
<line x1="416.74" y1="372.10" x2="416.74" y2="367.20" stroke="#2a1d85" stroke-width="0.5" stroke-opacity="0.6"/>
<path d="M416.82,372.10 L417.43,367.00 L418.22,367.00 L418.82,372.10Z" fill="url(#pg2)" fill-opacity="0.9"/>
<line x1="417.82" y1="372.10" x2="417.82" y2="367.51" stroke="#2a1d85" stroke-width="0.5" stroke-opacity="0.6"/>
<line x1="399.5" y1="372.10" x2="422.6" y2="372.10" stroke="#8a84c0" stroke-width="0.6"/>
<rect x="398.05" y="354.75" width="26.00" height="18.10" rx="0.9" fill="none" stroke="#5aa0dc" stroke-width="1.1"/>
<text x="440.35" y="351.70" font-size="4.8" text-anchor="middle" fill="#2a2a2a">BV6A</text>
<line x1="431.80" y1="356.60" x2="450.40" y2="356.60" stroke="#d8d8e0" stroke-width="0.5"/>
<polygon points="428.30,372.10 428.30,372.10 428.80,372.10 429.30,372.10 429.80,372.10 430.30,372.10 430.80,372.09 431.30,372.07 431.80,372.01 432.30,371.91 432.80,371.73 433.30,371.50 433.80,371.25 434.30,371.08 434.80,371.04 435.30,370.83 435.80,370.36 436.30,370.07 436.80,370.07 437.30,369.85 437.80,369.70 438.30,369.70 438.80,369.97 439.30,369.70 439.80,369.70 440.30,369.99 440.80,369.70 441.30,369.70 441.80,369.87 442.30,369.76 442.80,369.70 443.30,369.77 443.80,369.85 444.30,369.78 444.80,370.05 445.30,370.55 445.80,371.10 446.30,371.16 446.80,371.30 447.30,371.51 447.80,371.73 448.30,371.90 448.80,372.01 449.30,372.06 449.80,372.09 450.30,372.10 450.80,372.10 451.30,372.10 451.80,372.10 452.30,372.10 452.40,372.10" fill="#2a1d7e" fill-opacity="0.8"/>
<path d="M433.66,372.10 L434.26,365.30 L435.06,365.30 L435.66,372.10Z" fill="url(#pg2)" fill-opacity="0.9"/>
<line x1="434.66" y1="372.10" x2="434.66" y2="365.98" stroke="#2a1d85" stroke-width="0.5" stroke-opacity="0.6"/>
<path d="M435.56,372.10 L436.16,358.84 L436.96,358.84 L437.56,372.10Z" fill="url(#pg2)" fill-opacity="0.9"/>
<line x1="436.56" y1="372.10" x2="436.56" y2="360.17" stroke="#2a1d85" stroke-width="0.5" stroke-opacity="0.6"/>
<path d="M436.91,372.10 L437.51,355.95 L438.31,355.95 L438.91,372.10Z" fill="url(#pg2)" fill-opacity="0.9"/>
<line x1="437.91" y1="372.10" x2="437.91" y2="357.56" stroke="#2a1d85" stroke-width="0.5" stroke-opacity="0.6"/>
<path d="M438.54,372.10 L439.14,355.95 L439.94,355.95 L440.54,372.10Z" fill="url(#pg2)" fill-opacity="0.9"/>
<line x1="439.54" y1="372.10" x2="439.54" y2="357.56" stroke="#2a1d85" stroke-width="0.5" stroke-opacity="0.6"/>
<path d="M440.16,372.10 L440.76,355.95 L441.56,355.95 L442.16,372.10Z" fill="url(#pg2)" fill-opacity="0.9"/>
<line x1="441.16" y1="372.10" x2="441.16" y2="357.56" stroke="#2a1d85" stroke-width="0.5" stroke-opacity="0.6"/>
<path d="M441.79,372.10 L442.39,355.95 L443.19,355.95 L443.79,372.10Z" fill="url(#pg2)" fill-opacity="0.9"/>
<line x1="442.79" y1="372.10" x2="442.79" y2="357.56" stroke="#2a1d85" stroke-width="0.5" stroke-opacity="0.6"/>
<path d="M443.14,372.10 L443.74,357.14 L444.54,357.14 L445.14,372.10Z" fill="url(#pg2)" fill-opacity="0.9"/>
<line x1="444.14" y1="372.10" x2="444.14" y2="358.64" stroke="#2a1d85" stroke-width="0.5" stroke-opacity="0.6"/>
<path d="M445.04,372.10 L445.64,365.98 L446.44,365.98 L447.04,372.10Z" fill="url(#pg2)" fill-opacity="0.9"/>
<line x1="446.04" y1="372.10" x2="446.04" y2="366.59" stroke="#2a1d85" stroke-width="0.5" stroke-opacity="0.6"/>
<line x1="428.8" y1="372.10" x2="451.90000000000003" y2="372.10" stroke="#8a84c0" stroke-width="0.6"/>
<rect x="427.35" y="354.75" width="26.00" height="18.10" rx="0.9" fill="none" stroke="#5aa0dc" stroke-width="1.1"/>
<text x="469.35" y="351.70" font-size="4.8" text-anchor="middle" fill="#2a2a2a">BV6B</text>
<line x1="460.80" y1="356.60" x2="479.40" y2="356.60" stroke="#d8d8e0" stroke-width="0.5"/>
<polygon points="457.30,372.10 457.30,372.10 457.80,372.10 458.30,372.10 458.80,372.08 459.30,372.05 459.80,371.96 460.30,371.77 460.80,371.42 461.30,370.92 461.80,370.34 462.30,369.85 462.80,369.70 463.30,369.78 463.80,369.75 464.30,369.70 464.80,369.89 465.30,370.40 465.80,370.47 466.30,369.97 466.80,369.72 467.30,369.82 467.80,369.86 468.30,369.71 468.80,369.91 469.30,369.99 469.80,369.94 470.30,370.21 470.80,370.17 471.30,369.88 471.80,369.90 472.30,370.23 472.80,370.74 473.30,371.25 473.80,371.55 474.30,371.72 474.80,371.87 475.30,371.98 475.80,372.05 476.30,372.08 476.80,372.09 477.30,372.10 477.80,372.10 478.30,372.10 478.80,372.10 479.30,372.10 479.80,372.10 480.30,372.10 480.80,372.10 481.30,372.10 481.40,372.10" fill="#2a1d7e" fill-opacity="0.8"/>
<path d="M461.85,372.10 L462.45,356.29 L463.25,356.29 L463.85,372.10Z" fill="url(#pg2)" fill-opacity="0.9"/>
<line x1="462.85" y1="372.10" x2="462.85" y2="357.87" stroke="#2a1d85" stroke-width="0.5" stroke-opacity="0.6"/>
<path d="M463.20,372.10 L463.80,356.29 L464.60,356.29 L465.20,372.10Z" fill="url(#pg2)" fill-opacity="0.9"/>
<line x1="464.20" y1="372.10" x2="464.20" y2="357.87" stroke="#2a1d85" stroke-width="0.5" stroke-opacity="0.6"/>
<path d="M464.83,372.10 L465.43,364.45 L466.23,364.45 L466.83,372.10Z" fill="url(#pg2)" fill-opacity="0.9"/>
<line x1="465.83" y1="372.10" x2="465.83" y2="365.21" stroke="#2a1d85" stroke-width="0.5" stroke-opacity="0.6"/>
<path d="M465.91,372.10 L466.51,356.80 L467.31,356.80 L467.91,372.10Z" fill="url(#pg2)" fill-opacity="0.9"/>
<line x1="466.91" y1="372.10" x2="466.91" y2="358.33" stroke="#2a1d85" stroke-width="0.5" stroke-opacity="0.6"/>
<path d="M467.27,372.10 L467.87,356.80 L468.67,356.80 L469.27,372.10Z" fill="url(#pg2)" fill-opacity="0.9"/>
<line x1="468.27" y1="372.10" x2="468.27" y2="358.33" stroke="#2a1d85" stroke-width="0.5" stroke-opacity="0.6"/>
<path d="M468.62,372.10 L469.22,358.16 L470.02,358.16 L470.62,372.10Z" fill="url(#pg2)" fill-opacity="0.9"/>
<line x1="469.62" y1="372.10" x2="469.62" y2="359.55" stroke="#2a1d85" stroke-width="0.5" stroke-opacity="0.6"/>
<path d="M470.52,372.10 L471.12,357.65 L471.92,357.65 L472.52,372.10Z" fill="url(#pg2)" fill-opacity="0.9"/>
<line x1="471.52" y1="372.10" x2="471.52" y2="359.09" stroke="#2a1d85" stroke-width="0.5" stroke-opacity="0.6"/>
<path d="M471.87,372.10 L472.47,367.51 L473.27,367.51 L473.87,372.10Z" fill="url(#pg2)" fill-opacity="0.9"/>
<line x1="472.87" y1="372.10" x2="472.87" y2="367.97" stroke="#2a1d85" stroke-width="0.5" stroke-opacity="0.6"/>
<line x1="457.8" y1="372.10" x2="480.90000000000003" y2="372.10" stroke="#8a84c0" stroke-width="0.6"/>
<rect x="456.35" y="354.75" width="26.00" height="18.10" rx="0.9" fill="none" stroke="#5aa0dc" stroke-width="1.1"/>
<text x="498.85" y="351.70" font-size="4.8" text-anchor="middle" fill="#2a2a2a">BV7</text>
<line x1="490.30" y1="356.60" x2="508.90" y2="356.60" stroke="#d8d8e0" stroke-width="0.5"/>
<polygon points="486.80,372.10 486.80,372.10 487.30,372.10 487.80,372.10 488.30,372.10 488.80,372.10 489.30,372.09 489.80,372.06 490.30,372.00 490.80,371.89 491.30,371.73 491.80,371.55 492.30,371.38 492.80,371.31 493.30,371.34 493.80,371.12 494.30,370.86 494.80,370.77 495.30,370.56 495.80,370.40 496.30,370.49 496.80,370.41 497.30,370.16 497.80,370.19 498.30,370.41 498.80,369.91 499.30,369.70 499.80,369.78 500.30,370.21 500.80,370.35 501.30,370.36 501.80,370.63 502.30,370.72 502.80,370.68 503.30,370.84 503.80,371.13 504.30,371.14 504.80,371.29 505.30,371.52 505.80,371.74 506.30,371.91 506.80,372.01 507.30,372.07 507.80,372.09 508.30,372.10 508.80,372.10 509.30,372.10 509.80,372.10 510.30,372.10 510.80,372.10 510.90,372.10" fill="#2a1d7e" fill-opacity="0.8"/>
<path d="M491.89,372.10 L492.49,367.00 L493.29,367.00 L493.89,372.10Z" fill="url(#pg2)" fill-opacity="0.9"/>
<line x1="492.89" y1="372.10" x2="492.89" y2="367.51" stroke="#2a1d85" stroke-width="0.5" stroke-opacity="0.6"/>
<path d="M493.79,372.10 L494.39,363.60 L495.19,363.60 L495.79,372.10Z" fill="url(#pg2)" fill-opacity="0.9"/>
<line x1="494.79" y1="372.10" x2="494.79" y2="364.45" stroke="#2a1d85" stroke-width="0.5" stroke-opacity="0.6"/>
<path d="M494.87,372.10 L495.47,361.22 L496.27,361.22 L496.87,372.10Z" fill="url(#pg2)" fill-opacity="0.9"/>
<line x1="495.87" y1="372.10" x2="495.87" y2="362.31" stroke="#2a1d85" stroke-width="0.5" stroke-opacity="0.6"/>
<path d="M496.50,372.10 L497.10,359.52 L497.89,359.52 L498.50,372.10Z" fill="url(#pg2)" fill-opacity="0.9"/>
<line x1="497.50" y1="372.10" x2="497.50" y2="360.78" stroke="#2a1d85" stroke-width="0.5" stroke-opacity="0.6"/>
<path d="M498.39,372.10 L498.99,356.46 L499.79,356.46 L500.39,372.10Z" fill="url(#pg2)" fill-opacity="0.9"/>
<line x1="499.39" y1="372.10" x2="499.39" y2="358.02" stroke="#2a1d85" stroke-width="0.5" stroke-opacity="0.6"/>
<path d="M500.02,372.10 L500.62,360.71 L501.42,360.71 L502.02,372.10Z" fill="url(#pg2)" fill-opacity="0.9"/>
<line x1="501.02" y1="372.10" x2="501.02" y2="361.85" stroke="#2a1d85" stroke-width="0.5" stroke-opacity="0.6"/>
<path d="M501.64,372.10 L502.24,362.92 L503.04,362.92 L503.64,372.10Z" fill="url(#pg2)" fill-opacity="0.9"/>
<line x1="502.64" y1="372.10" x2="502.64" y2="363.84" stroke="#2a1d85" stroke-width="0.5" stroke-opacity="0.6"/>
<path d="M503.00,372.10 L503.60,365.81 L504.40,365.81 L505.00,372.10Z" fill="url(#pg2)" fill-opacity="0.9"/>
<line x1="504.00" y1="372.10" x2="504.00" y2="366.44" stroke="#2a1d85" stroke-width="0.5" stroke-opacity="0.6"/>
<line x1="487.3" y1="372.10" x2="510.4" y2="372.10" stroke="#8a84c0" stroke-width="0.6"/>
<rect x="485.85" y="354.75" width="26.00" height="18.10" rx="0.9" fill="none" stroke="#5aa0dc" stroke-width="1.1"/>
<text x="411.05" y="379.20" font-size="4.8" text-anchor="middle" fill="#2a2a2a">BV8</text>
<line x1="402.50" y1="384.10" x2="421.10" y2="384.10" stroke="#d8d8e0" stroke-width="0.5"/>
<polygon points="399.00,399.60 399.00,399.60 399.50,399.60 400.00,399.60 400.50,399.60 401.00,399.60 401.50,399.59 402.00,399.58 402.50,399.55 403.00,399.48 403.50,399.34 404.00,399.14 404.50,398.90 405.00,398.68 405.50,398.57 406.00,398.61 406.50,398.78 407.00,398.82 407.50,398.72 408.00,398.35 408.50,398.08 409.00,398.01 409.50,398.18 410.00,398.03 410.50,397.90 411.00,398.02 411.50,397.64 412.00,397.20 412.50,397.20 413.00,397.34 413.50,397.86 414.00,398.45 414.50,398.76 415.00,398.62 415.50,398.40 416.00,398.33 416.50,398.45 417.00,398.71 417.50,398.89 418.00,398.99 418.50,399.15 419.00,399.31 419.50,399.44 420.00,399.53 420.50,399.57 421.00,399.59 421.50,399.60 422.00,399.60 422.50,399.60 423.00,399.60 423.10,399.60" fill="#2a1d7e" fill-opacity="0.8"/>
<path d="M404.63,399.60 L405.23,392.97 L406.03,392.97 L406.63,399.60Z" fill="url(#pg2)" fill-opacity="0.9"/>
<line x1="405.63" y1="399.60" x2="405.63" y2="393.63" stroke="#2a1d85" stroke-width="0.5" stroke-opacity="0.6"/>
<path d="M406.26,399.60 L406.86,394.50 L407.66,394.50 L408.26,399.60Z" fill="url(#pg2)" fill-opacity="0.9"/>
<line x1="407.26" y1="399.60" x2="407.26" y2="395.01" stroke="#2a1d85" stroke-width="0.5" stroke-opacity="0.6"/>
<path d="M407.88,399.60 L408.48,389.40 L409.28,389.40 L409.88,399.60Z" fill="url(#pg2)" fill-opacity="0.9"/>
<line x1="408.88" y1="399.60" x2="408.88" y2="390.42" stroke="#2a1d85" stroke-width="0.5" stroke-opacity="0.6"/>
<path d="M409.51,399.60 L410.11,388.72 L410.91,388.72 L411.51,399.60Z" fill="url(#pg2)" fill-opacity="0.9"/>
<line x1="410.51" y1="399.60" x2="410.51" y2="389.81" stroke="#2a1d85" stroke-width="0.5" stroke-opacity="0.6"/>
<path d="M411.40,399.60 L412.00,383.45 L412.80,383.45 L413.40,399.60Z" fill="url(#pg2)" fill-opacity="0.9"/>
<line x1="412.40" y1="399.60" x2="412.40" y2="385.06" stroke="#2a1d85" stroke-width="0.5" stroke-opacity="0.6"/>
<path d="M413.03,399.60 L413.63,393.82 L414.43,393.82 L415.03,399.60Z" fill="url(#pg2)" fill-opacity="0.9"/>
<line x1="414.03" y1="399.60" x2="414.03" y2="394.40" stroke="#2a1d85" stroke-width="0.5" stroke-opacity="0.6"/>
<path d="M414.93,399.60 L415.53,391.44 L416.33,391.44 L416.93,399.60Z" fill="url(#pg2)" fill-opacity="0.9"/>
<line x1="415.93" y1="399.60" x2="415.93" y2="392.26" stroke="#2a1d85" stroke-width="0.5" stroke-opacity="0.6"/>
<path d="M416.28,399.60 L416.88,395.01 L417.68,395.01 L418.28,399.60Z" fill="url(#pg2)" fill-opacity="0.9"/>
<line x1="417.28" y1="399.60" x2="417.28" y2="395.47" stroke="#2a1d85" stroke-width="0.5" stroke-opacity="0.6"/>
<line x1="399.5" y1="399.60" x2="422.6" y2="399.60" stroke="#8a84c0" stroke-width="0.6"/>
<rect x="398.05" y="382.25" width="26.00" height="18.10" rx="0.9" fill="none" stroke="#5aa0dc" stroke-width="1.1"/>
<text x="440.35" y="379.20" font-size="4.8" text-anchor="middle" fill="#2a2a2a">BV9</text>
<line x1="431.80" y1="384.10" x2="450.40" y2="384.10" stroke="#d8d8e0" stroke-width="0.5"/>
<polygon points="428.30,399.60 428.30,399.60 428.80,399.60 429.30,399.60 429.80,399.60 430.30,399.60 430.80,399.60 431.30,399.58 431.80,399.55 432.30,399.46 432.80,399.28 433.30,398.98 433.80,398.57 434.30,398.13 434.80,397.81 435.30,397.72 435.80,397.91 436.30,398.04 436.80,397.91 437.30,397.40 437.80,397.20 438.30,397.24 438.80,397.66 439.30,398.09 439.80,398.21 440.30,398.40 440.80,398.15 441.30,398.09 441.80,398.26 442.30,398.27 442.80,398.17 443.30,398.28 443.80,398.32 444.30,398.17 444.80,398.23 445.30,398.47 445.80,398.41 446.30,398.20 446.80,398.19 447.30,398.38 447.80,398.69 448.30,399.02 448.80,399.29 449.30,399.45 449.80,399.54 450.30,399.58 450.80,399.59 451.30,399.60 451.80,399.60 452.30,399.60 452.40,399.60" fill="#2a1d7e" fill-opacity="0.8"/>
<path d="M434.20,399.60 L434.80,387.53 L435.60,387.53 L436.20,399.60Z" fill="url(#pg2)" fill-opacity="0.9"/>
<line x1="435.20" y1="399.60" x2="435.20" y2="388.74" stroke="#2a1d85" stroke-width="0.5" stroke-opacity="0.6"/>
<path d="M435.56,399.60 L436.16,389.40 L436.96,389.40 L437.56,399.60Z" fill="url(#pg2)" fill-opacity="0.9"/>
<line x1="436.56" y1="399.60" x2="436.56" y2="390.42" stroke="#2a1d85" stroke-width="0.5" stroke-opacity="0.6"/>
<path d="M436.91,399.60 L437.51,383.79 L438.31,383.79 L438.91,399.60Z" fill="url(#pg2)" fill-opacity="0.9"/>
<line x1="437.91" y1="399.60" x2="437.91" y2="385.37" stroke="#2a1d85" stroke-width="0.5" stroke-opacity="0.6"/>
<path d="M438.27,399.60 L438.87,389.91 L439.67,389.91 L440.27,399.60Z" fill="url(#pg2)" fill-opacity="0.9"/>
<line x1="439.27" y1="399.60" x2="439.27" y2="390.88" stroke="#2a1d85" stroke-width="0.5" stroke-opacity="0.6"/>
<path d="M440.16,399.60 L440.76,389.91 L441.56,389.91 L442.16,399.60Z" fill="url(#pg2)" fill-opacity="0.9"/>
<line x1="441.16" y1="399.60" x2="441.16" y2="390.88" stroke="#2a1d85" stroke-width="0.5" stroke-opacity="0.6"/>
<path d="M441.79,399.60 L442.39,390.42 L443.19,390.42 L443.79,399.60Z" fill="url(#pg2)" fill-opacity="0.9"/>
<line x1="442.79" y1="399.60" x2="442.79" y2="391.34" stroke="#2a1d85" stroke-width="0.5" stroke-opacity="0.6"/>
<path d="M443.42,399.60 L444.02,390.42 L444.81,390.42 L445.42,399.60Z" fill="url(#pg2)" fill-opacity="0.9"/>
<line x1="444.42" y1="399.60" x2="444.42" y2="391.34" stroke="#2a1d85" stroke-width="0.5" stroke-opacity="0.6"/>
<path d="M445.58,399.60 L446.18,390.42 L446.98,390.42 L447.58,399.60Z" fill="url(#pg2)" fill-opacity="0.9"/>
<line x1="446.58" y1="399.60" x2="446.58" y2="391.34" stroke="#2a1d85" stroke-width="0.5" stroke-opacity="0.6"/>
<line x1="428.8" y1="399.60" x2="451.90000000000003" y2="399.60" stroke="#8a84c0" stroke-width="0.6"/>
<rect x="427.35" y="382.25" width="26.00" height="18.10" rx="0.9" fill="none" stroke="#5aa0dc" stroke-width="1.1"/>
<text x="469.35" y="379.20" font-size="4.8" text-anchor="middle" fill="#2a2a2a">BV11</text>
<line x1="460.80" y1="384.10" x2="479.40" y2="384.10" stroke="#d8d8e0" stroke-width="0.5"/>
<polygon points="457.30,399.60 457.30,399.60 457.80,399.60 458.30,399.60 458.80,399.60 459.30,399.60 459.80,399.60 460.30,399.60 460.80,399.60 461.30,399.59 461.80,399.57 462.30,399.53 462.80,399.44 463.30,399.28 463.80,399.05 464.30,398.79 464.80,398.59 465.30,398.51 465.80,398.54 466.30,398.35 466.80,397.80 467.30,397.39 467.80,397.27 468.30,397.44 468.80,397.26 469.30,397.43 469.80,397.87 470.30,398.42 470.80,398.84 471.30,399.07 471.80,399.28 472.30,399.41 472.80,399.33 473.30,399.27 473.80,399.26 474.30,399.29 474.80,399.36 475.30,399.45 475.80,399.51 476.30,399.56 476.80,399.58 477.30,399.59 477.80,399.60 478.30,399.60 478.80,399.60 479.30,399.60 479.80,399.60 480.30,399.60 480.80,399.60 481.30,399.60 481.40,399.60" fill="#2a1d7e" fill-opacity="0.8"/>
<path d="M464.29,399.60 L464.89,392.63 L465.69,392.63 L466.29,399.60Z" fill="url(#pg2)" fill-opacity="0.9"/>
<line x1="465.29" y1="399.60" x2="465.29" y2="393.33" stroke="#2a1d85" stroke-width="0.5" stroke-opacity="0.6"/>
<path d="M465.37,399.60 L465.97,392.12 L466.77,392.12 L467.37,399.60Z" fill="url(#pg2)" fill-opacity="0.9"/>
<line x1="466.37" y1="399.60" x2="466.37" y2="392.87" stroke="#2a1d85" stroke-width="0.5" stroke-opacity="0.6"/>
<path d="M466.72,399.60 L467.32,384.64 L468.12,384.64 L468.72,399.60Z" fill="url(#pg2)" fill-opacity="0.9"/>
<line x1="467.72" y1="399.60" x2="467.72" y2="386.14" stroke="#2a1d85" stroke-width="0.5" stroke-opacity="0.6"/>
<path d="M467.81,399.60 L468.41,384.64 L469.21,384.64 L469.81,399.60Z" fill="url(#pg2)" fill-opacity="0.9"/>
<line x1="468.81" y1="399.60" x2="468.81" y2="386.14" stroke="#2a1d85" stroke-width="0.5" stroke-opacity="0.6"/>
<path d="M468.89,399.60 L469.49,393.31 L470.29,393.31 L470.89,399.60Z" fill="url(#pg2)" fill-opacity="0.9"/>
<line x1="469.89" y1="399.60" x2="469.89" y2="393.94" stroke="#2a1d85" stroke-width="0.5" stroke-opacity="0.6"/>
<path d="M472.69,399.60 L473.29,397.39 L474.09,397.39 L474.69,399.60Z" fill="url(#pg2)" fill-opacity="0.9"/>
<line x1="473.69" y1="399.60" x2="473.69" y2="397.61" stroke="#2a1d85" stroke-width="0.5" stroke-opacity="0.6"/>
<line x1="457.8" y1="399.60" x2="480.90000000000003" y2="399.60" stroke="#8a84c0" stroke-width="0.6"/>
<rect x="456.35" y="382.25" width="26.00" height="18.10" rx="0.9" fill="none" stroke="#5aa0dc" stroke-width="1.1"/>
<text x="498.85" y="379.20" font-size="4.8" text-anchor="middle" fill="#2a2a2a">BV12</text>
<line x1="490.30" y1="384.10" x2="508.90" y2="384.10" stroke="#d8d8e0" stroke-width="0.5"/>
<polygon points="486.80,399.60 486.80,399.60 487.30,399.59 487.80,399.58 488.30,399.54 488.80,399.49 489.30,399.41 489.80,399.33 490.30,399.27 490.80,399.26 491.30,399.23 491.80,399.20 492.30,399.23 492.80,399.26 493.30,398.91 493.80,398.41 494.30,397.84 494.80,397.36 495.30,397.20 495.80,397.32 496.30,397.78 496.80,398.35 497.30,398.83 497.80,398.78 498.30,398.85 498.80,398.94 499.30,398.98 499.80,399.10 500.30,399.10 500.80,399.07 501.30,399.12 501.80,399.12 502.30,399.07 502.80,399.10 503.30,399.05 503.80,398.97 504.30,398.98 504.80,399.08 505.30,399.22 505.80,399.37 506.30,399.48 506.80,399.54 507.30,399.58 507.80,399.59 508.30,399.60 508.80,399.60 509.30,399.60 509.80,399.60 510.30,399.60 510.80,399.60 510.90,399.60" fill="#2a1d7e" fill-opacity="0.8"/>
<path d="M489.72,399.60 L490.32,397.39 L491.12,397.39 L491.72,399.60Z" fill="url(#pg2)" fill-opacity="0.9"/>
<line x1="490.72" y1="399.60" x2="490.72" y2="397.61" stroke="#2a1d85" stroke-width="0.5" stroke-opacity="0.6"/>
<path d="M490.80,399.60 L491.40,397.05 L492.20,397.05 L492.80,399.60Z" fill="url(#pg2)" fill-opacity="0.9"/>
<line x1="491.80" y1="399.60" x2="491.80" y2="397.30" stroke="#2a1d85" stroke-width="0.5" stroke-opacity="0.6"/>
<path d="M494.33,399.60 L494.93,383.96 L495.73,383.96 L496.33,399.60Z" fill="url(#pg2)" fill-opacity="0.9"/>
<line x1="495.33" y1="399.60" x2="495.33" y2="385.52" stroke="#2a1d85" stroke-width="0.5" stroke-opacity="0.6"/>
<path d="M496.77,399.60 L497.37,394.33 L498.17,394.33 L498.77,399.60Z" fill="url(#pg2)" fill-opacity="0.9"/>
<line x1="497.77" y1="399.60" x2="497.77" y2="394.86" stroke="#2a1d85" stroke-width="0.5" stroke-opacity="0.6"/>
<path d="M497.85,399.60 L498.45,395.35 L499.25,395.35 L499.85,399.60Z" fill="url(#pg2)" fill-opacity="0.9"/>
<line x1="498.85" y1="399.60" x2="498.85" y2="395.77" stroke="#2a1d85" stroke-width="0.5" stroke-opacity="0.6"/>
<path d="M499.75,399.60 L500.35,396.20 L501.15,396.20 L501.75,399.60Z" fill="url(#pg2)" fill-opacity="0.9"/>
<line x1="500.75" y1="399.60" x2="500.75" y2="396.54" stroke="#2a1d85" stroke-width="0.5" stroke-opacity="0.6"/>
<path d="M501.37,399.60 L501.97,396.20 L502.77,396.20 L503.37,399.60Z" fill="url(#pg2)" fill-opacity="0.9"/>
<line x1="502.37" y1="399.60" x2="502.37" y2="396.54" stroke="#2a1d85" stroke-width="0.5" stroke-opacity="0.6"/>
<path d="M503.00,399.60 L503.60,395.52 L504.40,395.52 L505.00,399.60Z" fill="url(#pg2)" fill-opacity="0.9"/>
<line x1="504.00" y1="399.60" x2="504.00" y2="395.93" stroke="#2a1d85" stroke-width="0.5" stroke-opacity="0.6"/>
<line x1="487.3" y1="399.60" x2="510.4" y2="399.60" stroke="#8a84c0" stroke-width="0.6"/>
<rect x="485.85" y="382.25" width="26.00" height="18.10" rx="0.9" fill="none" stroke="#5aa0dc" stroke-width="1.1"/>
<text x="411.05" y="406.90" font-size="4.8" text-anchor="middle" fill="#2a2a2a">BV13</text>
<line x1="402.50" y1="411.80" x2="421.10" y2="411.80" stroke="#d8d8e0" stroke-width="0.5"/>
<polygon points="399.00,427.30 399.00,427.30 399.50,427.30 400.00,427.30 400.50,427.30 401.00,427.30 401.50,427.30 402.00,427.29 402.50,427.26 403.00,427.21 403.50,427.12 404.00,426.97 404.50,426.80 405.00,426.64 405.50,426.56 406.00,426.59 406.50,426.71 407.00,426.54 407.50,426.23 408.00,426.02 408.50,425.98 409.00,425.41 409.50,424.94 410.00,424.90 410.50,424.99 411.00,425.49 411.50,425.83 412.00,426.01 412.50,425.91 413.00,425.84 413.50,425.27 414.00,424.90 414.50,424.90 415.00,425.17 415.50,425.71 416.00,426.02 416.50,426.23 417.00,426.26 417.50,426.25 418.00,426.39 418.50,426.63 419.00,426.87 419.50,427.07 420.00,427.19 420.50,427.26 421.00,427.29 421.50,427.30 422.00,427.30 422.50,427.30 423.00,427.30 423.10,427.30" fill="#2a1d7e" fill-opacity="0.8"/>
<path d="M404.63,427.30 L405.23,422.54 L406.03,422.54 L406.63,427.30Z" fill="url(#pg2)" fill-opacity="0.9"/>
<line x1="405.63" y1="427.30" x2="405.63" y2="423.02" stroke="#2a1d85" stroke-width="0.5" stroke-opacity="0.6"/>
<path d="M407.34,427.30 L407.94,418.80 L408.74,418.80 L409.34,427.30Z" fill="url(#pg2)" fill-opacity="0.9"/>
<line x1="408.34" y1="427.30" x2="408.34" y2="419.65" stroke="#2a1d85" stroke-width="0.5" stroke-opacity="0.6"/>
<path d="M408.97,427.30 L409.57,411.15 L410.37,411.15 L410.97,427.30Z" fill="url(#pg2)" fill-opacity="0.9"/>
<line x1="409.97" y1="427.30" x2="409.97" y2="412.76" stroke="#2a1d85" stroke-width="0.5" stroke-opacity="0.6"/>
<path d="M410.32,427.30 L410.92,417.78 L411.72,417.78 L412.32,427.30Z" fill="url(#pg2)" fill-opacity="0.9"/>
<line x1="411.32" y1="427.30" x2="411.32" y2="418.73" stroke="#2a1d85" stroke-width="0.5" stroke-opacity="0.6"/>
<path d="M411.68,427.30 L412.28,418.29 L413.08,418.29 L413.68,427.30Z" fill="url(#pg2)" fill-opacity="0.9"/>
<line x1="412.68" y1="427.30" x2="412.68" y2="419.19" stroke="#2a1d85" stroke-width="0.5" stroke-opacity="0.6"/>
<path d="M413.30,427.30 L413.90,411.49 L414.70,411.49 L415.30,427.30Z" fill="url(#pg2)" fill-opacity="0.9"/>
<line x1="414.30" y1="427.30" x2="414.30" y2="413.07" stroke="#2a1d85" stroke-width="0.5" stroke-opacity="0.6"/>
<path d="M414.66,427.30 L415.26,418.80 L416.06,418.80 L416.66,427.30Z" fill="url(#pg2)" fill-opacity="0.9"/>
<line x1="415.66" y1="427.30" x2="415.66" y2="419.65" stroke="#2a1d85" stroke-width="0.5" stroke-opacity="0.6"/>
<path d="M416.28,427.30 L416.88,420.50 L417.68,420.50 L418.28,427.30Z" fill="url(#pg2)" fill-opacity="0.9"/>
<line x1="417.28" y1="427.30" x2="417.28" y2="421.18" stroke="#2a1d85" stroke-width="0.5" stroke-opacity="0.6"/>
<line x1="399.5" y1="427.30" x2="422.6" y2="427.30" stroke="#8a84c0" stroke-width="0.6"/>
<rect x="398.05" y="409.95" width="26.00" height="18.10" rx="0.9" fill="none" stroke="#5aa0dc" stroke-width="1.1"/>
<text x="440.35" y="406.90" font-size="4.8" text-anchor="middle" fill="#2a2a2a">BV14</text>
<line x1="431.80" y1="411.80" x2="450.40" y2="411.80" stroke="#d8d8e0" stroke-width="0.5"/>
<polygon points="428.30,427.30 428.30,427.30 428.80,427.30 429.30,427.30 429.80,427.30 430.30,427.30 430.80,427.30 431.30,427.30 431.80,427.29 432.30,427.27 432.80,427.21 433.30,427.09 433.80,426.89 434.30,426.60 434.80,426.29 435.30,426.05 435.80,425.97 436.30,426.09 436.80,426.31 437.30,425.90 437.80,425.60 438.30,425.53 438.80,425.72 439.30,426.09 439.80,426.48 440.30,426.40 440.80,425.95 441.30,425.35 441.80,424.90 442.30,424.90 442.80,424.96 443.30,425.47 443.80,425.01 444.30,424.90 444.80,424.90 445.30,425.28 445.80,425.87 446.30,426.42 446.80,426.41 447.30,426.53 447.80,426.73 448.30,426.94 448.80,427.10 449.30,427.21 449.80,427.26 450.30,427.29 450.80,427.30 451.30,427.30 451.80,427.30 452.30,427.30 452.40,427.30" fill="#2a1d7e" fill-opacity="0.8"/>
<path d="M434.74,427.30 L435.34,418.80 L436.14,418.80 L436.74,427.30Z" fill="url(#pg2)" fill-opacity="0.9"/>
<line x1="435.74" y1="427.30" x2="435.74" y2="419.65" stroke="#2a1d85" stroke-width="0.5" stroke-opacity="0.6"/>
<path d="M437.18,427.30 L437.78,415.91 L438.58,415.91 L439.18,427.30Z" fill="url(#pg2)" fill-opacity="0.9"/>
<line x1="438.18" y1="427.30" x2="438.18" y2="417.05" stroke="#2a1d85" stroke-width="0.5" stroke-opacity="0.6"/>
<path d="M439.35,427.30 L439.95,421.52 L440.75,421.52 L441.35,427.30Z" fill="url(#pg2)" fill-opacity="0.9"/>
<line x1="440.35" y1="427.30" x2="440.35" y2="422.10" stroke="#2a1d85" stroke-width="0.5" stroke-opacity="0.6"/>
<path d="M441.25,427.30 L441.85,410.90 L442.65,410.90 L443.25,427.30Z" fill="url(#pg2)" fill-opacity="0.9"/>
<line x1="442.25" y1="427.30" x2="442.25" y2="412.54" stroke="#2a1d85" stroke-width="0.5" stroke-opacity="0.6"/>
<path d="M443.42,427.30 L444.02,410.90 L444.81,410.90 L445.42,427.30Z" fill="url(#pg2)" fill-opacity="0.9"/>
<line x1="444.42" y1="427.30" x2="444.42" y2="412.54" stroke="#2a1d85" stroke-width="0.5" stroke-opacity="0.6"/>
<path d="M445.58,427.30 L446.18,421.52 L446.98,421.52 L447.58,427.30Z" fill="url(#pg2)" fill-opacity="0.9"/>
<line x1="446.58" y1="427.30" x2="446.58" y2="422.10" stroke="#2a1d85" stroke-width="0.5" stroke-opacity="0.6"/>
<line x1="428.8" y1="427.30" x2="451.90000000000003" y2="427.30" stroke="#8a84c0" stroke-width="0.6"/>
<rect x="427.35" y="409.95" width="26.00" height="18.10" rx="0.9" fill="none" stroke="#5aa0dc" stroke-width="1.1"/>
<text x="469.35" y="406.90" font-size="4.8" text-anchor="middle" fill="#2a2a2a">BV15</text>
<line x1="460.80" y1="411.80" x2="479.40" y2="411.80" stroke="#d8d8e0" stroke-width="0.5"/>
<polygon points="457.30,427.30 457.30,427.30 457.80,427.30 458.30,427.30 458.80,427.30 459.30,427.29 459.80,427.27 460.30,427.22 460.80,427.11 461.30,426.95 461.80,426.72 462.30,426.50 462.80,426.35 463.30,426.33 463.80,426.45 464.30,426.66 464.80,426.63 465.30,426.52 465.80,426.52 466.30,426.63 466.80,426.66 467.30,426.36 467.80,426.13 468.30,426.05 468.80,426.16 469.30,426.40 469.80,426.54 470.30,426.37 470.80,426.14 471.30,425.58 471.80,425.11 472.30,424.91 472.80,425.07 473.30,425.51 473.80,426.07 474.30,426.51 474.80,426.53 475.30,426.65 475.80,426.83 476.30,427.01 476.80,427.14 477.30,427.23 477.80,427.27 478.30,427.29 478.80,427.30 479.30,427.30 479.80,427.30 480.30,427.30 480.80,427.30 481.30,427.30 481.40,427.30" fill="#2a1d7e" fill-opacity="0.8"/>
<path d="M462.12,427.30 L462.72,421.01 L463.52,421.01 L464.12,427.30Z" fill="url(#pg2)" fill-opacity="0.9"/>
<line x1="463.12" y1="427.30" x2="463.12" y2="421.64" stroke="#2a1d85" stroke-width="0.5" stroke-opacity="0.6"/>
<path d="M464.56,427.30 L465.16,422.20 L465.96,422.20 L466.56,427.30Z" fill="url(#pg2)" fill-opacity="0.9"/>
<line x1="465.56" y1="427.30" x2="465.56" y2="422.71" stroke="#2a1d85" stroke-width="0.5" stroke-opacity="0.6"/>
<path d="M467.27,427.30 L467.87,419.31 L468.67,419.31 L469.27,427.30Z" fill="url(#pg2)" fill-opacity="0.9"/>
<line x1="468.27" y1="427.30" x2="468.27" y2="420.11" stroke="#2a1d85" stroke-width="0.5" stroke-opacity="0.6"/>
<path d="M469.71,427.30 L470.31,421.01 L471.11,421.01 L471.71,427.30Z" fill="url(#pg2)" fill-opacity="0.9"/>
<line x1="470.71" y1="427.30" x2="470.71" y2="421.64" stroke="#2a1d85" stroke-width="0.5" stroke-opacity="0.6"/>
<path d="M471.33,427.30 L471.93,412.00 L472.73,412.00 L473.33,427.30Z" fill="url(#pg2)" fill-opacity="0.9"/>
<line x1="472.33" y1="427.30" x2="472.33" y2="413.53" stroke="#2a1d85" stroke-width="0.5" stroke-opacity="0.6"/>
<path d="M473.50,427.30 L474.10,422.20 L474.90,422.20 L475.50,427.30Z" fill="url(#pg2)" fill-opacity="0.9"/>
<line x1="474.50" y1="427.30" x2="474.50" y2="422.71" stroke="#2a1d85" stroke-width="0.5" stroke-opacity="0.6"/>
<line x1="457.8" y1="427.30" x2="480.90000000000003" y2="427.30" stroke="#8a84c0" stroke-width="0.6"/>
<rect x="456.35" y="409.95" width="26.00" height="18.10" rx="0.9" fill="none" stroke="#5aa0dc" stroke-width="1.1"/>
<text x="498.85" y="406.90" font-size="4.8" text-anchor="middle" fill="#2a2a2a">BV16</text>
<line x1="490.30" y1="411.80" x2="508.90" y2="411.80" stroke="#d8d8e0" stroke-width="0.5"/>
<polygon points="486.80,427.30 486.80,427.30 487.30,427.30 487.80,427.30 488.30,427.30 488.80,427.30 489.30,427.30 489.80,427.29 490.30,427.28 490.80,427.23 491.30,427.13 491.80,426.95 492.30,426.66 492.80,426.31 493.30,425.98 493.80,425.80 494.30,425.84 494.80,426.07 495.30,425.87 495.80,425.27 496.30,424.90 496.80,424.90 497.30,425.01 497.80,425.55 498.30,426.15 498.80,426.65 499.30,426.69 499.80,426.34 500.30,426.01 500.80,425.81 501.30,425.82 501.80,426.05 502.30,425.60 502.80,425.05 503.30,424.90 503.80,424.90 504.30,425.23 504.80,425.82 505.30,426.40 505.80,426.83 506.30,427.09 506.80,427.22 507.30,427.27 507.80,427.29 508.30,427.30 508.80,427.30 509.30,427.30 509.80,427.30 510.30,427.30 510.80,427.30 510.90,427.30" fill="#2a1d7e" fill-opacity="0.8"/>
<path d="M492.97,427.30 L493.57,417.61 L494.37,417.61 L494.97,427.30Z" fill="url(#pg2)" fill-opacity="0.9"/>
<line x1="493.97" y1="427.30" x2="493.97" y2="418.58" stroke="#2a1d85" stroke-width="0.5" stroke-opacity="0.6"/>
<path d="M495.68,427.30 L496.28,410.90 L497.08,410.90 L497.68,427.30Z" fill="url(#pg2)" fill-opacity="0.9"/>
<line x1="496.68" y1="427.30" x2="496.68" y2="412.54" stroke="#2a1d85" stroke-width="0.5" stroke-opacity="0.6"/>
<path d="M500.02,427.30 L500.62,417.61 L501.42,417.61 L502.02,427.30Z" fill="url(#pg2)" fill-opacity="0.9"/>
<line x1="501.02" y1="427.30" x2="501.02" y2="418.58" stroke="#2a1d85" stroke-width="0.5" stroke-opacity="0.6"/>
<path d="M502.46,427.30 L503.06,410.90 L503.86,410.90 L504.46,427.30Z" fill="url(#pg2)" fill-opacity="0.9"/>
<line x1="503.46" y1="427.30" x2="503.46" y2="412.54" stroke="#2a1d85" stroke-width="0.5" stroke-opacity="0.6"/>
<line x1="487.3" y1="427.30" x2="510.4" y2="427.30" stroke="#8a84c0" stroke-width="0.6"/>
<rect x="485.85" y="409.95" width="26.00" height="18.10" rx="0.9" fill="none" stroke="#5aa0dc" stroke-width="1.1"/>
<text x="411.05" y="434.80" font-size="4.8" text-anchor="middle" fill="#2a2a2a">BV17</text>
<line x1="402.50" y1="439.70" x2="421.10" y2="439.70" stroke="#d8d8e0" stroke-width="0.5"/>
<polygon points="399.00,455.20 399.00,455.20 399.50,455.20 400.00,455.20 400.50,455.20 401.00,455.20 401.50,455.20 402.00,455.20 402.50,455.20 403.00,455.20 403.50,455.20 404.00,455.20 404.50,455.20 405.00,455.20 405.50,455.19 406.00,455.16 406.50,455.09 407.00,454.94 407.50,454.69 408.00,454.35 408.50,453.98 409.00,453.69 409.50,453.61 410.00,453.76 410.50,453.81 411.00,453.24 411.50,452.83 412.00,452.80 412.50,453.02 413.00,452.91 413.50,452.80 414.00,452.92 414.50,452.80 415.00,452.87 415.50,453.31 416.00,453.88 416.50,454.41 417.00,454.80 417.50,454.99 418.00,455.00 418.50,455.04 419.00,455.09 419.50,455.13 420.00,455.17 420.50,455.19 421.00,455.19 421.50,455.20 422.00,455.20 422.50,455.20 423.00,455.20 423.10,455.20" fill="#2a1d7e" fill-opacity="0.8"/>
<path d="M408.42,455.20 L409.02,445.00 L409.82,445.00 L410.42,455.20Z" fill="url(#pg2)" fill-opacity="0.9"/>
<line x1="409.42" y1="455.20" x2="409.42" y2="446.02" stroke="#2a1d85" stroke-width="0.5" stroke-opacity="0.6"/>
<path d="M410.86,455.20 L411.46,439.39 L412.26,439.39 L412.86,455.20Z" fill="url(#pg2)" fill-opacity="0.9"/>
<line x1="411.86" y1="455.20" x2="411.86" y2="440.97" stroke="#2a1d85" stroke-width="0.5" stroke-opacity="0.6"/>
<path d="M412.49,455.20 L413.09,439.39 L413.89,439.39 L414.49,455.20Z" fill="url(#pg2)" fill-opacity="0.9"/>
<line x1="413.49" y1="455.20" x2="413.49" y2="440.97" stroke="#2a1d85" stroke-width="0.5" stroke-opacity="0.6"/>
<path d="M413.57,455.20 L414.17,439.39 L414.97,439.39 L415.57,455.20Z" fill="url(#pg2)" fill-opacity="0.9"/>
<line x1="414.57" y1="455.20" x2="414.57" y2="440.97" stroke="#2a1d85" stroke-width="0.5" stroke-opacity="0.6"/>
<path d="M416.55,455.20 L417.15,453.84 L417.95,453.84 L418.55,455.20Z" fill="url(#pg2)" fill-opacity="0.9"/>
<line x1="417.55" y1="455.20" x2="417.55" y2="453.98" stroke="#2a1d85" stroke-width="0.5" stroke-opacity="0.6"/>
<line x1="399.5" y1="455.20" x2="422.6" y2="455.20" stroke="#8a84c0" stroke-width="0.6"/>
<rect x="398.05" y="437.85" width="26.00" height="18.10" rx="0.9" fill="none" stroke="#5aa0dc" stroke-width="1.1"/>
<text x="440.35" y="434.80" font-size="4.8" text-anchor="middle" fill="#2a2a2a">BV18</text>
<line x1="431.80" y1="439.70" x2="450.40" y2="439.70" stroke="#d8d8e0" stroke-width="0.5"/>
<polygon points="428.30,455.20 428.30,455.20 428.80,455.20 429.30,455.20 429.80,455.20 430.30,455.20 430.80,455.20 431.30,455.19 431.80,455.18 432.30,455.14 432.80,455.03 433.30,454.81 433.80,454.43 434.30,453.90 434.80,453.32 435.30,452.88 435.80,452.80 436.30,452.93 436.80,452.80 437.30,452.89 437.80,453.36 438.30,453.37 438.80,452.91 439.30,452.80 439.80,452.96 440.30,453.44 440.80,453.61 441.30,453.08 441.80,452.80 442.30,452.83 442.80,453.22 443.30,452.99 443.80,452.80 444.30,452.89 444.80,453.10 445.30,452.80 445.80,452.82 446.30,453.20 446.80,453.75 447.30,454.30 447.80,454.72 448.30,454.98 448.80,455.12 449.30,455.17 449.80,455.19 450.30,455.20 450.80,455.20 451.30,455.20 451.80,455.20 452.30,455.20 452.40,455.20" fill="#2a1d7e" fill-opacity="0.8"/>
<path d="M434.74,455.20 L435.34,439.39 L436.14,439.39 L436.74,455.20Z" fill="url(#pg2)" fill-opacity="0.9"/>
<line x1="435.74" y1="455.20" x2="435.74" y2="440.97" stroke="#2a1d85" stroke-width="0.5" stroke-opacity="0.6"/>
<path d="M435.83,455.20 L436.43,439.39 L437.23,439.39 L437.83,455.20Z" fill="url(#pg2)" fill-opacity="0.9"/>
<line x1="436.83" y1="455.20" x2="436.83" y2="440.97" stroke="#2a1d85" stroke-width="0.5" stroke-opacity="0.6"/>
<path d="M438.27,455.20 L438.87,439.56 L439.67,439.56 L440.27,455.20Z" fill="url(#pg2)" fill-opacity="0.9"/>
<line x1="439.27" y1="455.20" x2="439.27" y2="441.12" stroke="#2a1d85" stroke-width="0.5" stroke-opacity="0.6"/>
<path d="M440.98,455.20 L441.58,439.56 L442.38,439.56 L442.98,455.20Z" fill="url(#pg2)" fill-opacity="0.9"/>
<line x1="441.98" y1="455.20" x2="441.98" y2="441.12" stroke="#2a1d85" stroke-width="0.5" stroke-opacity="0.6"/>
<path d="M442.87,455.20 L443.47,439.56 L444.27,439.56 L444.87,455.20Z" fill="url(#pg2)" fill-opacity="0.9"/>
<line x1="443.87" y1="455.20" x2="443.87" y2="441.12" stroke="#2a1d85" stroke-width="0.5" stroke-opacity="0.6"/>
<path d="M444.50,455.20 L445.10,439.56 L445.90,439.56 L446.50,455.20Z" fill="url(#pg2)" fill-opacity="0.9"/>
<line x1="445.50" y1="455.20" x2="445.50" y2="441.12" stroke="#2a1d85" stroke-width="0.5" stroke-opacity="0.6"/>
<line x1="428.8" y1="455.20" x2="451.90000000000003" y2="455.20" stroke="#8a84c0" stroke-width="0.6"/>
<rect x="427.35" y="437.85" width="26.00" height="18.10" rx="0.9" fill="none" stroke="#5aa0dc" stroke-width="1.1"/>
<text x="469.35" y="434.80" font-size="4.8" text-anchor="middle" fill="#2a2a2a">BV19</text>
<line x1="460.80" y1="439.70" x2="479.40" y2="439.70" stroke="#d8d8e0" stroke-width="0.5"/>
<polygon points="457.30,455.20 457.30,455.20 457.80,455.20 458.30,455.20 458.80,455.20 459.30,455.20 459.80,455.20 460.30,455.19 460.80,455.17 461.30,455.11 461.80,454.99 462.30,454.75 462.80,454.39 463.30,453.95 463.80,453.54 464.30,453.31 464.80,453.35 465.30,453.65 465.80,454.09 466.30,453.53 466.80,452.99 467.30,452.80 467.80,452.80 468.30,453.18 468.80,453.76 469.30,453.66 469.80,453.62 470.30,453.65 470.80,453.28 471.30,453.16 471.80,453.33 472.30,453.16 472.80,453.29 473.30,453.67 473.80,454.15 474.30,454.58 474.80,454.89 475.30,455.05 475.80,455.10 476.30,455.14 476.80,455.17 477.30,455.19 477.80,455.20 478.30,455.20 478.80,455.20 479.30,455.20 479.80,455.20 480.30,455.20 480.80,455.20 481.30,455.20 481.40,455.20" fill="#2a1d7e" fill-opacity="0.8"/>
<path d="M463.47,455.20 L464.07,442.96 L464.87,442.96 L465.47,455.20Z" fill="url(#pg2)" fill-opacity="0.9"/>
<line x1="464.47" y1="455.20" x2="464.47" y2="444.18" stroke="#2a1d85" stroke-width="0.5" stroke-opacity="0.6"/>
<path d="M466.45,455.20 L467.05,439.05 L467.85,439.05 L468.45,455.20Z" fill="url(#pg2)" fill-opacity="0.9"/>
<line x1="467.45" y1="455.20" x2="467.45" y2="440.66" stroke="#2a1d85" stroke-width="0.5" stroke-opacity="0.6"/>
<path d="M468.62,455.20 L469.22,445.00 L470.02,445.00 L470.62,455.20Z" fill="url(#pg2)" fill-opacity="0.9"/>
<line x1="469.62" y1="455.20" x2="469.62" y2="446.02" stroke="#2a1d85" stroke-width="0.5" stroke-opacity="0.6"/>
<path d="M470.25,455.20 L470.85,442.11 L471.65,442.11 L472.25,455.20Z" fill="url(#pg2)" fill-opacity="0.9"/>
<line x1="471.25" y1="455.20" x2="471.25" y2="443.42" stroke="#2a1d85" stroke-width="0.5" stroke-opacity="0.6"/>
<path d="M471.33,455.20 L471.93,442.11 L472.73,442.11 L473.33,455.20Z" fill="url(#pg2)" fill-opacity="0.9"/>
<line x1="472.33" y1="455.20" x2="472.33" y2="443.42" stroke="#2a1d85" stroke-width="0.5" stroke-opacity="0.6"/>
<path d="M473.23,455.20 L473.83,453.84 L474.63,453.84 L475.23,455.20Z" fill="url(#pg2)" fill-opacity="0.9"/>
<line x1="474.23" y1="455.20" x2="474.23" y2="453.98" stroke="#2a1d85" stroke-width="0.5" stroke-opacity="0.6"/>
<line x1="457.8" y1="455.20" x2="480.90000000000003" y2="455.20" stroke="#8a84c0" stroke-width="0.6"/>
<rect x="456.35" y="437.85" width="26.00" height="18.10" rx="0.9" fill="none" stroke="#5aa0dc" stroke-width="1.1"/>
<text x="498.85" y="434.80" font-size="4.8" text-anchor="middle" fill="#2a2a2a">BV20</text>
<line x1="490.30" y1="439.70" x2="508.90" y2="439.70" stroke="#d8d8e0" stroke-width="0.5"/>
<polygon points="486.80,455.20 486.80,455.20 487.30,455.20 487.80,455.20 488.30,455.20 488.80,455.19 489.30,455.18 489.80,455.15 490.30,455.09 490.80,455.01 491.30,454.92 491.80,454.81 492.30,454.44 492.80,453.91 493.30,453.34 493.80,452.90 494.30,452.80 494.80,452.98 495.30,453.47 495.80,453.74 496.30,453.82 496.80,454.08 497.30,453.74 497.80,453.36 498.30,453.21 498.80,453.35 499.30,453.73 499.80,454.20 500.30,454.48 500.80,454.36 501.30,454.37 501.80,454.39 502.30,454.05 502.80,453.80 503.30,453.75 503.80,453.90 504.30,454.20 504.80,454.55 505.30,454.71 505.80,454.84 506.30,454.98 506.80,455.08 507.30,455.14 507.80,455.18 508.30,455.19 508.80,455.20 509.30,455.20 509.80,455.20 510.30,455.20 510.80,455.20 510.90,455.20" fill="#2a1d7e" fill-opacity="0.8"/>
<path d="M491.35,455.20 L491.95,452.65 L492.75,452.65 L493.35,455.20Z" fill="url(#pg2)" fill-opacity="0.9"/>
<line x1="492.35" y1="455.20" x2="492.35" y2="452.90" stroke="#2a1d85" stroke-width="0.5" stroke-opacity="0.6"/>
<path d="M493.24,455.20 L493.84,439.56 L494.64,439.56 L495.24,455.20Z" fill="url(#pg2)" fill-opacity="0.9"/>
<line x1="494.24" y1="455.20" x2="494.24" y2="441.12" stroke="#2a1d85" stroke-width="0.5" stroke-opacity="0.6"/>
<path d="M494.87,455.20 L495.47,445.85 L496.27,445.85 L496.87,455.20Z" fill="url(#pg2)" fill-opacity="0.9"/>
<line x1="495.87" y1="455.20" x2="495.87" y2="446.78" stroke="#2a1d85" stroke-width="0.5" stroke-opacity="0.6"/>
<path d="M497.31,455.20 L497.91,442.45 L498.71,442.45 L499.31,455.20Z" fill="url(#pg2)" fill-opacity="0.9"/>
<line x1="498.31" y1="455.20" x2="498.31" y2="443.72" stroke="#2a1d85" stroke-width="0.5" stroke-opacity="0.6"/>
<path d="M498.93,455.20 L499.53,450.95 L500.33,450.95 L500.93,455.20Z" fill="url(#pg2)" fill-opacity="0.9"/>
<line x1="499.93" y1="455.20" x2="499.93" y2="451.38" stroke="#2a1d85" stroke-width="0.5" stroke-opacity="0.6"/>
<path d="M500.02,455.20 L500.62,449.76 L501.42,449.76 L502.02,455.20Z" fill="url(#pg2)" fill-opacity="0.9"/>
<line x1="501.02" y1="455.20" x2="501.02" y2="450.30" stroke="#2a1d85" stroke-width="0.5" stroke-opacity="0.6"/>
<path d="M502.19,455.20 L502.79,445.85 L503.59,445.85 L504.19,455.20Z" fill="url(#pg2)" fill-opacity="0.9"/>
<line x1="503.19" y1="455.20" x2="503.19" y2="446.78" stroke="#2a1d85" stroke-width="0.5" stroke-opacity="0.6"/>
<path d="M503.54,455.20 L504.14,451.46 L504.94,451.46 L505.54,455.20Z" fill="url(#pg2)" fill-opacity="0.9"/>
<line x1="504.54" y1="455.20" x2="504.54" y2="451.83" stroke="#2a1d85" stroke-width="0.5" stroke-opacity="0.6"/>
<line x1="487.3" y1="455.20" x2="510.4" y2="455.20" stroke="#8a84c0" stroke-width="0.6"/>
<rect x="485.85" y="437.85" width="26.00" height="18.10" rx="0.9" fill="none" stroke="#5aa0dc" stroke-width="1.1"/>
<text x="411.05" y="462.50" font-size="4.8" text-anchor="middle" fill="#2a2a2a">BV21</text>
<line x1="402.50" y1="467.40" x2="421.10" y2="467.40" stroke="#d8d8e0" stroke-width="0.5"/>
<polygon points="399.00,482.90 399.00,482.90 399.50,482.90 400.00,482.90 400.50,482.90 401.00,482.90 401.50,482.90 402.00,482.90 402.50,482.90 403.00,482.90 403.50,482.89 404.00,482.88 404.50,482.84 405.00,482.75 405.50,482.56 406.00,482.26 406.50,481.87 407.00,481.48 407.50,481.22 408.00,481.19 408.50,480.82 409.00,480.73 409.50,480.96 410.00,481.42 410.50,481.93 411.00,481.80 411.50,481.57 412.00,481.53 412.50,481.13 413.00,480.68 413.50,480.51 414.00,480.69 414.50,481.16 415.00,481.72 415.50,482.02 416.00,481.97 416.50,482.06 417.00,482.16 417.50,482.21 418.00,482.35 418.50,482.52 419.00,482.68 419.50,482.79 420.00,482.85 420.50,482.88 421.00,482.89 421.50,482.90 422.00,482.90 422.50,482.90 423.00,482.90 423.10,482.90" fill="#2a1d7e" fill-opacity="0.8"/>
<path d="M406.80,482.90 L407.40,471.85 L408.20,471.85 L408.80,482.90Z" fill="url(#pg2)" fill-opacity="0.9"/>
<line x1="407.80" y1="482.90" x2="407.80" y2="472.95" stroke="#2a1d85" stroke-width="0.5" stroke-opacity="0.6"/>
<path d="M407.88,482.90 L408.48,468.96 L409.28,468.96 L409.88,482.90Z" fill="url(#pg2)" fill-opacity="0.9"/>
<line x1="408.88" y1="482.90" x2="408.88" y2="470.35" stroke="#2a1d85" stroke-width="0.5" stroke-opacity="0.6"/>
<path d="M409.24,482.90 L409.84,476.95 L410.64,476.95 L411.24,482.90Z" fill="url(#pg2)" fill-opacity="0.9"/>
<line x1="410.24" y1="482.90" x2="410.24" y2="477.54" stroke="#2a1d85" stroke-width="0.5" stroke-opacity="0.6"/>
<path d="M410.86,482.90 L411.46,474.06 L412.26,474.06 L412.86,482.90Z" fill="url(#pg2)" fill-opacity="0.9"/>
<line x1="411.86" y1="482.90" x2="411.86" y2="474.94" stroke="#2a1d85" stroke-width="0.5" stroke-opacity="0.6"/>
<path d="M412.49,482.90 L413.09,467.60 L413.89,467.60 L414.49,482.90Z" fill="url(#pg2)" fill-opacity="0.9"/>
<line x1="413.49" y1="482.90" x2="413.49" y2="469.13" stroke="#2a1d85" stroke-width="0.5" stroke-opacity="0.6"/>
<path d="M414.93,482.90 L415.53,476.95 L416.33,476.95 L416.93,482.90Z" fill="url(#pg2)" fill-opacity="0.9"/>
<line x1="415.93" y1="482.90" x2="415.93" y2="477.54" stroke="#2a1d85" stroke-width="0.5" stroke-opacity="0.6"/>
<path d="M416.01,482.90 L416.61,478.14 L417.41,478.14 L418.01,482.90Z" fill="url(#pg2)" fill-opacity="0.9"/>
<line x1="417.01" y1="482.90" x2="417.01" y2="478.62" stroke="#2a1d85" stroke-width="0.5" stroke-opacity="0.6"/>
<line x1="399.5" y1="482.90" x2="422.6" y2="482.90" stroke="#8a84c0" stroke-width="0.6"/>
<rect x="398.05" y="465.55" width="26.00" height="18.10" rx="0.9" fill="none" stroke="#5aa0dc" stroke-width="1.1"/>
<text x="440.35" y="462.50" font-size="4.8" text-anchor="middle" fill="#2a2a2a">BV22</text>
<line x1="431.80" y1="467.40" x2="450.40" y2="467.40" stroke="#d8d8e0" stroke-width="0.5"/>
<path d="M438.27,482.90 L438.87,467.26 L439.67,467.26 L440.27,482.90Z" fill="url(#pg2)" fill-opacity="0.9"/>
<line x1="439.27" y1="482.90" x2="439.27" y2="468.82" stroke="#2a1d85" stroke-width="0.5" stroke-opacity="0.6"/>
<line x1="428.8" y1="482.90" x2="451.90000000000003" y2="482.90" stroke="#8a84c0" stroke-width="0.6"/>
<rect x="427.35" y="465.55" width="26.00" height="18.10" rx="0.9" fill="none" stroke="#5aa0dc" stroke-width="1.1"/>
<text x="469.35" y="462.50" font-size="4.8" text-anchor="middle" fill="#2a2a2a">BV24</text>
<line x1="460.80" y1="467.40" x2="479.40" y2="467.40" stroke="#d8d8e0" stroke-width="0.5"/>
<polygon points="457.30,482.90 457.30,482.90 457.80,482.90 458.30,482.90 458.80,482.90 459.30,482.90 459.80,482.90 460.30,482.90 460.80,482.89 461.30,482.87 461.80,482.80 462.30,482.65 462.80,482.36 463.30,481.90 463.80,481.33 464.30,480.79 464.80,480.50 465.30,480.50 465.80,480.86 466.30,481.26 466.80,480.73 467.30,480.50 467.80,480.52 468.30,480.50 468.80,480.50 469.30,480.68 469.80,480.50 470.30,480.55 470.80,480.98 471.30,481.12 471.80,480.64 472.30,480.50 472.80,480.59 473.30,481.05 473.80,481.63 474.30,482.15 474.80,482.52 475.30,482.74 475.80,482.84 476.30,482.88 476.80,482.89 477.30,482.90 477.80,482.90 478.30,482.90 478.80,482.90 479.30,482.90 479.80,482.90 480.30,482.90 480.80,482.90 481.30,482.90 481.40,482.90" fill="#2a1d7e" fill-opacity="0.8"/>
<path d="M464.01,482.90 L464.61,467.09 L465.41,467.09 L466.01,482.90Z" fill="url(#pg2)" fill-opacity="0.9"/>
<line x1="465.01" y1="482.90" x2="465.01" y2="468.67" stroke="#2a1d85" stroke-width="0.5" stroke-opacity="0.6"/>
<path d="M466.45,482.90 L467.05,467.09 L467.85,467.09 L468.45,482.90Z" fill="url(#pg2)" fill-opacity="0.9"/>
<line x1="467.45" y1="482.90" x2="467.45" y2="468.67" stroke="#2a1d85" stroke-width="0.5" stroke-opacity="0.6"/>
<path d="M467.54,482.90 L468.14,467.09 L468.94,467.09 L469.54,482.90Z" fill="url(#pg2)" fill-opacity="0.9"/>
<line x1="468.54" y1="482.90" x2="468.54" y2="468.67" stroke="#2a1d85" stroke-width="0.5" stroke-opacity="0.6"/>
<path d="M468.89,482.90 L469.49,467.09 L470.29,467.09 L470.89,482.90Z" fill="url(#pg2)" fill-opacity="0.9"/>
<line x1="469.89" y1="482.90" x2="469.89" y2="468.67" stroke="#2a1d85" stroke-width="0.5" stroke-opacity="0.6"/>
<path d="M471.33,482.90 L471.93,467.09 L472.73,467.09 L473.33,482.90Z" fill="url(#pg2)" fill-opacity="0.9"/>
<line x1="472.33" y1="482.90" x2="472.33" y2="468.67" stroke="#2a1d85" stroke-width="0.5" stroke-opacity="0.6"/>
<line x1="457.8" y1="482.90" x2="480.90000000000003" y2="482.90" stroke="#8a84c0" stroke-width="0.6"/>
<rect x="456.35" y="465.55" width="26.00" height="18.10" rx="0.9" fill="none" stroke="#5aa0dc" stroke-width="1.1"/>
<text x="498.85" y="462.50" font-size="4.8" text-anchor="middle" textLength="26" lengthAdjust="spacingAndGlyphs" fill="#2a2a2a">JURKAT/BV8</text>
<line x1="490.30" y1="467.40" x2="508.90" y2="467.40" stroke="#d8d8e0" stroke-width="0.5"/>
<path d="M497.31,482.90 L497.91,468.96 L498.71,468.96 L499.31,482.90Z" fill="url(#pg2)" fill-opacity="0.9"/>
<line x1="498.31" y1="482.90" x2="498.31" y2="470.35" stroke="#2a1d85" stroke-width="0.5" stroke-opacity="0.6"/>
<line x1="487.3" y1="482.90" x2="510.4" y2="482.90" stroke="#8a84c0" stroke-width="0.6"/>
<rect x="485.85" y="465.55" width="26.00" height="18.10" rx="0.9" fill="none" stroke="#5aa0dc" stroke-width="1.1"/>
<text x="454.50" y="493.90" font-size="5.2" text-anchor="middle" fill="#333">SCS: 135</text>
<line x1="518.5" y1="0" x2="518.5" y2="502" stroke="#000" stroke-opacity="0.35" stroke-width="1"/>
<line x1="0" y1="500.5" x2="520" y2="500.5" stroke="#000" stroke-opacity="0.35" stroke-width="1"/>
<text x="7.70" y="17.90" font-size="11.5" font-weight="bold" fill="#000">A</text>
<text x="8.00" y="306.00" font-size="11.5" font-weight="bold" fill="#000">B</text>
<text x="245.60" y="306.00" font-size="11.5" font-weight="bold" fill="#000">C</text>
</svg></div></body></html>
